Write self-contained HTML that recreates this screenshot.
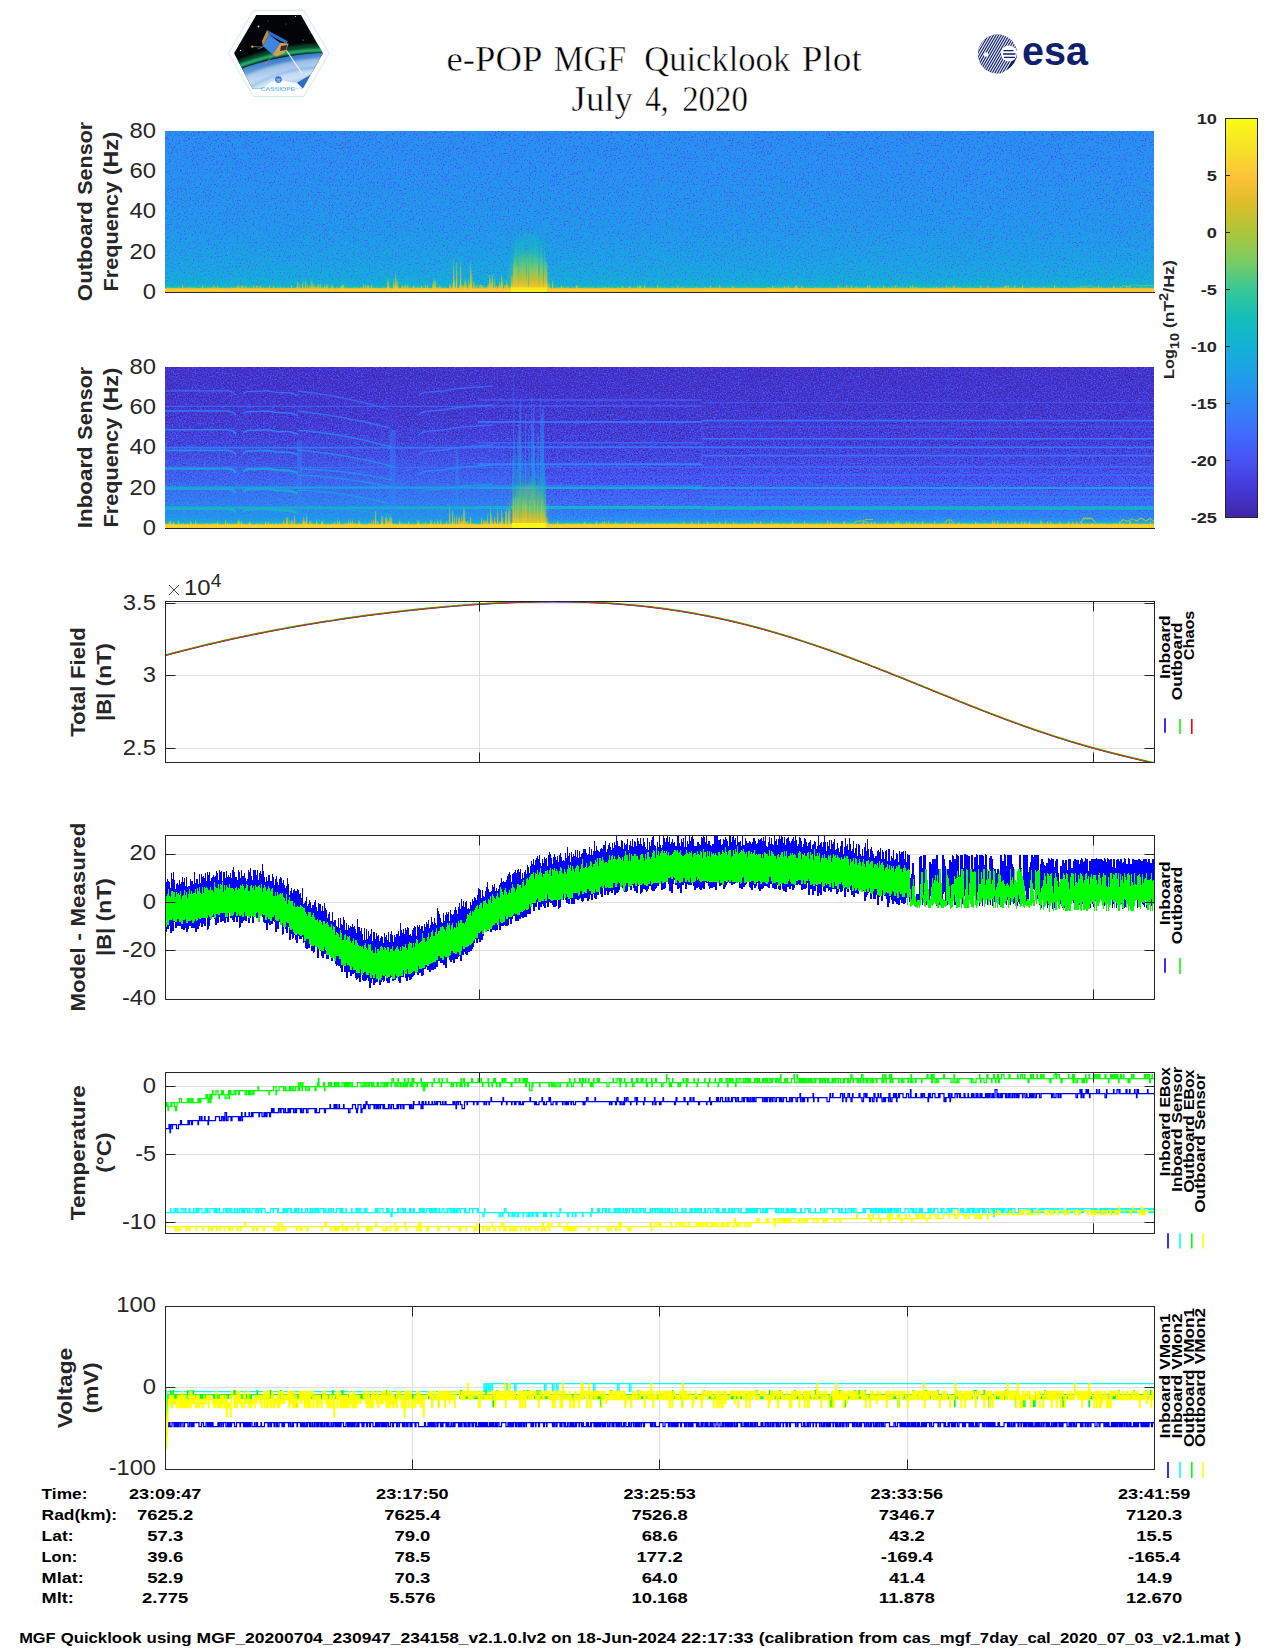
<!DOCTYPE html>
<html><head><meta charset="utf-8"><title>e-POP MGF Quicklook Plot</title>
<style>html,body{margin:0;padding:0;background:#fff}body{width:1275px;height:1650px;overflow:hidden;font-family:"Liberation Sans",sans-serif}svg{display:block}</style>
</head><body>
<svg width="1275" height="1650" viewBox="0 0 1275 1650">
<defs>
<linearGradient id="cb" x1="0" y1="0" x2="0" y2="1"><stop offset="0.0000" stop-color="#F9FB15"/><stop offset="0.0710" stop-color="#F5E327"/><stop offset="0.1430" stop-color="#FEC338"/><stop offset="0.2140" stop-color="#DCBD29"/><stop offset="0.2860" stop-color="#ABC739"/><stop offset="0.3570" stop-color="#7ACC62"/><stop offset="0.4290" stop-color="#37C897"/><stop offset="0.5000" stop-color="#12BEB9"/><stop offset="0.5710" stop-color="#12B1D6"/><stop offset="0.6430" stop-color="#1E9EE8"/><stop offset="0.7140" stop-color="#2E87F7"/><stop offset="0.7860" stop-color="#3F6DFC"/><stop offset="0.8570" stop-color="#4852F4"/><stop offset="0.9286" stop-color="#4538D7"/><stop offset="1.0000" stop-color="#3E26A8"/></linearGradient>
<linearGradient id="s1" x1="0" y1="0" x2="0" y2="1"><stop offset="0.0000" stop-color="#2a8df3"/><stop offset="0.3000" stop-color="#2791f0"/><stop offset="0.6000" stop-color="#2298ec"/><stop offset="0.8000" stop-color="#1ca2e4"/><stop offset="0.9000" stop-color="#17a9dd"/><stop offset="0.9580" stop-color="#12b2d3"/><stop offset="0.9720" stop-color="#28c4a4"/><stop offset="0.9800" stop-color="#f0c132"/><stop offset="1.0000" stop-color="#fcc935"/></linearGradient>
<linearGradient id="s1d" x1="0" y1="0" x2="0" y2="1"><stop offset="0.0000" stop-color="#4853f4"/><stop offset="0.3000" stop-color="#4657f6"/><stop offset="0.6000" stop-color="#4360f8"/><stop offset="0.8000" stop-color="#3f6cfc"/><stop offset="0.9000" stop-color="#3976fa"/><stop offset="0.9580" stop-color="#3084f8"/><stop offset="0.9720" stop-color="#28c4a4"/><stop offset="0.9800" stop-color="#f0c132"/><stop offset="1.0000" stop-color="#fcc935"/></linearGradient>
<linearGradient id="s1l" x1="0" y1="0" x2="0" y2="1"><stop offset="0.0000" stop-color="#1da0e7"/><stop offset="0.3000" stop-color="#1ba3e4"/><stop offset="0.6000" stop-color="#17a9de"/><stop offset="0.8000" stop-color="#12b1d6"/><stop offset="0.9000" stop-color="#12b6cb"/><stop offset="0.9580" stop-color="#12bdbb"/><stop offset="0.9720" stop-color="#28c4a4"/><stop offset="0.9800" stop-color="#f0c132"/><stop offset="1.0000" stop-color="#fcc935"/></linearGradient>
<linearGradient id="s2" x1="0" y1="0" x2="0" y2="1"><stop offset="0.0000" stop-color="#4332c8"/><stop offset="0.2500" stop-color="#4436d1"/><stop offset="0.5000" stop-color="#4640e0"/><stop offset="0.7000" stop-color="#4853f4"/><stop offset="0.8500" stop-color="#406bfb"/><stop offset="0.9300" stop-color="#337ff9"/><stop offset="0.9580" stop-color="#2199eb"/><stop offset="0.9700" stop-color="#37c897"/><stop offset="0.9780" stop-color="#fec338"/><stop offset="1.0000" stop-color="#f7dc2a"/></linearGradient>
<linearGradient id="s2d" x1="0" y1="0" x2="0" y2="1"><stop offset="0.0000" stop-color="#3e26a8"/><stop offset="0.2500" stop-color="#3e26a8"/><stop offset="0.5000" stop-color="#3e27aa"/><stop offset="0.7000" stop-color="#4334cc"/><stop offset="0.8500" stop-color="#4749ea"/><stop offset="0.9300" stop-color="#445df7"/><stop offset="0.9580" stop-color="#367bf9"/><stop offset="0.9700" stop-color="#37c897"/><stop offset="0.9780" stop-color="#fec338"/><stop offset="1.0000" stop-color="#f7dc2a"/></linearGradient>
<linearGradient id="s2l" x1="0" y1="0" x2="0" y2="1"><stop offset="0.0000" stop-color="#474dee"/><stop offset="0.2500" stop-color="#4852f4"/><stop offset="0.5000" stop-color="#445ef8"/><stop offset="0.7000" stop-color="#3c71fb"/><stop offset="0.8500" stop-color="#2d88f6"/><stop offset="0.9300" stop-color="#2199eb"/><stop offset="0.9580" stop-color="#13afd8"/><stop offset="0.9700" stop-color="#37c897"/><stop offset="0.9780" stop-color="#fec338"/><stop offset="1.0000" stop-color="#f7dc2a"/></linearGradient>
<linearGradient id="b1" x1="0" y1="0" x2="0" y2="1"><stop offset="0" stop-color="#37c897" stop-opacity="0"/><stop offset="0.35" stop-color="#7acc62" stop-opacity="0.55"/><stop offset="0.7" stop-color="#dcbd29" stop-opacity="0.85"/><stop offset="1" stop-color="#f9e81c" stop-opacity="1"/></linearGradient>
<linearGradient id="b2" gradientUnits="userSpaceOnUse" x1="0" y1="367" x2="0" y2="528"><stop offset="0" stop-color="#3f6dfc" stop-opacity="0.35"/><stop offset="0.4" stop-color="#2e87f7" stop-opacity="0.6"/><stop offset="0.64" stop-color="#1e9ee8" stop-opacity="0.78"/><stop offset="0.8" stop-color="#12beb9" stop-opacity="0.85"/><stop offset="0.875" stop-color="#7acc62" stop-opacity="0.9"/><stop offset="0.925" stop-color="#dcbd29" stop-opacity="0.95"/><stop offset="0.96" stop-color="#fec338"/><stop offset="1" stop-color="#f9f01a"/></linearGradient>
<linearGradient id="g1_6" gradientUnits="userSpaceOnUse" x1="0" y1="286" x2="0" y2="289"><stop offset="0" stop-color="#12b1d6" stop-opacity="0.1"/><stop offset="0.25" stop-color="#37c897" stop-opacity="0.5"/><stop offset="0.5" stop-color="#8fca55" stop-opacity="0.7"/><stop offset="0.75" stop-color="#d4bd2b" stop-opacity="0.85"/><stop offset="1" stop-color="#f8cf2b" stop-opacity="0.95"/></linearGradient>
<linearGradient id="g1_10" gradientUnits="userSpaceOnUse" x1="0" y1="282" x2="0" y2="289"><stop offset="0" stop-color="#12b1d6" stop-opacity="0.1"/><stop offset="0.25" stop-color="#37c897" stop-opacity="0.5"/><stop offset="0.5" stop-color="#8fca55" stop-opacity="0.7"/><stop offset="0.75" stop-color="#d4bd2b" stop-opacity="0.85"/><stop offset="1" stop-color="#f8cf2b" stop-opacity="0.95"/></linearGradient>
<linearGradient id="g1_16" gradientUnits="userSpaceOnUse" x1="0" y1="276" x2="0" y2="289"><stop offset="0" stop-color="#12b1d6" stop-opacity="0.1"/><stop offset="0.25" stop-color="#37c897" stop-opacity="0.5"/><stop offset="0.5" stop-color="#8fca55" stop-opacity="0.7"/><stop offset="0.75" stop-color="#d4bd2b" stop-opacity="0.85"/><stop offset="1" stop-color="#f8cf2b" stop-opacity="0.95"/></linearGradient>
<linearGradient id="g1_26" gradientUnits="userSpaceOnUse" x1="0" y1="266" x2="0" y2="289"><stop offset="0" stop-color="#12b1d6" stop-opacity="0.1"/><stop offset="0.25" stop-color="#37c897" stop-opacity="0.5"/><stop offset="0.5" stop-color="#8fca55" stop-opacity="0.7"/><stop offset="0.75" stop-color="#d4bd2b" stop-opacity="0.85"/><stop offset="1" stop-color="#f8cf2b" stop-opacity="0.95"/></linearGradient>
<linearGradient id="g1_42" gradientUnits="userSpaceOnUse" x1="0" y1="250" x2="0" y2="289"><stop offset="0" stop-color="#12b1d6" stop-opacity="0.1"/><stop offset="0.25" stop-color="#37c897" stop-opacity="0.5"/><stop offset="0.5" stop-color="#8fca55" stop-opacity="0.7"/><stop offset="0.75" stop-color="#d4bd2b" stop-opacity="0.85"/><stop offset="1" stop-color="#f8cf2b" stop-opacity="0.95"/></linearGradient>
<linearGradient id="g1_80" gradientUnits="userSpaceOnUse" x1="0" y1="212" x2="0" y2="289"><stop offset="0" stop-color="#12b1d6" stop-opacity="0"/><stop offset="0.4" stop-color="#12beb9" stop-opacity="0.35"/><stop offset="0.6" stop-color="#37c897" stop-opacity="0.5"/><stop offset="0.75" stop-color="#8fca55" stop-opacity="0.65"/><stop offset="0.9" stop-color="#d4bd2b" stop-opacity="0.85"/><stop offset="1" stop-color="#f8cf2b" stop-opacity="0.95"/></linearGradient>
<linearGradient id="g2_6" gradientUnits="userSpaceOnUse" x1="0" y1="522" x2="0" y2="525"><stop offset="0" stop-color="#12b1d6" stop-opacity="0.1"/><stop offset="0.25" stop-color="#37c897" stop-opacity="0.5"/><stop offset="0.5" stop-color="#8fca55" stop-opacity="0.7"/><stop offset="0.75" stop-color="#d4bd2b" stop-opacity="0.85"/><stop offset="1" stop-color="#f8cf2b" stop-opacity="0.95"/></linearGradient>
<linearGradient id="g2_10" gradientUnits="userSpaceOnUse" x1="0" y1="518" x2="0" y2="525"><stop offset="0" stop-color="#12b1d6" stop-opacity="0.1"/><stop offset="0.25" stop-color="#37c897" stop-opacity="0.5"/><stop offset="0.5" stop-color="#8fca55" stop-opacity="0.7"/><stop offset="0.75" stop-color="#d4bd2b" stop-opacity="0.85"/><stop offset="1" stop-color="#f8cf2b" stop-opacity="0.95"/></linearGradient>
<linearGradient id="g2_16" gradientUnits="userSpaceOnUse" x1="0" y1="512" x2="0" y2="525"><stop offset="0" stop-color="#12b1d6" stop-opacity="0.1"/><stop offset="0.25" stop-color="#37c897" stop-opacity="0.5"/><stop offset="0.5" stop-color="#8fca55" stop-opacity="0.7"/><stop offset="0.75" stop-color="#d4bd2b" stop-opacity="0.85"/><stop offset="1" stop-color="#f8cf2b" stop-opacity="0.95"/></linearGradient>
<linearGradient id="g2_26" gradientUnits="userSpaceOnUse" x1="0" y1="502" x2="0" y2="525"><stop offset="0" stop-color="#12b1d6" stop-opacity="0.1"/><stop offset="0.25" stop-color="#37c897" stop-opacity="0.5"/><stop offset="0.5" stop-color="#8fca55" stop-opacity="0.7"/><stop offset="0.75" stop-color="#d4bd2b" stop-opacity="0.85"/><stop offset="1" stop-color="#f8cf2b" stop-opacity="0.95"/></linearGradient>
<linearGradient id="g2_42" gradientUnits="userSpaceOnUse" x1="0" y1="486" x2="0" y2="525"><stop offset="0" stop-color="#12b1d6" stop-opacity="0.1"/><stop offset="0.25" stop-color="#37c897" stop-opacity="0.5"/><stop offset="0.5" stop-color="#8fca55" stop-opacity="0.7"/><stop offset="0.75" stop-color="#d4bd2b" stop-opacity="0.85"/><stop offset="1" stop-color="#f8cf2b" stop-opacity="0.95"/></linearGradient>
<linearGradient id="g2_80" gradientUnits="userSpaceOnUse" x1="0" y1="448" x2="0" y2="525"><stop offset="0" stop-color="#12b1d6" stop-opacity="0"/><stop offset="0.4" stop-color="#12beb9" stop-opacity="0.35"/><stop offset="0.6" stop-color="#37c897" stop-opacity="0.5"/><stop offset="0.75" stop-color="#8fca55" stop-opacity="0.65"/><stop offset="0.9" stop-color="#d4bd2b" stop-opacity="0.85"/><stop offset="1" stop-color="#f8cf2b" stop-opacity="0.95"/></linearGradient>
<linearGradient id="hz" x1="0" y1="0" x2="0" y2="1"><stop offset="0" stop-color="#3f6dfc" stop-opacity="0"/><stop offset="0.45" stop-color="#2e87f7" stop-opacity="0.25"/><stop offset="0.8" stop-color="#1e9ee8" stop-opacity="0.42"/><stop offset="1" stop-color="#12b1d6" stop-opacity="0.65"/></linearGradient>
<linearGradient id="hz2" x1="0" y1="0" x2="0" y2="1"><stop offset="0" stop-color="#2e87f7" stop-opacity="0"/><stop offset="1" stop-color="#1e9ee8" stop-opacity="0.35"/></linearGradient>
<linearGradient id="b3" x1="0" y1="0" x2="0" y2="1"><stop offset="0" stop-color="#12b1d6" stop-opacity="0"/><stop offset="0.6" stop-color="#12beb9" stop-opacity="0.6"/><stop offset="1" stop-color="#abc739" stop-opacity="0.9"/></linearGradient>
<filter id="m1d" x="0" y="0" width="1" height="1" color-interpolation-filters="sRGB"><feTurbulence type="fractalNoise" baseFrequency="0.62" numOctaves="2" seed="3"/><feColorMatrix type="matrix" values="0 0 0 0 0 0 0 0 0 0 0 0 0 0 0 7.0 0 0 0 -4.0" result="m"/><feComposite in="SourceGraphic" in2="m" operator="in"/></filter>
<filter id="m1l" x="0" y="0" width="1" height="1" color-interpolation-filters="sRGB"><feTurbulence type="fractalNoise" baseFrequency="0.62" numOctaves="2" seed="11"/><feColorMatrix type="matrix" values="0 0 0 0 0 0 0 0 0 0 0 0 0 0 0 0 6.0 0 0 -3.5" result="m"/><feComposite in="SourceGraphic" in2="m" operator="in"/></filter>
<filter id="m2d" x="0" y="0" width="1" height="1" color-interpolation-filters="sRGB"><feTurbulence type="fractalNoise" baseFrequency="0.68" numOctaves="2" seed="5"/><feColorMatrix type="matrix" values="0 0 0 0 0 0 0 0 0 0 0 0 0 0 0 6.0 0 0 0 -3.0" result="m"/><feComposite in="SourceGraphic" in2="m" operator="in"/></filter>
<filter id="m2l" x="0" y="0" width="1" height="1" color-interpolation-filters="sRGB"><feTurbulence type="fractalNoise" baseFrequency="0.68" numOctaves="2" seed="17"/><feColorMatrix type="matrix" values="0 0 0 0 0 0 0 0 0 0 0 0 0 0 0 0 6.0 0 0 -3.1" result="m"/><feComposite in="SourceGraphic" in2="m" operator="in"/></filter>
<clipPath id="c1"><rect x="165" y="131" width="990" height="162"/></clipPath>
<clipPath id="c2"><rect x="165" y="367" width="990" height="162"/></clipPath>
<clipPath id="c3"><rect x="165" y="601" width="990" height="162"/></clipPath>
<clipPath id="c4"><rect x="165" y="835" width="990" height="165"/></clipPath>
<clipPath id="c5"><rect x="165" y="1072" width="990" height="162"/></clipPath>
<clipPath id="c6"><rect x="165" y="1306" width="990" height="164"/></clipPath>
<filter id="bl" x="-0.3" y="-0.3" width="1.6" height="1.6"><feGaussianBlur stdDeviation="3.5"/></filter>
<clipPath id="hex"><polygon points="234.1,53.2 256.2,15.1 300.9,15.1 322.9,53.2 302.8,88.7 252.5,88.7"/></clipPath>
<filter id="bl1" x="-0.2" y="-0.5" width="1.4" height="2"><feGaussianBlur stdDeviation="1.1"/></filter>
<linearGradient id="earth2" x1="0.2" y1="0" x2="0.55" y2="1"><stop offset="0" stop-color="#123f8c"/><stop offset="0.18" stop-color="#2f74c8"/><stop offset="0.5" stop-color="#8ebbe8"/><stop offset="0.8" stop-color="#c4dcf4"/><stop offset="1" stop-color="#6fa6e0"/></linearGradient>
<radialGradient id="earth" cx="0.55" cy="1.6" r="1.5"><stop offset="0.72" stop-color="#dfeefa"/><stop offset="0.86" stop-color="#5a9bd8"/><stop offset="0.92" stop-color="#1d5fb0"/><stop offset="0.96" stop-color="#2f9d5a"/><stop offset="1" stop-color="#050a10"/></radialGradient>
<clipPath id="esaclip"><circle cx="997.5" cy="54" r="19.6"/></clipPath>
</defs>
<rect x="0" y="0" width="1275" height="1650" fill="#ffffff"/>
<g id="cassiope">
<polygon points="228.5,53.2 253.4,10.4 303.8,10.4 329.2,53.2 303.8,96.5 253.4,96.5" fill="#ffffff" stroke="#c9e9f2" stroke-width="0.9"/>
<g clip-path="url(#hex)">
<rect x="228" y="10" width="100" height="90" fill="#020408"/>
<g fill="#cfd8ff"><circle cx="258.5" cy="26.5" r="0.9"/><circle cx="240.5" cy="50.5" r="0.7"/><circle cx="295.5" cy="16.5" r="0.6"/><circle cx="303" cy="40" r="0.5"/><circle cx="268" cy="21" r="0.4"/><circle cx="310" cy="33" r="0.4"/><circle cx="286" cy="24" r="0.4"/></g>
<path d="M228,69 Q276,46 330,47.5" stroke="#0f7a45" stroke-width="8" fill="none" opacity="0.55" filter="url(#bl1)"/>
<path d="M228,70.5 Q276,49.5 330,50" stroke="#27b86f" stroke-width="3.6" fill="none" filter="url(#bl1)"/>
<path d="M228,74 Q276,53 330,52.5 L330,100 L228,100 Z" fill="url(#earth2)"/>
<path d="M236,80 Q280,58 330,58 L330,66 Q285,66 246,88 Z" fill="#ffffff" opacity="0.38" filter="url(#bl1)"/>
<path d="M250,90 Q285,66 326,70 L322,78 Q290,76 262,94 Z" fill="#ffffff" opacity="0.45" filter="url(#bl1)"/>
<polygon points="267,30 287.8,41.3 286.8,44.2 269,34.8" fill="#2d6fcb"/>
<polygon points="262.8,46 269,34.8 280.2,42.8 272.7,54.6" fill="#3c86dd"/>
<polygon points="262.8,46 269,34.8 267,30 262,41" fill="#b98a44"/>
<polygon points="272.7,54.6 280.2,42.8 288.7,43.8 285,52.7 276.5,56.5" fill="#caa25a"/>
<polygon points="281,46 287.5,45 285.5,50 280,51" fill="#3a2d22"/>
<path d="M262.4,47 L252,46.6 M272.7,55.5 L266.1,63 M267,45 L258,49" stroke="#8a8f98" stroke-width="0.7" fill="none"/>
<path d="M286.4,50.4 L301.9,73.4" stroke="#eef4ff" stroke-width="1.1" opacity="0.9" fill="none"/>
<circle cx="252.3" cy="46.6" r="1.2" fill="#f0a030"/><circle cx="266" cy="63.2" r="0.8" fill="#e09030"/>
<path d="M244,100 L250,86 Q262,80 276,82 Q288,84 297,83.2 L310.8,74.4 L303,88.5 L300,100 Z" fill="#ffffff" opacity="0.0"/>
<path d="M262,90 Q270,78.5 282,80.5 Q291,82 297.5,83 L303,88.8 L300,100 L256,100 Z" fill="#ffffff" opacity="0.93"/>
<polygon points="297,82.8 310.8,74.4 302.8,88.6" fill="#2c6cc4"/>
</g>
<circle cx="278.4" cy="79.6" r="3.3" fill="#2a72d2"/>
<path d="M276.3,79.2 h4.4 M276.6,81 h3.6" stroke="#ffffff" stroke-width="0.7"/>
<text x="260.90" y="90.60" font-family="Liberation Sans, sans-serif" font-size="4.94" fill="#2aa9d8" textLength="34.40" lengthAdjust="spacingAndGlyphs" opacity="0.85">CASSIOPE</text>
</g>
<g id="esa">
<circle cx="997.5" cy="54" r="19.6" fill="#0f1f6e"/>
<g clip-path="url(#esaclip)"><path d="M949.0,78.0 L977.0,30.0 M951.6,78.0 L979.6,30.0 M954.2,78.0 L982.2,30.0 M956.8,78.0 L984.8,30.0 M959.4,78.0 L987.4,30.0 M962.0,78.0 L990.0,30.0 M964.6,78.0 L992.6,30.0 M967.2,78.0 L995.2,30.0 M969.8,78.0 L997.8,30.0 M972.4,78.0 L1000.4,30.0 M975.0,78.0 L1003.0,30.0 M977.6,78.0 L1005.6,30.0 M980.2,78.0 L1008.2,30.0 M982.8,78.0 L1010.8,30.0 M985.4,78.0 L1013.4,30.0 M988.0,78.0 L1016.0,30.0 M990.6,78.0 L1018.6,30.0 M993.2,78.0 L1021.2,30.0 M995.8,78.0 L1023.8,30.0 M998.4,78.0 L1026.4,30.0 M1001.0,78.0 L1029.0,30.0" stroke="#ffffff" stroke-width="1.15" opacity="0.9" fill="none"/></g>
<path d="M1016.5,58 Q1013,68 1001,73.5 L1004,75 Q1016,70 1018.5,59 Z" fill="#ffffff"/>
<circle cx="1009" cy="53.6" r="8.0" fill="#ffffff"/>
<path d="M1003.5,50.6 h10 M1003,54 h12.5 M1004,57.4 h11" stroke="#0f1f6e" stroke-width="1.3" fill="none"/>
<circle cx="986" cy="54.5" r="2.2" fill="#ffffff"/>
<text x="1022.00" y="65.00" font-family="Liberation Sans, sans-serif" font-size="40.00" font-weight="bold" fill="#0f1f6e" textLength="66.00" lengthAdjust="spacingAndGlyphs">esa</text>
</g>
<text x="446.60" y="71.00" font-family="Liberation Serif, sans-serif" font-size="35.00" fill="#000000" textLength="95.80" lengthAdjust="spacingAndGlyphs" stroke="#ffffff" stroke-width="0.45">e-POP</text>
<text x="553.80" y="71.00" font-family="Liberation Serif, sans-serif" font-size="35.00" fill="#000000" textLength="72.40" lengthAdjust="spacingAndGlyphs" stroke="#ffffff" stroke-width="0.45">MGF</text>
<text x="644.20" y="71.00" font-family="Liberation Serif, sans-serif" font-size="35.00" fill="#000000" textLength="146.00" lengthAdjust="spacingAndGlyphs" stroke="#ffffff" stroke-width="0.45">Quicklook</text>
<text x="801.80" y="71.00" font-family="Liberation Serif, sans-serif" font-size="35.00" fill="#000000" textLength="60.00" lengthAdjust="spacingAndGlyphs" stroke="#ffffff" stroke-width="0.45">Plot</text>
<text x="571.60" y="110.90" font-family="Liberation Serif, sans-serif" font-size="35.00" fill="#000000" textLength="61.20" lengthAdjust="spacingAndGlyphs" stroke="#ffffff" stroke-width="0.45">July</text>
<text x="645.20" y="110.90" font-family="Liberation Serif, sans-serif" font-size="35.00" fill="#000000" textLength="23.40" lengthAdjust="spacingAndGlyphs" stroke="#ffffff" stroke-width="0.45">4,</text>
<text x="682.20" y="110.90" font-family="Liberation Serif, sans-serif" font-size="35.00" fill="#000000" textLength="65.70" lengthAdjust="spacingAndGlyphs" stroke="#ffffff" stroke-width="0.45">2020</text>
<rect x="165" y="131" width="989" height="161" fill="url(#s1)"/>
<rect x="165" y="131" width="989" height="161" fill="url(#s1d)" filter="url(#m1d)"/>
<rect x="165" y="131" width="989" height="161" fill="url(#s1l)" filter="url(#m1l)"/>
<g clip-path="url(#c1)">
<path d="M507,292 L510,270 L515,246 L520,236 L532,234 L541,244 L546,266 L550,292 Z" fill="#12bbbf" opacity="0.5" filter="url(#bl)"/>
<path d="M510,292 L513,268 L518,256 L530,254 L541,260 L545,278 L548,292 Z" fill="#84cb5a" opacity="0.5" filter="url(#bl)"/>
</g>
<path d="M449,292 L452,278 L471,278 L474,292 Z" fill="#12bbbf" opacity="0.45" filter="url(#bl)" clip-path="url(#c1)"/>
<path d="M382,292 L385,283 L401,283 L404,292 Z" fill="#12bbbf" opacity="0.45" filter="url(#bl)" clip-path="url(#c1)"/>
<path d="M486,292 L489,283 L507,283 L510,292 Z" fill="#12bbbf" opacity="0.45" filter="url(#bl)" clip-path="url(#c1)"/>
<path d="M292,292 L295,286 L331,286 L334,292 Z" fill="#12bbbf" opacity="0.45" filter="url(#bl)" clip-path="url(#c1)"/>
<path d="M404,292 L407,287 L447,287 L450,292 Z" fill="#12bbbf" opacity="0.45" filter="url(#bl)" clip-path="url(#c1)"/>
<path d="M455.6,292v-5.5M462.6,292v-5.1M463.6,292v-5.4M385.6,292v-4.5M389.6,292v-5.0M391.6,292v-4.0M493.6,292v-4.1M495.6,292v-5.8M427.6,292v-3.0M430.6,292v-3.1M437.6,292v-5.3M438.6,292v-5.1M440.6,292v-5.0M445.6,292v-6.1M446.6,292v-4.0M406.6,292v-6.0M408.6,292v-5.5M410.6,292v-5.1M411.6,292v-3.3M417.6,292v-6.0M422.6,292v-4.6M296.6,292v-5.9M306.6,292v-3.3M309.6,292v-3.2M315.6,292v-5.1M316.6,292v-5.6M322.6,292v-3.6M323.6,292v-5.9M325.6,292v-4.5M328.6,292v-4.0M330.6,292v-3.5M236.6,292v-4.7M241.6,292v-2.3M242.6,292v-5.3M243.6,292v-5.3M247.6,292v-4.1M251.6,292v-4.2M348.6,292v-2.3M351.6,292v-2.7M355.6,292v-3.1M356.6,292v-3.9M360.6,292v-2.8M362.6,292v-4.6M364.6,292v-2.4M367.6,292v-2.2M376.6,292v-4.5M483.6,292v-5.1M484.6,292v-4.2M486.6,292v-3.1M487.6,292v-4.7M167.6,292v-5.3M178.6,292v-5.7M183.6,292v-4.3M184.6,292v-4.2M186.6,292v-4.6M187.6,292v-4.2M188.6,292v-6.0M190.6,292v-5.6M193.6,292v-5.4M194.6,292v-4.2M196.6,292v-4.2M200.6,292v-4.2M207.6,292v-5.0M208.6,292v-5.6M209.6,292v-4.2M211.6,292v-5.7M212.6,292v-4.2M214.6,292v-4.6M215.6,292v-5.4M220.6,292v-4.5M223.6,292v-4.6M228.6,292v-4.8M231.6,292v-5.4M232.6,292v-4.2M233.6,292v-4.2M234.6,292v-6.0M235.6,292v-4.3M237.6,292v-4.2M239.6,292v-4.7M244.6,292v-4.2M246.6,292v-5.9M248.6,292v-5.9M251.6,292v-4.7M254.6,292v-5.7M255.6,292v-4.3M257.6,292v-6.1M259.6,292v-5.8M261.6,292v-4.3M263.6,292v-5.6M264.6,292v-4.3M267.6,292v-6.1M274.6,292v-4.2M277.6,292v-5.4M278.6,292v-4.2M280.6,292v-4.9M282.6,292v-4.3M283.6,292v-4.3M284.6,292v-4.4M288.6,292v-4.8M297.6,292v-5.1M303.6,292v-5.2M304.6,292v-4.2M310.6,292v-5.8M311.6,292v-4.3M313.6,292v-5.2M315.6,292v-5.9M317.6,292v-4.3M319.6,292v-5.5M322.6,292v-5.4M323.6,292v-4.2M331.6,292v-4.6M336.6,292v-5.8M340.6,292v-4.9M346.6,292v-5.6M351.6,292v-4.6M354.6,292v-5.4M356.6,292v-5.7M360.6,292v-4.7M370.6,292v-5.0M373.6,292v-4.3M376.6,292v-4.2M378.6,292v-4.3M382.6,292v-4.3M383.6,292v-5.4M385.6,292v-4.6M387.6,292v-4.7M389.6,292v-4.4M393.6,292v-4.2M394.6,292v-5.8M398.6,292v-6.1M403.6,292v-4.6M407.6,292v-4.3M412.6,292v-5.5M414.6,292v-6.0M416.6,292v-6.1M419.6,292v-4.5M422.6,292v-4.3M426.6,292v-4.3M433.6,292v-4.7M434.6,292v-4.7M439.6,292v-5.3M440.6,292v-4.9M442.6,292v-4.8M444.6,292v-4.2M445.6,292v-5.4M457.6,292v-4.2M458.6,292v-4.2M459.6,292v-6.0M460.6,292v-5.4M461.6,292v-4.4M464.6,292v-4.4M465.6,292v-5.5M470.6,292v-4.3M477.6,292v-4.4M481.6,292v-4.2M484.6,292v-4.9M485.6,292v-5.0M486.6,292v-4.3M490.6,292v-4.9M492.6,292v-4.9M497.6,292v-5.0M500.6,292v-4.4M511.6,292v-4.3M515.6,292v-4.2M523.6,292v-4.6M529.6,292v-5.8M530.6,292v-4.2M535.6,292v-4.3M538.6,292v-4.2M539.6,292v-4.3M540.6,292v-5.7M541.6,292v-4.3M543.6,292v-4.7M548.6,292v-5.4M551.6,292v-4.3M555.6,292v-4.7M557.6,292v-4.7M558.6,292v-5.0M559.6,292v-4.2M560.6,292v-4.8M563.6,292v-6.0M564.6,292v-4.2M565.6,292v-4.8M567.6,292v-6.0M568.6,292v-6.1M571.6,292v-4.3M572.6,292v-5.1M575.6,292v-5.4M583.6,292v-4.5M584.6,292v-5.0M586.6,292v-5.0M588.6,292v-5.1M590.6,292v-6.0M592.6,292v-5.2M598.6,292v-4.9M601.6,292v-4.2M602.6,292v-4.4M603.6,292v-4.2M604.6,292v-5.9M605.6,292v-5.6M606.6,292v-4.2M608.6,292v-5.8M609.6,292v-4.3M611.6,292v-5.2M617.6,292v-5.8M618.6,292v-4.5M621.6,292v-4.5M623.6,292v-4.2M628.6,292v-4.9M631.6,292v-5.3M633.6,292v-4.5M634.6,292v-4.5M635.6,292v-4.2M638.6,292v-4.2M645.6,292v-5.6M649.6,292v-4.7M651.6,292v-5.9M654.6,292v-4.3M659.6,292v-4.4M660.6,292v-5.3M663.6,292v-4.2M664.6,292v-6.1M671.6,292v-4.5M672.6,292v-5.3M680.6,292v-4.5M681.6,292v-5.6M682.6,292v-4.8M683.6,292v-4.5M688.6,292v-4.2M695.6,292v-4.9M696.6,292v-5.7M704.6,292v-5.4M705.6,292v-4.3M709.6,292v-4.5M713.6,292v-4.3M715.6,292v-4.5M716.6,292v-4.5M717.6,292v-4.3M721.6,292v-5.4M727.6,292v-5.6M728.6,292v-4.2M733.6,292v-5.9M744.6,292v-4.3M746.6,292v-5.7M747.6,292v-4.2M748.6,292v-4.5M751.6,292v-4.3M754.6,292v-4.7M758.6,292v-4.3M767.6,292v-5.7M768.6,292v-5.2M769.6,292v-4.3M773.6,292v-5.0M776.6,292v-4.6M778.6,292v-5.4M779.6,292v-4.2M782.6,292v-5.0M786.6,292v-5.6M790.6,292v-4.2M793.6,292v-4.5M794.6,292v-5.7M797.6,292v-5.8M803.6,292v-6.1M809.6,292v-4.2M814.6,292v-5.3M818.6,292v-4.4M820.6,292v-4.2M825.6,292v-4.3M829.6,292v-5.1M837.6,292v-4.6M840.6,292v-4.8M841.6,292v-6.1M842.6,292v-4.8M844.6,292v-5.8M848.6,292v-4.4M854.6,292v-4.4M855.6,292v-5.5M856.6,292v-5.5M857.6,292v-4.8M858.6,292v-4.4M861.6,292v-4.7M863.6,292v-4.2M866.6,292v-5.9M873.6,292v-4.2M877.6,292v-5.7M878.6,292v-5.1M885.6,292v-5.0M888.6,292v-4.9M892.6,292v-5.9M893.6,292v-4.2M897.6,292v-4.2M899.6,292v-5.7M901.6,292v-4.2M902.6,292v-5.5M906.6,292v-5.2M914.6,292v-5.2M915.6,292v-5.5M916.6,292v-5.4M919.6,292v-4.5M923.6,292v-5.7M924.6,292v-4.6M930.6,292v-4.6M932.6,292v-4.3M933.6,292v-4.8M935.6,292v-4.5M936.6,292v-5.2M937.6,292v-4.9M941.6,292v-4.4M942.6,292v-5.0M948.6,292v-5.2M949.6,292v-4.3M950.6,292v-5.6M952.6,292v-5.3M957.6,292v-6.1M958.6,292v-5.3M960.6,292v-4.7M967.6,292v-4.3M969.6,292v-5.6M972.6,292v-4.5M979.6,292v-4.3M988.6,292v-5.0M994.6,292v-4.2M996.6,292v-4.3M997.6,292v-5.9M998.6,292v-4.3M1000.6,292v-5.0M1001.6,292v-4.8M1003.6,292v-4.5M1007.6,292v-4.2M1011.6,292v-5.0M1015.6,292v-4.8M1016.6,292v-4.3M1019.6,292v-4.7M1020.6,292v-4.4M1023.6,292v-4.2M1030.6,292v-4.3M1031.6,292v-4.8M1032.6,292v-5.2M1034.6,292v-4.6M1038.6,292v-5.2M1043.6,292v-4.9M1044.6,292v-4.8M1056.6,292v-4.2M1057.6,292v-5.4M1063.6,292v-5.1M1066.6,292v-5.7M1072.6,292v-4.2M1073.6,292v-4.3M1076.6,292v-5.4M1078.6,292v-5.7M1079.6,292v-4.2M1080.6,292v-5.0M1081.6,292v-5.0M1082.6,292v-4.9M1084.6,292v-5.3M1086.6,292v-5.1M1093.6,292v-4.4M1094.6,292v-5.2M1095.6,292v-5.5M1096.6,292v-5.0M1101.6,292v-6.1M1106.6,292v-4.3M1108.6,292v-5.0M1112.6,292v-4.4M1114.6,292v-5.2M1116.6,292v-4.3M1117.6,292v-4.7M1120.6,292v-5.2M1134.6,292v-5.7M1140.6,292v-4.3M1141.6,292v-5.4M1142.6,292v-4.3M1144.6,292v-4.2M1146.6,292v-4.2" stroke="url(#g1_6)" stroke-width="1.25" fill="none"/>
<path d="M452.6,292v-9.4M459.6,292v-6.4M461.6,292v-7.6M466.6,292v-9.6M469.6,292v-9.2M394.6,292v-8.9M488.6,292v-9.6M498.6,292v-6.2M500.6,292v-6.9M507.6,292v-10.1M432.6,292v-9.8M439.6,292v-7.3M449.6,292v-9.5M405.6,292v-8.8M407.6,292v-9.5M421.6,292v-6.9M299.6,292v-8.7M307.6,292v-8.4M312.6,292v-8.9M313.6,292v-8.9M314.6,292v-6.8M317.6,292v-9.3M318.6,292v-7.9M320.6,292v-8.8M324.6,292v-8.4M326.6,292v-7.0M327.6,292v-8.2M331.6,292v-7.4M237.6,292v-6.4M238.6,292v-7.8M245.6,292v-6.3M341.6,292v-7.0M342.6,292v-7.5M343.6,292v-8.0M363.6,292v-8.7M371.6,292v-8.4M474.6,292v-9.7M476.6,292v-7.7M479.6,292v-7.2M480.6,292v-7.9M481.6,292v-6.7M548.6,292v-9.5M549.6,292v-8.7M182.6,292v-7.4M202.6,292v-6.9M213.6,292v-6.4M217.6,292v-6.1M238.6,292v-7.3M241.6,292v-6.9M242.6,292v-6.5M253.6,292v-7.3M256.6,292v-6.8M260.6,292v-6.8M269.6,292v-7.5M273.6,292v-6.3M291.6,292v-7.0M309.6,292v-7.2M326.6,292v-6.9M332.6,292v-6.7M365.6,292v-7.2M367.6,292v-6.7M368.6,292v-7.1M401.6,292v-6.4M402.6,292v-6.8M404.6,292v-6.5M413.6,292v-7.3M425.6,292v-7.0M427.6,292v-7.4M432.6,292v-7.0M450.6,292v-6.7M452.6,292v-6.4M462.6,292v-7.2M463.6,292v-6.5M468.6,292v-6.6M476.6,292v-6.8M482.6,292v-6.6M487.6,292v-6.4M496.6,292v-6.3M504.6,292v-7.3M505.6,292v-7.3M506.6,292v-7.2M507.6,292v-6.7M508.6,292v-6.7M510.6,292v-6.4M521.6,292v-6.5M525.6,292v-6.8M528.6,292v-7.1M532.6,292v-6.9M534.6,292v-6.9M544.6,292v-6.5M561.6,292v-6.4M576.6,292v-6.5M577.6,292v-6.8M622.6,292v-6.5M629.6,292v-6.6M637.6,292v-6.3M639.6,292v-6.4M640.6,292v-6.4M644.6,292v-7.4M657.6,292v-7.3M677.6,292v-6.2M710.6,292v-6.9M719.6,292v-7.4M732.6,292v-6.3M772.6,292v-6.3M784.6,292v-6.2M788.6,292v-6.3M795.6,292v-6.5M796.6,292v-7.2M801.6,292v-6.6M838.6,292v-7.1M846.6,292v-7.2M851.6,292v-7.0M867.6,292v-7.4M869.6,292v-6.9M883.6,292v-7.0M895.6,292v-7.3M910.6,292v-6.3M912.6,292v-7.2M946.6,292v-7.3M953.6,292v-7.3M954.6,292v-6.2M980.6,292v-7.3M987.6,292v-6.6M1004.6,292v-6.2M1005.6,292v-6.3M1006.6,292v-6.7M1008.6,292v-6.6M1014.6,292v-7.0M1022.6,292v-7.2M1054.6,292v-7.5M1098.6,292v-7.1M1113.6,292v-7.1M1126.6,292v-6.9M1129.6,292v-6.8" stroke="url(#g1_10)" stroke-width="1.25" fill="none"/>
<path d="M543.6,292v-15.3M454.6,292v-14.7M464.6,292v-11.2M465.6,292v-13.3M468.6,292v-15.8M387.6,292v-12.4M388.6,292v-14.6M393.6,292v-16.3M396.6,292v-12.4M397.6,292v-14.0M490.6,292v-14.1M491.6,292v-15.1M494.6,292v-16.2M499.6,292v-10.4M502.6,292v-11.2M506.6,292v-12.3M433.6,292v-11.8M434.6,292v-13.2M435.6,292v-11.6M297.6,292v-10.9M302.6,292v-10.6M305.6,292v-12.0M311.6,292v-12.6M473.6,292v-10.3M547.6,292v-11.0M552.6,292v-12.0" stroke="url(#g1_16)" stroke-width="1.25" fill="none"/>
<path d="M511.6,292v-16.6M512.6,292v-16.4M516.6,292v-25.6M518.6,292v-17.9M519.6,292v-26.5M526.6,292v-20.4M533.6,292v-24.5M535.6,292v-21.0M538.6,292v-25.6M539.6,292v-21.5M544.6,292v-25.1M471.6,292v-21.8M395.6,292v-19.4M489.6,292v-17.1M492.6,292v-16.9M501.6,292v-16.5" stroke="url(#g1_26)" stroke-width="1.25" fill="none"/>
<path d="M513.6,292v-33.4M514.6,292v-34.8M515.6,292v-29.2M517.6,292v-26.6M520.6,292v-28.7M521.6,292v-36.0M522.6,292v-28.6M523.6,292v-29.8M524.6,292v-33.0M525.6,292v-36.2M527.6,292v-34.2M529.6,292v-33.0M530.6,292v-37.2M531.6,292v-27.4M532.6,292v-27.6M534.6,292v-37.9M536.6,292v-31.7M537.6,292v-33.4M540.6,292v-40.0M541.6,292v-38.5M542.6,292v-37.7M545.6,292v-30.7M546.6,292v-29.6M453.6,292v-35.3M456.6,292v-30.4M460.6,292v-33.8M470.6,292v-29.8" stroke="url(#g1_42)" stroke-width="1.25" fill="none"/>
<path d="M514.6,292v-63.2M515.6,292v-50.1M516.6,292v-67.6M519.6,292v-49.6M522.6,292v-49.7M530.6,292v-62.7M533.6,292v-45.1M534.6,292v-65.6M535.6,292v-55.7M536.6,292v-49.0M537.6,292v-62.7M540.6,292v-69.6M541.6,292v-51.7M544.6,292v-63.5" stroke="url(#g1_80)" stroke-width="1.25" fill="none"/>
<path d="M1080,287.5 l3,-1.5 l4,1 l3,-1.5 l4,1.5 M1120,287 l4,-1.5 l5,1 l5,-2 l6,1.5 l8,-1 l6,1" stroke="#6dcb6d" stroke-width="1" fill="none" opacity="0.8"/>
<rect x="165" y="288.6" width="989" height="3.4" fill="#fdc637"/>
<rect x="511" y="287.5" width="36" height="4.5" fill="#f7ed20"/>
<line x1="165.00" y1="292.50" x2="1155.00" y2="292.50" stroke="#262626" stroke-width="1"/>
<text x="142.75" y="298.80" font-family="Liberation Sans, sans-serif" font-size="22.39" fill="#262626" textLength="13.25" lengthAdjust="spacingAndGlyphs">0</text>
<text x="129.49" y="258.55" font-family="Liberation Sans, sans-serif" font-size="22.39" fill="#262626" textLength="26.51" lengthAdjust="spacingAndGlyphs">20</text>
<text x="129.49" y="218.30" font-family="Liberation Sans, sans-serif" font-size="22.39" fill="#262626" textLength="26.51" lengthAdjust="spacingAndGlyphs">40</text>
<text x="129.49" y="178.05" font-family="Liberation Sans, sans-serif" font-size="22.39" fill="#262626" textLength="26.51" lengthAdjust="spacingAndGlyphs">60</text>
<text x="129.49" y="137.80" font-family="Liberation Sans, sans-serif" font-size="22.39" fill="#262626" textLength="26.51" lengthAdjust="spacingAndGlyphs">80</text>
<text x="92.00" y="301.13" font-family="Liberation Sans, sans-serif" font-size="19.59" font-weight="bold" fill="#262626" textLength="99.88" lengthAdjust="spacingAndGlyphs" transform="rotate(-90 92.00 301.13)">Outboard</text>
<text x="92.00" y="194.73" font-family="Liberation Sans, sans-serif" font-size="19.59" font-weight="bold" fill="#262626" textLength="72.86" lengthAdjust="spacingAndGlyphs" transform="rotate(-90 92.00 194.73)">Sensor</text>
<text x="118.00" y="291.51" font-family="Liberation Sans, sans-serif" font-size="19.59" font-weight="bold" fill="#262626" textLength="109.75" lengthAdjust="spacingAndGlyphs" transform="rotate(-90 118.00 291.51)">Frequency</text>
<text x="118.00" y="175.23" font-family="Liberation Sans, sans-serif" font-size="19.59" font-weight="bold" fill="#262626" textLength="43.74" lengthAdjust="spacingAndGlyphs" transform="rotate(-90 118.00 175.23)">(Hz)</text>
<rect x="165" y="367" width="989" height="161" fill="url(#s2)"/>
<rect x="165" y="367" width="989" height="161" fill="url(#s2d)" filter="url(#m2d)"/>
<rect x="165" y="367" width="989" height="161" fill="url(#s2l)" filter="url(#m2l)"/>
<g clip-path="url(#c2)" fill="none">
<path d="M165,390.9 L228,390.9 l5,1.2 l3,3 M243,393.9 l4,-2.2 L268,390.9 l8,1.5 l14,0.5 l8,2.5" stroke="#3877fa" stroke-width="1.2" opacity="0.85"/>
<path d="M165,411.0 L228,411.0 l5,1.2 l3,3 M243,414.0 l4,-2.2 L268,411.0 l8,1.5 l14,0.5 l8,2.5" stroke="#3182f8" stroke-width="1.4" opacity="0.85"/>
<path d="M165,429.7 L228,429.7 l5,1.2 l3,3 M243,432.7 l4,-2.2 L268,429.7 l8,1.5 l14,0.5 l8,2.5" stroke="#2b8cf4" stroke-width="1.6" opacity="0.85"/>
<path d="M165,450.4 L228,450.4 l5,1.2 l3,3 M243,453.4 l4,-2.2 L268,450.4 l8,1.5 l14,0.5 l8,2.5" stroke="#2199eb" stroke-width="1.8" opacity="0.85"/>
<path d="M165,468.5 L228,468.5 l5,1.2 l3,3 M243,471.5 l4,-2.2 L268,468.5 l8,1.5 l14,0.5 l8,2.5" stroke="#12b4d0" stroke-width="2.4" opacity="0.85"/>
<path d="M165,488.7 L228,488.7 l5,1.2 l3,3 M243,491.7 l4,-2.2 L268,488.7 l8,1.5 l14,0.5 l8,2.5" stroke="#12bbbf" stroke-width="2.6" opacity="0.85"/>
<path d="M165,508.6 L228,508.6 l5,1.2 l3,3 M243,511.6 l4,-2.2 L268,508.6 l8,1.5 l14,0.5 l8,2.5" stroke="#21c2ab" stroke-width="2.8" opacity="0.85"/>
<line x1="165" y1="406.4" x2="478" y2="406.4" stroke="#3f6dfc" stroke-width="1.3" opacity="0.75"/>
<line x1="165" y1="447.6" x2="478" y2="447.6" stroke="#357df9" stroke-width="1.8" opacity="0.85"/>
<line x1="165" y1="467.4" x2="478" y2="467.4" stroke="#3877fa" stroke-width="1.2" opacity="0.6"/>
<line x1="165" y1="487.6" x2="478" y2="487.6" stroke="#14adda" stroke-width="2.2" opacity="0.9"/>
<line x1="165" y1="507.8" x2="478" y2="507.8" stroke="#12beb9" stroke-width="2.8" opacity="0.95"/>
<line x1="478" y1="399.9" x2="702" y2="399.9" stroke="#445df7" stroke-width="2" opacity="0.7"/>
<line x1="478" y1="406.0" x2="702" y2="406.0" stroke="#4168fa" stroke-width="1.5" opacity="0.8"/>
<line x1="478" y1="421.9" x2="702" y2="421.9" stroke="#3c72fb" stroke-width="2" opacity="0.9"/>
<line x1="478" y1="442.8" x2="702" y2="442.8" stroke="#4168fa" stroke-width="1.5" opacity="0.8"/>
<line x1="478" y1="447.2" x2="702" y2="447.2" stroke="#3877fa" stroke-width="2" opacity="0.9"/>
<line x1="478" y1="464.2" x2="702" y2="464.2" stroke="#2e87f7" stroke-width="2" opacity="0.95"/>
<line x1="478" y1="467.5" x2="702" y2="467.5" stroke="#4168fa" stroke-width="1" opacity="0.7"/>
<line x1="478" y1="476.8" x2="702" y2="476.8" stroke="#445df7" stroke-width="2" opacity="0.5"/>
<line x1="478" y1="485.6" x2="702" y2="485.6" stroke="#3182f8" stroke-width="1" opacity="0.8"/>
<line x1="478" y1="487.8" x2="702" y2="487.8" stroke="#14adda" stroke-width="2.5" opacity="0.95"/>
<line x1="478" y1="497.0" x2="702" y2="497.0" stroke="#3f6dfc" stroke-width="1.5" opacity="0.6"/>
<line x1="478" y1="507.5" x2="702" y2="507.5" stroke="#12b9c5" stroke-width="3" opacity="0.95"/>
<line x1="702" y1="402.5" x2="1154" y2="402.5" stroke="#4362f9" stroke-width="1.2" opacity="0.6"/>
<line x1="702" y1="420.6" x2="1154" y2="420.6" stroke="#3877fa" stroke-width="1.6" opacity="0.9"/>
<line x1="702" y1="427.0" x2="1154" y2="427.0" stroke="#3f6dfc" stroke-width="1.2" opacity="0.7"/>
<line x1="702" y1="438.8" x2="1154" y2="438.8" stroke="#3877fa" stroke-width="1.6" opacity="0.9"/>
<line x1="702" y1="447.3" x2="1154" y2="447.3" stroke="#357df9" stroke-width="1.8" opacity="0.9"/>
<line x1="702" y1="455.6" x2="1154" y2="455.6" stroke="#3877fa" stroke-width="1.6" opacity="0.9"/>
<line x1="702" y1="467.0" x2="1154" y2="467.0" stroke="#3877fa" stroke-width="1.5" opacity="0.8"/>
<line x1="702" y1="475.0" x2="1154" y2="475.0" stroke="#3c72fb" stroke-width="1.3" opacity="0.7"/>
<line x1="702" y1="488.0" x2="1154" y2="488.0" stroke="#1e9ee8" stroke-width="2.2" opacity="0.9"/>
<line x1="702" y1="492.0" x2="1154" y2="492.0" stroke="#3182f8" stroke-width="1.2" opacity="0.7"/>
<line x1="702" y1="497.0" x2="1154" y2="497.0" stroke="#3182f8" stroke-width="1.5" opacity="0.8"/>
<line x1="702" y1="502.0" x2="1154" y2="502.0" stroke="#357df9" stroke-width="1.2" opacity="0.6"/>
<line x1="702" y1="508.0" x2="1154" y2="508.0" stroke="#12b7c8" stroke-width="3.4" opacity="0.97"/>
<path d="M298,450 Q345,454 392,466" stroke="#1e9ee8" stroke-width="1.3" opacity="0.72"/>
<path d="M298,430 Q345,434 392,447" stroke="#2890f1" stroke-width="1.3" opacity="0.72"/>
<path d="M298,411 Q344,416 390,428" stroke="#3182f8" stroke-width="1.3" opacity="0.72"/>
<path d="M298,391 Q343,396 388,409" stroke="#3877fa" stroke-width="1.3" opacity="0.72"/>
<path d="M298,475 Q345,477 392,487" stroke="#19a6e1" stroke-width="1.3" opacity="0.72"/>
<path d="M300,469 Q346,470 392,480" stroke="#1ca2e4" stroke-width="1.3" opacity="0.72"/>
<path d="M298,490 Q343,492 388,503" stroke="#14adda" stroke-width="1.3" opacity="0.72"/>
<path d="M310,508 Q351,508 392,515" stroke="#12b6cb" stroke-width="1.3" opacity="0.72"/>
<path d="M419,396 q3,-4 10,-4 l14,-1 q10,-2 20,-3 l30,-2" stroke="#3f6dfc" stroke-width="1.4" opacity="0.8"/>
<path d="M419,415 q3,-4 10,-4 l14,-1 q10,-2 20,-3 l30,-2" stroke="#3877fa" stroke-width="1.4" opacity="0.8"/>
<path d="M419,435 q3,-4 10,-4 l14,-1 q10,-2 20,-3 l30,-2" stroke="#3877fa" stroke-width="1.4" opacity="0.8"/>
<path d="M419,455 q3,-4 10,-4 l14,-1 q10,-2 20,-3 l30,-2" stroke="#357df9" stroke-width="1.4" opacity="0.8"/>
<path d="M419,475 q3,-4 10,-4 l14,-1 q10,-2 20,-3 l30,-2" stroke="#2890f1" stroke-width="1.4" opacity="0.8"/>
<path d="M419,494 q3,-4 10,-4 l14,-1 q10,-2 20,-3 l30,-2" stroke="#1e9ee8" stroke-width="1.4" opacity="0.8"/>
<rect x="297.0" y="440" width="5" height="88" fill="#2e87f7" opacity="0.35"/>
<rect x="389.5" y="430" width="6" height="98" fill="#2e87f7" opacity="0.4"/>
<rect x="455.5" y="450" width="3" height="78" fill="#2890f1" opacity="0.4"/>
<rect x="234.5" y="470" width="3" height="58" fill="#3182f8" opacity="0.3"/>
<rect x="701.2" y="420" width="1.5" height="108" fill="#3c72fb" opacity="0.35"/>
</g>
<rect x="165" y="425" width="346" height="103" fill="url(#hz)"/>
<rect x="547" y="500" width="607" height="28" fill="url(#hz2)"/>
<rect x="512" y="458.5" width="1.15" height="69.5" fill="url(#b2)" opacity="0.64"/>
<rect x="513" y="367.0" width="1.15" height="161.0" fill="url(#b2)" opacity="0.77"/>
<rect x="514" y="439.6" width="1.15" height="88.4" fill="url(#b2)" opacity="0.54"/>
<rect x="515" y="452.7" width="1.15" height="75.3" fill="url(#b2)" opacity="0.48"/>
<rect x="516" y="470.2" width="1.15" height="57.8" fill="url(#b2)" opacity="0.56"/>
<rect x="517" y="436.9" width="1.15" height="91.1" fill="url(#b2)" opacity="0.62"/>
<rect x="518" y="423.4" width="1.15" height="104.6" fill="url(#b2)" opacity="0.64"/>
<rect x="519" y="403.8" width="1.15" height="124.2" fill="url(#b2)" opacity="0.76"/>
<rect x="520" y="398.3" width="1.15" height="129.7" fill="url(#b2)" opacity="0.94"/>
<rect x="521" y="445.9" width="1.15" height="82.1" fill="url(#b2)" opacity="0.46"/>
<rect x="522" y="452.8" width="1.15" height="75.2" fill="url(#b2)" opacity="0.50"/>
<rect x="523" y="469.4" width="1.15" height="58.6" fill="url(#b2)" opacity="0.42"/>
<rect x="524" y="458.7" width="1.15" height="69.3" fill="url(#b2)" opacity="0.35"/>
<rect x="525" y="414.3" width="1.15" height="113.7" fill="url(#b2)" opacity="0.86"/>
<rect x="526" y="463.8" width="1.15" height="64.2" fill="url(#b2)" opacity="0.44"/>
<rect x="527" y="467.0" width="1.15" height="61.0" fill="url(#b2)" opacity="0.42"/>
<rect x="528" y="427.8" width="1.15" height="100.2" fill="url(#b2)" opacity="0.49"/>
<rect x="529" y="442.0" width="1.15" height="86.0" fill="url(#b2)" opacity="0.50"/>
<rect x="530" y="476.8" width="1.15" height="51.2" fill="url(#b2)" opacity="0.41"/>
<rect x="531" y="397.5" width="1.15" height="130.5" fill="url(#b2)" opacity="0.78"/>
<rect x="532" y="424.5" width="1.15" height="103.5" fill="url(#b2)" opacity="0.83"/>
<rect x="533" y="407.9" width="1.15" height="120.1" fill="url(#b2)" opacity="0.96"/>
<rect x="534" y="444.9" width="1.15" height="83.1" fill="url(#b2)" opacity="0.83"/>
<rect x="535" y="472.1" width="1.15" height="55.9" fill="url(#b2)" opacity="0.59"/>
<rect x="536" y="452.5" width="1.15" height="75.5" fill="url(#b2)" opacity="0.35"/>
<rect x="537" y="433.3" width="1.15" height="94.7" fill="url(#b2)" opacity="0.53"/>
<rect x="538" y="436.6" width="1.15" height="91.4" fill="url(#b2)" opacity="0.71"/>
<rect x="539" y="476.9" width="1.15" height="51.1" fill="url(#b2)" opacity="0.65"/>
<rect x="540" y="395.6" width="1.15" height="132.4" fill="url(#b2)" opacity="0.76"/>
<rect x="541" y="415.2" width="1.15" height="112.8" fill="url(#b2)" opacity="0.76"/>
<rect x="542" y="409.1" width="1.15" height="118.9" fill="url(#b2)" opacity="0.99"/>
<rect x="543" y="405.1" width="1.15" height="122.9" fill="url(#b2)" opacity="0.78"/>
<rect x="544" y="464.7" width="1.15" height="63.3" fill="url(#b2)" opacity="0.57"/>
<rect x="545" y="476.3" width="1.15" height="51.7" fill="url(#b2)" opacity="0.55"/>
<path d="M509,528 L512,502 L517,488 L530,484 L541,490 L545,508 L548,528 Z" fill="#84cb5a" opacity="0.45" filter="url(#bl)" clip-path="url(#c2)"/>
<path d="M488.6,528v-5.2M495.6,528v-4.7M496.6,528v-4.0M503.6,528v-5.2M504.6,528v-4.4M547.6,528v-5.0M548.6,528v-5.8M448.6,528v-4.1M451.6,528v-5.6M465.6,528v-4.0M369.6,528v-5.3M380.6,528v-4.2M394.6,528v-4.6M276.6,528v-3.7M281.6,528v-4.3M282.6,528v-6.0M285.6,528v-5.7M288.6,528v-3.1M296.6,528v-4.6M298.6,528v-3.3M299.6,528v-5.2M300.6,528v-3.2M302.6,528v-3.1M228.6,528v-3.1M229.6,528v-6.1M234.6,528v-4.9M235.6,528v-5.2M236.6,528v-3.1M248.6,528v-5.1M312.6,528v-4.5M314.6,528v-4.2M316.6,528v-5.5M317.6,528v-5.3M318.6,528v-2.2M324.6,528v-2.1M329.6,528v-2.1M334.6,528v-3.8M339.6,528v-2.5M345.6,528v-4.9M347.6,528v-2.1M349.6,528v-3.4M351.6,528v-5.0M354.6,528v-6.1M355.6,528v-3.5M356.6,528v-4.3M361.6,528v-2.0M362.6,528v-2.2M363.6,528v-2.7M400.6,528v-5.6M403.6,528v-2.6M405.6,528v-3.5M406.6,528v-3.5M407.6,528v-3.8M411.6,528v-3.1M416.6,528v-2.7M424.6,528v-3.7M426.6,528v-2.3M428.6,528v-3.6M432.6,528v-3.3M445.6,528v-2.4M447.6,528v-2.8M471.6,528v-3.1M478.6,528v-3.6M165.6,528v-5.2M166.6,528v-5.6M168.6,528v-5.4M172.6,528v-5.5M181.6,528v-4.4M183.6,528v-5.5M187.6,528v-4.4M191.6,528v-5.0M193.6,528v-4.4M196.6,528v-6.0M199.6,528v-4.4M202.6,528v-4.4M205.6,528v-5.5M207.6,528v-5.9M209.6,528v-4.6M211.6,528v-4.9M213.6,528v-4.4M214.6,528v-5.1M215.6,528v-4.4M216.6,528v-4.4M219.6,528v-4.6M227.6,528v-5.9M238.6,528v-4.6M239.6,528v-5.2M243.6,528v-4.8M250.6,528v-6.0M256.6,528v-5.1M259.6,528v-4.4M267.6,528v-5.3M270.6,528v-4.4M272.6,528v-5.7M275.6,528v-5.8M276.6,528v-4.6M279.6,528v-5.4M282.6,528v-4.4M283.6,528v-5.3M285.6,528v-6.1M286.6,528v-4.8M298.6,528v-5.9M299.6,528v-5.3M300.6,528v-5.0M303.6,528v-4.9M305.6,528v-5.0M307.6,528v-5.0M311.6,528v-6.0M314.6,528v-4.9M321.6,528v-4.5M332.6,528v-4.8M337.6,528v-4.7M344.6,528v-4.5M346.6,528v-4.4M347.6,528v-4.9M348.6,528v-5.3M349.6,528v-4.8M350.6,528v-4.7M351.6,528v-5.1M352.6,528v-5.5M355.6,528v-4.9M358.6,528v-4.8M368.6,528v-5.2M371.6,528v-4.6M373.6,528v-4.4M386.6,528v-4.9M387.6,528v-4.4M389.6,528v-5.7M392.6,528v-4.9M395.6,528v-4.4M399.6,528v-5.8M400.6,528v-4.8M402.6,528v-4.7M404.6,528v-4.5M417.6,528v-5.2M419.6,528v-5.3M422.6,528v-6.0M424.6,528v-4.5M428.6,528v-4.5M431.6,528v-4.4M437.6,528v-5.5M438.6,528v-5.1M444.6,528v-4.7M451.6,528v-4.4M453.6,528v-4.8M454.6,528v-4.9M463.6,528v-5.1M466.6,528v-4.5M469.6,528v-4.7M471.6,528v-4.4M472.6,528v-5.8M474.6,528v-4.4M475.6,528v-4.4M485.6,528v-4.4M498.6,528v-4.4M502.6,528v-5.0M504.6,528v-4.9M509.6,528v-5.3M510.6,528v-5.0M511.6,528v-4.5M517.6,528v-4.9M522.6,528v-4.5M524.6,528v-4.8M530.6,528v-5.4M533.6,528v-5.7M534.6,528v-5.5M540.6,528v-4.8M542.6,528v-4.7M543.6,528v-4.5M545.6,528v-4.4M555.6,528v-4.8M558.6,528v-5.0M564.6,528v-4.6M566.6,528v-5.2M567.6,528v-5.6M569.6,528v-5.1M575.6,528v-4.4M577.6,528v-5.4M578.6,528v-4.7M579.6,528v-4.4M583.6,528v-5.5M585.6,528v-5.8M589.6,528v-5.2M590.6,528v-4.6M595.6,528v-5.5M600.6,528v-4.8M601.6,528v-5.4M603.6,528v-5.5M605.6,528v-5.9M606.6,528v-5.6M607.6,528v-4.7M611.6,528v-5.6M613.6,528v-5.0M614.6,528v-4.8M617.6,528v-6.0M618.6,528v-4.4M622.6,528v-4.8M624.6,528v-5.2M628.6,528v-4.8M631.6,528v-4.7M637.6,528v-4.9M639.6,528v-4.7M645.6,528v-5.7M647.6,528v-6.0M652.6,528v-4.7M653.6,528v-4.8M656.6,528v-4.5M657.6,528v-4.4M658.6,528v-5.0M660.6,528v-5.4M662.6,528v-5.5M664.6,528v-5.3M668.6,528v-4.8M670.6,528v-5.8M672.6,528v-4.4M673.6,528v-4.7M675.6,528v-6.0M677.6,528v-4.4M680.6,528v-4.6M684.6,528v-5.8M685.6,528v-4.4M694.6,528v-4.6M700.6,528v-4.5M702.6,528v-4.8M712.6,528v-5.4M713.6,528v-5.6M715.6,528v-4.4M718.6,528v-4.4M728.6,528v-4.7M735.6,528v-5.6M746.6,528v-5.4M749.6,528v-5.2M753.6,528v-4.4M755.6,528v-4.6M756.6,528v-5.3M759.6,528v-4.4M768.6,528v-4.5M774.6,528v-5.3M775.6,528v-6.1M776.6,528v-5.6M777.6,528v-4.4M778.6,528v-5.1M783.6,528v-4.9M785.6,528v-4.4M791.6,528v-6.1M794.6,528v-4.6M795.6,528v-4.7M798.6,528v-5.1M801.6,528v-5.2M806.6,528v-5.2M807.6,528v-4.9M813.6,528v-4.4M816.6,528v-4.5M817.6,528v-5.3M820.6,528v-5.0M821.6,528v-4.4M826.6,528v-5.8M831.6,528v-5.1M834.6,528v-5.8M835.6,528v-5.1M836.6,528v-4.9M848.6,528v-4.5M849.6,528v-4.4M851.6,528v-4.7M853.6,528v-5.3M861.6,528v-4.6M862.6,528v-5.5M875.6,528v-4.6M878.6,528v-4.6M883.6,528v-4.9M885.6,528v-4.8M889.6,528v-4.4M897.6,528v-5.2M900.6,528v-5.3M904.6,528v-4.6M908.6,528v-4.9M914.6,528v-5.8M919.6,528v-5.7M923.6,528v-4.4M925.6,528v-4.7M927.6,528v-6.0M929.6,528v-4.5M930.6,528v-4.5M931.6,528v-4.6M939.6,528v-4.7M942.6,528v-4.4M943.6,528v-5.4M944.6,528v-5.1M951.6,528v-4.9M953.6,528v-4.4M955.6,528v-4.6M959.6,528v-4.6M962.6,528v-5.8M964.6,528v-4.4M965.6,528v-5.9M966.6,528v-4.5M972.6,528v-4.4M976.6,528v-5.5M978.6,528v-5.6M979.6,528v-4.4M984.6,528v-5.8M986.6,528v-4.9M988.6,528v-4.7M991.6,528v-4.6M993.6,528v-4.6M1001.6,528v-5.9M1003.6,528v-4.7M1005.6,528v-4.4M1011.6,528v-4.5M1013.6,528v-4.4M1026.6,528v-5.1M1027.6,528v-4.4M1046.6,528v-4.4M1048.6,528v-4.5M1051.6,528v-4.4M1052.6,528v-4.4M1061.6,528v-4.8M1067.6,528v-5.7M1073.6,528v-5.7M1077.6,528v-5.0M1082.6,528v-4.4M1085.6,528v-4.4M1087.6,528v-4.4M1091.6,528v-4.7M1092.6,528v-5.0M1093.6,528v-4.4M1096.6,528v-5.4M1100.6,528v-5.3M1102.6,528v-4.8M1104.6,528v-5.0M1113.6,528v-5.5M1114.6,528v-5.2M1115.6,528v-4.6M1116.6,528v-4.6M1117.6,528v-4.4M1122.6,528v-4.5M1123.6,528v-4.5M1133.6,528v-4.9M1134.6,528v-5.6M1136.6,528v-5.7M1142.6,528v-5.3M1144.6,528v-4.5" stroke="url(#g2_6)" stroke-width="1.25" fill="none"/>
<path d="M483.6,528v-8.2M484.6,528v-10.1M485.6,528v-7.3M486.6,528v-7.3M500.6,528v-6.4M460.6,528v-6.6M462.6,528v-7.2M371.6,528v-7.8M373.6,528v-9.0M377.6,528v-7.2M387.6,528v-9.7M399.6,528v-9.2M283.6,528v-8.0M289.6,528v-7.7M291.6,528v-8.6M292.6,528v-8.5M305.6,528v-7.3M310.6,528v-7.4M238.6,528v-9.0M239.6,528v-8.2M241.6,528v-6.6M321.6,528v-6.9M322.6,528v-7.5M337.6,528v-9.6M348.6,528v-8.8M350.6,528v-6.7M352.6,528v-8.7M358.6,528v-7.9M408.6,528v-6.5M417.6,528v-9.9M418.6,528v-8.3M430.6,528v-8.0M431.6,528v-7.6M434.6,528v-6.3M437.6,528v-9.2M440.6,528v-9.6M466.6,528v-6.7M467.6,528v-7.2M169.6,528v-6.6M170.6,528v-7.8M173.6,528v-6.6M178.6,528v-7.8M190.6,528v-6.9M195.6,528v-7.9M217.6,528v-6.5M225.6,528v-7.9M237.6,528v-6.9M249.6,528v-6.4M265.6,528v-6.7M268.6,528v-6.2M291.6,528v-7.6M292.6,528v-7.5M302.6,528v-7.3M304.6,528v-7.1M309.6,528v-6.9M310.6,528v-7.5M316.6,528v-8.0M334.6,528v-6.3M339.6,528v-7.3M359.6,528v-7.0M388.6,528v-6.8M425.6,528v-6.2M446.6,528v-6.7M452.6,528v-6.4M465.6,528v-6.2M483.6,528v-6.4M492.6,528v-6.4M494.6,528v-6.8M495.6,528v-6.6M499.6,528v-6.2M525.6,528v-7.6M526.6,528v-6.9M546.6,528v-6.9M547.6,528v-6.8M557.6,528v-6.9M584.6,528v-6.4M596.6,528v-7.3M602.6,528v-6.6M604.6,528v-7.0M608.6,528v-7.2M615.6,528v-6.7M626.6,528v-7.5M634.6,528v-6.5M683.6,528v-6.8M691.6,528v-7.1M698.6,528v-7.7M707.6,528v-6.2M719.6,528v-6.5M725.6,528v-7.6M733.6,528v-6.7M754.6,528v-7.0M760.6,528v-7.3M771.6,528v-7.2M792.6,528v-7.7M804.6,528v-7.5M827.6,528v-7.9M830.6,528v-6.5M843.6,528v-6.5M844.6,528v-6.9M863.6,528v-7.8M871.6,528v-6.2M874.6,528v-6.6M887.6,528v-7.4M895.6,528v-6.3M896.6,528v-6.2M898.6,528v-7.5M906.6,528v-6.8M909.6,528v-6.3M915.6,528v-6.7M922.6,528v-7.1M934.6,528v-7.5M949.6,528v-7.0M958.6,528v-6.3M975.6,528v-6.6M992.6,528v-7.9M994.6,528v-6.7M997.6,528v-7.6M1007.6,528v-7.4M1015.6,528v-7.2M1021.6,528v-7.0M1024.6,528v-6.3M1029.6,528v-7.4M1040.6,528v-7.8M1041.6,528v-7.2M1047.6,528v-6.9M1050.6,528v-7.1M1059.6,528v-7.0M1068.6,528v-7.2M1072.6,528v-6.7M1076.6,528v-7.2M1081.6,528v-6.3M1119.6,528v-6.7M1129.6,528v-7.4M1130.6,528v-7.3M1150.6,528v-6.7" stroke="url(#g2_10)" stroke-width="1.25" fill="none"/>
<path d="M519.6,528v-16.0M487.6,528v-16.1M491.6,528v-13.6M494.6,528v-11.5M502.6,528v-10.8M545.6,528v-10.5M546.6,528v-11.7M454.6,528v-14.5M456.6,528v-13.2M458.6,528v-10.2M459.6,528v-12.4M461.6,528v-12.9M381.6,528v-13.0M382.6,528v-12.3M385.6,528v-11.0M386.6,528v-14.4M389.6,528v-11.2M390.6,528v-14.9M391.6,528v-10.4M286.6,528v-10.5M287.6,528v-10.9M294.6,528v-13.0M303.6,528v-11.2M306.6,528v-15.1M470.6,528v-11.5M481.6,528v-10.7" stroke="url(#g2_16)" stroke-width="1.25" fill="none"/>
<path d="M514.6,528v-20.4M516.6,528v-26.2M520.6,528v-20.0M521.6,528v-22.0M527.6,528v-20.9M528.6,528v-26.3M531.6,528v-25.9M532.6,528v-19.1M533.6,528v-23.8M535.6,528v-21.1M536.6,528v-19.7M538.6,528v-24.5M539.6,528v-23.8M540.6,528v-23.6M542.6,528v-26.2M543.6,528v-19.5M544.6,528v-21.4M490.6,528v-19.9M497.6,528v-19.2M501.6,528v-19.6M505.6,528v-16.8M506.6,528v-20.7M508.6,528v-20.0M509.6,528v-18.7M449.6,528v-23.3M452.6,528v-17.6M463.6,528v-20.2M464.6,528v-19.9M375.6,528v-17.3" stroke="url(#g2_26)" stroke-width="1.25" fill="none"/>
<path d="M513.6,528v-27.5M515.6,528v-31.7M517.6,528v-29.6M518.6,528v-30.8M522.6,528v-31.4M523.6,528v-33.5M524.6,528v-33.3M525.6,528v-28.5M526.6,528v-32.3M529.6,528v-27.9M530.6,528v-32.5M534.6,528v-28.6M537.6,528v-33.9M541.6,528v-29.1" stroke="url(#g2_42)" stroke-width="1.25" fill="none"/>
<path d="M853,524 l4,-3 l8,0 l4,3 M865,519.5 h8 M945,523.5 l2,-3.5 l4,0 l3,3.5 M1080,523 l3,-4 l9,-0.5 l4,4.5 M1083,518 h8 M1120,522.5 l3,-3 l4,2 l5,-2.5 l5,2 l4,-3 l5,3 l4,-2.5 l4,3" stroke="#97c949" stroke-width="1.1" fill="none" opacity="0.9"/>
<rect x="165" y="524.4" width="989" height="3.6" fill="#fad230"/>
<rect x="512" y="523" width="34" height="5" fill="#f8f619"/>
<line x1="165.00" y1="528.50" x2="1155.00" y2="528.50" stroke="#262626" stroke-width="1"/>
<text x="142.75" y="534.80" font-family="Liberation Sans, sans-serif" font-size="22.39" fill="#262626" textLength="13.25" lengthAdjust="spacingAndGlyphs">0</text>
<text x="129.49" y="494.55" font-family="Liberation Sans, sans-serif" font-size="22.39" fill="#262626" textLength="26.51" lengthAdjust="spacingAndGlyphs">20</text>
<text x="129.49" y="454.30" font-family="Liberation Sans, sans-serif" font-size="22.39" fill="#262626" textLength="26.51" lengthAdjust="spacingAndGlyphs">40</text>
<text x="129.49" y="414.05" font-family="Liberation Sans, sans-serif" font-size="22.39" fill="#262626" textLength="26.51" lengthAdjust="spacingAndGlyphs">60</text>
<text x="129.49" y="373.80" font-family="Liberation Sans, sans-serif" font-size="22.39" fill="#262626" textLength="26.51" lengthAdjust="spacingAndGlyphs">80</text>
<text x="92.00" y="528.17" font-family="Liberation Sans, sans-serif" font-size="19.59" font-weight="bold" fill="#262626" textLength="81.95" lengthAdjust="spacingAndGlyphs" transform="rotate(-90 92.00 528.17)">Inboard</text>
<text x="92.00" y="439.69" font-family="Liberation Sans, sans-serif" font-size="19.59" font-weight="bold" fill="#262626" textLength="72.86" lengthAdjust="spacingAndGlyphs" transform="rotate(-90 92.00 439.69)">Sensor</text>
<text x="118.00" y="527.51" font-family="Liberation Sans, sans-serif" font-size="19.59" font-weight="bold" fill="#262626" textLength="109.75" lengthAdjust="spacingAndGlyphs" transform="rotate(-90 118.00 527.51)">Frequency</text>
<text x="118.00" y="411.23" font-family="Liberation Sans, sans-serif" font-size="19.59" font-weight="bold" fill="#262626" textLength="43.74" lengthAdjust="spacingAndGlyphs" transform="rotate(-90 118.00 411.23)">(Hz)</text>
<rect x="1226" y="119" width="31" height="398" fill="url(#cb)"/>
<rect x="1225.5" y="118.5" width="32" height="399" fill="none" stroke="#262626" stroke-width="1"/>
<text x="1196.71" y="123.80" font-family="Liberation Sans, sans-serif" font-size="15.24" font-weight="bold" fill="#262626" textLength="20.29" lengthAdjust="spacingAndGlyphs">10</text>
<line x1="1226.00" y1="175.50" x2="1230.00" y2="175.50" stroke="#262626" stroke-width="1"/>
<text x="1206.85" y="180.80" font-family="Liberation Sans, sans-serif" font-size="15.24" font-weight="bold" fill="#262626" textLength="10.15" lengthAdjust="spacingAndGlyphs">5</text>
<line x1="1226.00" y1="232.50" x2="1230.00" y2="232.50" stroke="#262626" stroke-width="1"/>
<text x="1206.85" y="237.80" font-family="Liberation Sans, sans-serif" font-size="15.24" font-weight="bold" fill="#262626" textLength="10.15" lengthAdjust="spacingAndGlyphs">0</text>
<line x1="1226.00" y1="289.50" x2="1230.00" y2="289.50" stroke="#262626" stroke-width="1"/>
<text x="1200.80" y="294.80" font-family="Liberation Sans, sans-serif" font-size="15.24" font-weight="bold" fill="#262626" textLength="16.20" lengthAdjust="spacingAndGlyphs">-5</text>
<line x1="1226.00" y1="346.50" x2="1230.00" y2="346.50" stroke="#262626" stroke-width="1"/>
<text x="1190.66" y="351.80" font-family="Liberation Sans, sans-serif" font-size="15.24" font-weight="bold" fill="#262626" textLength="26.34" lengthAdjust="spacingAndGlyphs">-10</text>
<line x1="1226.00" y1="403.50" x2="1230.00" y2="403.50" stroke="#262626" stroke-width="1"/>
<text x="1190.66" y="408.80" font-family="Liberation Sans, sans-serif" font-size="15.24" font-weight="bold" fill="#262626" textLength="26.34" lengthAdjust="spacingAndGlyphs">-15</text>
<line x1="1226.00" y1="460.50" x2="1230.00" y2="460.50" stroke="#262626" stroke-width="1"/>
<text x="1190.66" y="465.80" font-family="Liberation Sans, sans-serif" font-size="15.24" font-weight="bold" fill="#262626" textLength="26.34" lengthAdjust="spacingAndGlyphs">-20</text>
<text x="1190.66" y="522.80" font-family="Liberation Sans, sans-serif" font-size="15.24" font-weight="bold" fill="#262626" textLength="26.34" lengthAdjust="spacingAndGlyphs">-25</text>
<text x="1174.20" y="378.90" font-family="Liberation Sans, sans-serif" font-size="15.24" font-weight="bold" fill="#262626" textLength="29.74" lengthAdjust="spacingAndGlyphs" transform="rotate(-90 1174.20 378.90)">Log</text>
<text x="1179.40" y="349.20" font-family="Liberation Sans, sans-serif" font-size="12.18" font-weight="bold" fill="#262626" textLength="16.23" lengthAdjust="spacingAndGlyphs" transform="rotate(-90 1179.40 349.20)">10</text>
<text x="1174.20" y="327.90" font-family="Liberation Sans, sans-serif" font-size="15.24" font-weight="bold" fill="#262626" textLength="26.99" lengthAdjust="spacingAndGlyphs" transform="rotate(-90 1174.20 327.90)">(nT</text>
<text x="1168.00" y="300.90" font-family="Liberation Sans, sans-serif" font-size="12.18" font-weight="bold" fill="#262626" textLength="8.11" lengthAdjust="spacingAndGlyphs" transform="rotate(-90 1168.00 300.90)">2</text>
<text x="1174.20" y="292.80" font-family="Liberation Sans, sans-serif" font-size="15.24" font-weight="bold" fill="#262626" textLength="32.68" lengthAdjust="spacingAndGlyphs" transform="rotate(-90 1174.20 292.80)">/Hz)</text>
<line x1="479.50" y1="602.00" x2="479.50" y2="762.00" stroke="#dfdfdf" stroke-width="1"/>
<line x1="1093.50" y1="602.00" x2="1093.50" y2="762.00" stroke="#dfdfdf" stroke-width="1"/>
<line x1="166.00" y1="603.50" x2="1154.00" y2="603.50" stroke="#dfdfdf" stroke-width="1"/>
<line x1="166.00" y1="675.50" x2="1154.00" y2="675.50" stroke="#dfdfdf" stroke-width="1"/>
<line x1="166.00" y1="748.50" x2="1154.00" y2="748.50" stroke="#dfdfdf" stroke-width="1"/>
<g clip-path="url(#c3)" fill="none" stroke-linejoin="round">
<path d="M165.0,655.7l3,-0.8l3,-0.8l3,-0.8l3,-0.7l3,-0.8l3,-0.8l3,-0.8l3,-0.7l3,-0.8l3,-0.7l3,-0.8l3,-0.7l3,-0.7l3,-0.7l3,-0.7l3,-0.8l3,-0.6l3,-0.7l3,-0.7l3,-0.7l3,-0.7l3,-0.6l3,-0.7l3,-0.7l3,-0.6l3,-0.6l3,-0.7l3,-0.6l3,-0.6l3,-0.6l3,-0.6l3,-0.6l3,-0.6l3,-0.6l3,-0.6l3,-0.6l3,-0.5l3,-0.6l3,-0.6l3,-0.5l3,-0.6l3,-0.5l3,-0.5l3,-0.6l3,-0.5l3,-0.5l3,-0.5l3,-0.5l3,-0.5l3,-0.5l3,-0.5l3,-0.5l3,-0.4l3,-0.5l3,-0.5l3,-0.4l3,-0.5l3,-0.4l3,-0.5l3,-0.4l3,-0.5l3,-0.4l3,-0.4l3,-0.4l3,-0.5l3,-0.4l3,-0.4l3,-0.4l3,-0.4l3,-0.4l3,-0.3l3,-0.4l3,-0.4l3,-0.4l3,-0.3l3,-0.4l3,-0.3l3,-0.4l3,-0.3l3,-0.4l3,-0.3l3,-0.3l3,-0.4l3,-0.3l3,-0.3l3,-0.3l3,-0.3l3,-0.3l3,-0.3l3,-0.3l3,-0.2l3,-0.3l3,-0.3l3,-0.3l3,-0.2l3,-0.3l3,-0.2l3,-0.3l3,-0.2l3,-0.2l3,-0.2l3,-0.3l3,-0.2l3,-0.2l3,-0.2l3,-0.1l3,-0.2l3,-0.2l3,-0.2l3,-0.1l3,-0.2l3,-0.1l3,-0.2l3,-0.1l3,-0.1l3,-0.2l3,-0.1l3,-0.1l3,-0.1l3,-0.1h3l3,-0.1l3,-0.1h3l3,-0.1h3h3h3l3,-0.1h3l3,0.1h3h3h3l3,0.1h3l3,0.1l3,0.1l3,0.1l3,0.1l3,0.1l3,0.1l3,0.1l3,0.2l3,0.1l3,0.2l3,0.1l3,0.2l3,0.2l3,0.2l3,0.2l3,0.3l3,0.2l3,0.3l3,0.2l3,0.3l3,0.3l3,0.3l3,0.3l3,0.3l3,0.3l3,0.4l3,0.4l3,0.3l3,0.4l3,0.4l3,0.4l3,0.4l3,0.5l3,0.4l3,0.5l3,0.5l3,0.4l3,0.5l3,0.6l3,0.5l3,0.5l3,0.6l3,0.5l3,0.6l3,0.6l3,0.6l3,0.6l3,0.6l3,0.7l3,0.6l3,0.7l3,0.7l3,0.7l3,0.7l3,0.7l3,0.7l3,0.8l3,0.7l3,0.8l3,0.8l3,0.8l3,0.8l3,0.8l3,0.8l3,0.9l3,0.8l3,0.9l3,0.9l3,0.9l3,0.9l3,0.9l3,0.9l3,0.9l3,1l3,1l3,0.9l3,1l3,1l3,1l3,1l3,1l3,1l3,1.1l3,1l3,1.1l3,1l3,1.1l3,1.1l3,1.1l3,1.1l3,1.1l3,1.1l3,1.1l3,1.2l3,1.1l3,1.1l3,1.2l3,1.1l3,1.2l3,1.2l3,1.1l3,1.2l3,1.2l3,1.2l3,1.2l3,1.2l3,1.2l3,1.2l3,1.2l3,1.2l3,1.2l3,1.2l3,1.2l3,1.2l3,1.3l3,1.2l3,1.2l3,1.2l3,1.2l3,1.3l3,1.2l3,1.2l3,1.2l3,1.2l3,1.2l3,1.3l3,1.2l3,1.2l3,1.2l3,1.2l3,1.2l3,1.2l3,1.2l3,1.1l3,1.2l3,1.2l3,1.2l3,1.1l3,1.2l3,1.1l3,1.2l3,1.1l3,1.2l3,1.1l3,1.1l3,1.1l3,1.1l3,1.1l3,1.1l3,1.1l3,1l3,1.1l3,1l3,1.1l3,1l3,1l3,1l3,1l3,1l3,1l3,1l3,0.9l3,1l3,0.9l3,1l3,0.9l3,0.9l3,0.9l3,0.8l3,0.9l3,0.9l3,0.8l3,0.9l3,0.8l3,0.8l3,0.8l3,0.8l3,0.8l3,0.8l3,0.8l3,0.7l3,0.8l3,0.7l3,0.8l3,0.7l3,0.7l3,0.7l3,0.7l3,0.7l3,0.7l3,0.7l3,0.7l5.5,1.2" stroke="#0000ff" stroke-width="1"/>
<path d="M165.0,655.1l3,-0.8l3,-0.8l3,-0.8l3,-0.7l3,-0.8l3,-0.8l3,-0.8l3,-0.7l3,-0.8l3,-0.7l3,-0.8l3,-0.7l3,-0.7l3,-0.7l3,-0.7l3,-0.8l3,-0.6l3,-0.7l3,-0.7l3,-0.7l3,-0.7l3,-0.6l3,-0.7l3,-0.7l3,-0.6l3,-0.6l3,-0.7l3,-0.6l3,-0.6l3,-0.6l3,-0.6l3,-0.6l3,-0.6l3,-0.6l3,-0.6l3,-0.6l3,-0.5l3,-0.6l3,-0.6l3,-0.5l3,-0.6l3,-0.5l3,-0.5l3,-0.6l3,-0.5l3,-0.5l3,-0.5l3,-0.5l3,-0.5l3,-0.5l3,-0.5l3,-0.5l3,-0.4l3,-0.5l3,-0.5l3,-0.4l3,-0.5l3,-0.4l3,-0.5l3,-0.4l3,-0.5l3,-0.4l3,-0.4l3,-0.4l3,-0.5l3,-0.4l3,-0.4l3,-0.4l3,-0.4l3,-0.4l3,-0.3l3,-0.4l3,-0.4l3,-0.4l3,-0.3l3,-0.4l3,-0.3l3,-0.4l3,-0.3l3,-0.4l3,-0.3l3,-0.3l3,-0.4l3,-0.3l3,-0.3l3,-0.3l3,-0.3l3,-0.3l3,-0.3l3,-0.3l3,-0.2l3,-0.3l3,-0.3l3,-0.3l3,-0.2l3,-0.3l3,-0.2l3,-0.3l3,-0.2l3,-0.2l3,-0.2l3,-0.3l3,-0.2l3,-0.2l3,-0.2l3,-0.1l3,-0.2l3,-0.2l3,-0.2l3,-0.1l3,-0.2l3,-0.1l3,-0.2l3,-0.1l3,-0.1l3,-0.2l3,-0.1l3,-0.1l3,-0.1l3,-0.1h3l3,-0.1l3,-0.1h3l3,-0.1h3h3h3l3,-0.1h3l3,0.1h3h3h3l3,0.1h3l3,0.1l3,0.1l3,0.1l3,0.1l3,0.1l3,0.1l3,0.1l3,0.2l3,0.1l3,0.2l3,0.1l3,0.2l3,0.2l3,0.2l3,0.2l3,0.3l3,0.2l3,0.3l3,0.2l3,0.3l3,0.3l3,0.3l3,0.3l3,0.3l3,0.3l3,0.4l3,0.4l3,0.3l3,0.4l3,0.4l3,0.4l3,0.4l3,0.5l3,0.4l3,0.5l3,0.5l3,0.4l3,0.5l3,0.6l3,0.5l3,0.5l3,0.6l3,0.5l3,0.6l3,0.6l3,0.6l3,0.6l3,0.6l3,0.7l3,0.6l3,0.7l3,0.7l3,0.7l3,0.7l3,0.7l3,0.7l3,0.8l3,0.7l3,0.8l3,0.8l3,0.8l3,0.8l3,0.8l3,0.8l3,0.9l3,0.8l3,0.9l3,0.9l3,0.9l3,0.9l3,0.9l3,0.9l3,0.9l3,1l3,1l3,0.9l3,1l3,1l3,1l3,1l3,1l3,1l3,1.1l3,1l3,1.1l3,1l3,1.1l3,1.1l3,1.1l3,1.1l3,1.1l3,1.1l3,1.1l3,1.2l3,1.1l3,1.1l3,1.2l3,1.1l3,1.2l3,1.2l3,1.1l3,1.2l3,1.2l3,1.2l3,1.2l3,1.2l3,1.2l3,1.2l3,1.2l3,1.2l3,1.2l3,1.2l3,1.2l3,1.2l3,1.3l3,1.2l3,1.2l3,1.2l3,1.2l3,1.3l3,1.2l3,1.2l3,1.2l3,1.2l3,1.2l3,1.3l3,1.2l3,1.2l3,1.2l3,1.2l3,1.2l3,1.2l3,1.2l3,1.1l3,1.2l3,1.2l3,1.2l3,1.1l3,1.2l3,1.1l3,1.2l3,1.1l3,1.2l3,1.1l3,1.1l3,1.1l3,1.1l3,1.1l3,1.1l3,1.1l3,1l3,1.1l3,1l3,1.1l3,1l3,1l3,1l3,1l3,1l3,1l3,1l3,0.9l3,1l3,0.9l3,1l3,0.9l3,0.9l3,0.9l3,0.8l3,0.9l3,0.9l3,0.8l3,0.9l3,0.8l3,0.8l3,0.8l3,0.8l3,0.8l3,0.8l3,0.8l3,0.7l3,0.8l3,0.7l3,0.8l3,0.7l3,0.7l3,0.7l3,0.7l3,0.7l3,0.7l3,0.7l3,0.7l5.5,1.2" stroke="#00ff00" stroke-width="1.4"/>
<path d="M165.0,655.4l3,-0.8l3,-0.8l3,-0.8l3,-0.8l3,-0.8l3,-0.7l3,-0.8l3,-0.8l3,-0.7l3,-0.8l3,-0.7l3,-0.7l3,-0.8l3,-0.7l3,-0.7l3,-0.7l3,-0.7l3,-0.7l3,-0.7l3,-0.7l3,-0.6l3,-0.7l3,-0.7l3,-0.6l3,-0.7l3,-0.6l3,-0.6l3,-0.6l3,-0.7l3,-0.6l3,-0.6l3,-0.6l3,-0.6l3,-0.6l3,-0.5l3,-0.6l3,-0.6l3,-0.6l3,-0.5l3,-0.6l3,-0.5l3,-0.5l3,-0.6l3,-0.5l3,-0.5l3,-0.5l3,-0.6l3,-0.5l3,-0.5l3,-0.4l3,-0.5l3,-0.5l3,-0.5l3,-0.5l3,-0.4l3,-0.5l3,-0.4l3,-0.5l3,-0.4l3,-0.5l3,-0.4l3,-0.4l3,-0.5l3,-0.4l3,-0.4l3,-0.4l3,-0.4l3,-0.4l3,-0.4l3,-0.4l3,-0.4l3,-0.4l3,-0.3l3,-0.4l3,-0.4l3,-0.3l3,-0.4l3,-0.3l3,-0.4l3,-0.3l3,-0.4l3,-0.3l3,-0.3l3,-0.3l3,-0.3l3,-0.3l3,-0.3l3,-0.3l3,-0.3l3,-0.3l3,-0.3l3,-0.3l3,-0.2l3,-0.3l3,-0.3l3,-0.2l3,-0.3l3,-0.2l3,-0.2l3,-0.3l3,-0.2l3,-0.2l3,-0.2l3,-0.2l3,-0.2l3,-0.2l3,-0.2l3,-0.2l3,-0.1l3,-0.2l3,-0.1l3,-0.2l3,-0.1l3,-0.2l3,-0.1l3,-0.1l3,-0.1l3,-0.1l3,-0.1l3,-0.1l3,-0.1l3,-0.1h3l3,-0.1h3h3l3,-0.1h3h3h3h3h3h3l3,0.1h3l3,0.1l3,0.1h3l3,0.1l3,0.1l3,0.1l3,0.1l3,0.2l3,0.1l3,0.2l3,0.1l3,0.2l3,0.2l3,0.2l3,0.2l3,0.2l3,0.2l3,0.3l3,0.2l3,0.3l3,0.2l3,0.3l3,0.3l3,0.3l3,0.4l3,0.3l3,0.3l3,0.4l3,0.4l3,0.4l3,0.4l3,0.4l3,0.4l3,0.4l3,0.5l3,0.4l3,0.5l3,0.5l3,0.5l3,0.5l3,0.5l3,0.6l3,0.5l3,0.6l3,0.6l3,0.5l3,0.7l3,0.6l3,0.6l3,0.6l3,0.7l3,0.7l3,0.6l3,0.7l3,0.7l3,0.8l3,0.7l3,0.7l3,0.8l3,0.8l3,0.7l3,0.8l3,0.8l3,0.9l3,0.8l3,0.8l3,0.9l3,0.9l3,0.8l3,0.9l3,0.9l3,0.9l3,1l3,0.9l3,0.9l3,1l3,1l3,0.9l3,1l3,1l3,1l3,1.1l3,1l3,1l3,1.1l3,1l3,1.1l3,1.1l3,1.1l3,1l3,1.1l3,1.2l3,1.1l3,1.1l3,1.1l3,1.2l3,1.1l3,1.1l3,1.2l3,1.2l3,1.1l3,1.2l3,1.2l3,1.2l3,1.1l3,1.2l3,1.2l3,1.2l3,1.2l3,1.2l3,1.2l3,1.3l3,1.2l3,1.2l3,1.2l3,1.2l3,1.2l3,1.3l3,1.2l3,1.2l3,1.2l3,1.2l3,1.3l3,1.2l3,1.2l3,1.2l3,1.2l3,1.2l3,1.2l3,1.2l3,1.2l3,1.2l3,1.2l3,1.2l3,1.2l3,1.2l3,1.2l3,1.1l3,1.2l3,1.1l3,1.2l3,1.1l3,1.2l3,1.1l3,1.1l3,1.2l3,1.1l3,1.1l3,1.1l3,1l3,1.1l3,1.1l3,1l3,1.1l3,1l3,1.1l3,1l3,1l3,1l3,1l3,1l3,0.9l3,1l3,0.9l3,1l3,0.9l3,0.9l3,0.9l3,0.9l3,0.9l3,0.9l3,0.8l3,0.9l3,0.8l3,0.9l3,0.8l3,0.8l3,0.8l3,0.8l3,0.7l3,0.8l3,0.8l3,0.7l3,0.8l3,0.7l3,0.7l3,0.8l3,0.7l3,0.7l3,0.7l3,0.7l3,0.6l3,0.7l5.5,1.3" stroke="#ff0000" stroke-width="1.3" opacity="0.72"/>
</g>
<rect x="165.5" y="601.5" width="989" height="161" fill="none" stroke="#262626" stroke-width="1"/>
<line x1="479.50" y1="601.50" x2="479.50" y2="611.50" stroke="#262626" stroke-width="1"/>
<line x1="479.50" y1="762.50" x2="479.50" y2="752.50" stroke="#262626" stroke-width="1"/>
<line x1="1093.50" y1="601.50" x2="1093.50" y2="611.50" stroke="#262626" stroke-width="1"/>
<line x1="1093.50" y1="762.50" x2="1093.50" y2="752.50" stroke="#262626" stroke-width="1"/>
<line x1="165.50" y1="603.50" x2="175.50" y2="603.50" stroke="#262626" stroke-width="1"/>
<line x1="1154.50" y1="603.50" x2="1144.50" y2="603.50" stroke="#262626" stroke-width="1"/>
<line x1="165.50" y1="675.50" x2="175.50" y2="675.50" stroke="#262626" stroke-width="1"/>
<line x1="1154.50" y1="675.50" x2="1144.50" y2="675.50" stroke="#262626" stroke-width="1"/>
<line x1="165.50" y1="748.50" x2="175.50" y2="748.50" stroke="#262626" stroke-width="1"/>
<line x1="1154.50" y1="748.50" x2="1144.50" y2="748.50" stroke="#262626" stroke-width="1"/>
<text x="122.87" y="610.00" font-family="Liberation Sans, sans-serif" font-size="22.39" fill="#262626" textLength="33.13" lengthAdjust="spacingAndGlyphs">3.5</text>
<text x="142.75" y="682.00" font-family="Liberation Sans, sans-serif" font-size="22.39" fill="#262626" textLength="13.25" lengthAdjust="spacingAndGlyphs">3</text>
<text x="122.87" y="755.00" font-family="Liberation Sans, sans-serif" font-size="22.39" fill="#262626" textLength="33.13" lengthAdjust="spacingAndGlyphs">2.5</text>
<path d="M169,585 L179,595 M179,585 L169,595" stroke="#333333" stroke-width="0.9" fill="none"/>
<text x="183.90" y="595.10" font-family="Liberation Sans, sans-serif" font-size="22.39" fill="#262626" textLength="26.51" lengthAdjust="spacingAndGlyphs">10</text>
<text x="210.80" y="587.00" font-family="Liberation Sans, sans-serif" font-size="17.92" fill="#262626" textLength="10.61" lengthAdjust="spacingAndGlyphs">4</text>
<text x="85.20" y="736.78" font-family="Liberation Sans, sans-serif" font-size="19.59" font-weight="bold" fill="#262626" textLength="51.22" lengthAdjust="spacingAndGlyphs" transform="rotate(-90 85.20 736.78)">Total</text>
<text x="85.20" y="679.02" font-family="Liberation Sans, sans-serif" font-size="19.59" font-weight="bold" fill="#262626" textLength="51.80" lengthAdjust="spacingAndGlyphs" transform="rotate(-90 85.20 679.02)">Field</text>
<text x="111.20" y="720.90" font-family="Liberation Sans, sans-serif" font-size="19.59" font-weight="bold" fill="#262626" textLength="27.99" lengthAdjust="spacingAndGlyphs" transform="rotate(-90 111.20 720.90)">|B|</text>
<text x="111.20" y="686.38" font-family="Liberation Sans, sans-serif" font-size="19.59" font-weight="bold" fill="#262626" textLength="43.28" lengthAdjust="spacingAndGlyphs" transform="rotate(-90 111.20 686.38)">(nT)</text>
<text x="1169.80" y="679.00" font-family="Liberation Sans, sans-serif" font-size="15.24" font-weight="bold" fill="#000000" textLength="63.72" lengthAdjust="spacingAndGlyphs" transform="rotate(-90 1169.80 679.00)">Inboard</text>
<text x="1182.00" y="700.20" font-family="Liberation Sans, sans-serif" font-size="15.24" font-weight="bold" fill="#000000" textLength="77.66" lengthAdjust="spacingAndGlyphs" transform="rotate(-90 1182.00 700.20)">Outboard</text>
<text x="1194.10" y="660.20" font-family="Liberation Sans, sans-serif" font-size="15.24" font-weight="bold" fill="#000000" textLength="49.61" lengthAdjust="spacingAndGlyphs" transform="rotate(-90 1194.10 660.20)">Chaos</text>
<line x1="1165" y1="718.2" x2="1165" y2="732.7" stroke="#0000ff" stroke-width="1.6"/>
<line x1="1180" y1="719" x2="1180" y2="734" stroke="#00ff00" stroke-width="1.6"/>
<line x1="1191.8" y1="719" x2="1191.8" y2="734" stroke="#ff0000" stroke-width="1.6"/>
<line x1="479.50" y1="836.00" x2="479.50" y2="999.00" stroke="#dfdfdf" stroke-width="1"/>
<line x1="1093.50" y1="836.00" x2="1093.50" y2="999.00" stroke="#dfdfdf" stroke-width="1"/>
<line x1="166.00" y1="854.50" x2="1154.00" y2="854.50" stroke="#dfdfdf" stroke-width="1"/>
<line x1="166.00" y1="902.50" x2="1154.00" y2="902.50" stroke="#dfdfdf" stroke-width="1"/>
<line x1="166.00" y1="950.50" x2="1154.00" y2="950.50" stroke="#dfdfdf" stroke-width="1"/>
<g clip-path="url(#c4)" fill="none" stroke-linejoin="round" shape-rendering="crispEdges">
<path d="M165.5,880.2l0.5,51.3l0.5,-49.3l0.5,41.6l0.5,-43.7l0.5,48.6l0.5,-47.4l0.5,40.9l0.5,-39.1l0.5,42.3l0.5,-37l0.5,44l0.5,-58.6l0.5,55.3l0.5,-49l0.5,50.2l0.5,-57.5l0.5,49l0.5,-40.8l0.5,39.3l0.5,-30.7l0.5,38.3l0.5,-43.6l0.5,39.2l0.5,-39.8l0.5,41.4l0.5,-39.3l0.5,38.4l0.5,-43.6l0.5,44.8l0.5,-40.4l0.5,32.6l0.5,-34.7l0.5,45.2l0.5,-50.8l0.5,48.3l0.5,-43.3l0.5,47.6l0.5,-50.8l0.5,43.7l0.5,-36.1l0.5,40.4l0.5,-49.3l0.5,53.3l0.5,-43.6l0.5,40.8l0.5,-41.2l0.5,32.3l0.5,-33.1l0.5,38.9l0.5,-45.1l0.5,44.7l0.5,-43.2l0.5,46.1l0.5,-46.5l0.5,44l0.5,-40.7l0.5,43.4l0.5,-55.3l0.5,45.7l0.5,-34.4l0.5,48l0.5,-51.9l0.5,45.9l0.5,-46.7l0.5,48.9l0.5,-43.3l0.5,40.9l0.5,-51.5l0.5,48.7l0.5,-39.3l0.5,31.7l0.5,-41.1l0.5,51.9l0.5,-48.8l0.5,45.9l0.5,-46.2l0.5,44.9l0.5,-43.5l0.5,47.2l0.5,-52.3l0.5,40.2l0.5,-31.7l0.5,33.8l0.5,-43.4l0.5,56.8l0.5,-53.5l0.5,50l0.5,-53l0.5,47.2l0.5,-37.6l0.5,35.9l0.5,-39.7l0.5,38.2l0.5,-38.5l0.5,38.6l0.5,-41.1l0.5,38.3l0.5,-35.7l0.5,40.8l0.5,-42.6l0.5,47.9l0.5,-52.8l0.5,46.8l0.5,-44.7l0.5,49.2l0.5,-42.1l0.5,36.3l0.5,-46l0.5,44.6l0.5,-42.8l0.5,48.5l0.5,-49.2l0.5,48.3l0.5,-38.7l0.5,36.3l0.5,-45.2l0.5,47.5l0.5,-48l0.5,49.9l0.5,-43.8l0.5,39.4l0.5,-46.1l0.5,45.5l0.5,-39.4l0.5,44.2l0.5,-46l0.5,36.6l0.5,-35.3l0.5,33.3l0.5,-36.9l0.5,43.7l0.5,-38.7l0.5,36.8l0.5,-45l0.5,48.9l0.5,-51.7l0.5,54.3l0.5,-49.2l0.5,43.6l0.5,-38.7l0.5,33.2l0.5,-33.1l0.5,43.6l0.5,-40.8l0.5,33.7l0.5,-44l0.5,46.6l0.5,-44.3l0.5,54.5l0.5,-48.8l0.5,34.8l0.5,-42.3l0.5,52.1l0.5,-45.8l0.5,43.1l0.5,-43.9l0.5,43.3l0.5,-45.8l0.5,37.4l0.5,-32.9l0.5,42.1l0.5,-38.6l0.5,31l0.5,-32.6l0.5,31.6l0.5,-40.7l0.5,51.8l0.5,-50.1l0.5,44.5l0.5,-48.4l0.5,44.4l0.5,-36.7l0.5,36l0.5,-31.8l0.5,41.7l0.5,-51.8l0.5,42.9l0.5,-43.3l0.5,41.7l0.5,-41.4l0.5,43.9l0.5,-38.5l0.5,41.4l0.5,-47l0.5,46.5l0.5,-36.2l0.5,39.9l0.5,-46.5l0.5,38.7l0.5,-41.2l0.5,43.1l0.5,-39.5l0.5,39.4l0.5,-50l0.5,51.8l0.5,-44.3l0.5,49.5l0.5,-44l0.5,44.7l0.5,-40l0.5,37.1l0.5,-41.9l0.5,52.4l0.5,-48.5l0.5,41.5l0.5,-46.7l0.5,37.9l0.5,-38.3l0.5,48.7l0.5,-42.5l0.5,41.4l0.5,-42l0.5,41.8l0.5,-48.4l0.5,41.7l0.5,-38.8l0.5,43l0.5,-34.9l0.5,35.3l0.5,-41.1l0.5,51.5l0.5,-54.9l0.5,47.1l0.5,-40.9l0.5,45.4l0.5,-42.8l0.5,36.6l0.5,-41.8l0.5,38.5l0.5,-40.6l0.5,43.7l0.5,-43.3l0.5,45.5l0.5,-40l0.5,50.1l0.5,-53.3l0.5,45.6l0.5,-40.3l0.5,40.1l0.5,-37.6l0.5,40.4l0.5,-41.9l0.5,45.1l0.5,-53.9l0.5,46.8l0.5,-40.4l0.5,42.1l0.5,-31.2l0.5,44l0.5,-47.6l0.5,37.2l0.5,-40.5l0.5,44.9l0.5,-39.8l0.5,44.3l0.5,-47.8l0.5,39.6l0.5,-40.3l0.5,45.1l0.5,-43.2l0.5,48.5l0.5,-47.9l0.5,50.6l0.5,-52.8l0.5,45.6l0.5,-45.1l0.5,40.8l0.5,-36.8l0.5,44.1l0.5,-44.8l0.5,44.8l0.5,-40.2l0.5,37.7l0.5,-47.3l0.5,47.5l0.5,-31.3l0.5,37.2l0.5,-38.1l0.5,32.9l0.5,-34.9l0.5,45.4l0.5,-49.4l0.5,50.3l0.5,-41.2l0.5,35.8l0.5,-38.3l0.5,42.9l0.5,-46.5l0.5,37.6l0.5,-35.9l0.5,36.7l0.5,-30.6l0.5,41.6l0.5,-45.1l0.5,43l0.5,-43l0.5,46.8l0.5,-49.6l0.5,39.7l0.5,-41l0.5,43.4l0.5,-37l0.5,38.2l0.5,-34.5l0.5,46.4l0.5,-53.7l0.5,45.7l0.5,-44.6l0.5,40.2l0.5,-40.9l0.5,45.8l0.5,-38.7l0.5,44l0.5,-49.2l0.5,51.6l0.5,-45.9l0.5,37.3l0.5,-45.5l0.5,49.9l0.5,-44.9l0.5,41.5l0.5,-39.2l0.5,47l0.5,-39.4l0.5,40.3l0.5,-44.1l0.5,38.5l0.5,-41.1l0.5,41.7l0.5,-32.6l0.5,35.3l0.5,-35.3l0.5,38.9l0.5,-47.5l0.5,42.6l0.5,-32.7l0.5,30.7l0.5,-32.4l0.5,33.8l0.5,-34.3l0.5,42.6l0.5,-36.7l0.5,38.7l0.5,-37.4l0.5,33.2l0.5,-42l0.5,46.6l0.5,-36.7l0.5,36.9l0.5,-46.8l0.5,48.8l0.5,-42.5l0.5,46.4l0.5,-45.4l0.5,34.4l0.5,-43l0.5,47.5l0.5,-44.3l0.5,50.7l0.5,-40.9l0.5,40.3l0.5,-47.3l0.5,54.1l0.5,-47.1l0.5,31.2l0.5,-35.8l0.5,46l0.5,-43.5l0.5,39.6l0.5,-41.4l0.5,48.6l0.5,-47.6l0.5,45.5l0.5,-48.9l0.5,48.9l0.5,-45.9l0.5,42.1l0.5,-42.9l0.5,45.9l0.5,-42.3l0.5,47.9l0.5,-44.6l0.5,45.7l0.5,-58.9l0.5,57.1l0.5,-49.2l0.5,45.1l0.5,-45.9l0.5,54.3l0.5,-50l0.5,40.3l0.5,-43.2l0.5,40.3l0.5,-34.5l0.5,45.4l0.5,-39.1l0.5,39.6l0.5,-51.6l0.5,51.5l0.5,-39.3l0.5,39.1l0.5,-50.7l0.5,42l0.5,-31.7l0.5,38l0.5,-45.9l0.5,49.1l0.5,-44.4l0.5,50.9l0.5,-53l0.5,48.3l0.5,-52.8l0.5,48.5l0.5,-37.1l0.5,37.7l0.5,-46l0.5,51.5l0.5,-51.4l0.5,49.8l0.5,-43l0.5,40l0.5,-46.3l0.5,47.9l0.5,-44.9l0.5,39.5l0.5,-40.6l0.5,39.9l0.5,-33.2l0.5,42.1l0.5,-45.5l0.5,42.9l0.5,-45.4l0.5,43.5l0.5,-41.9l0.5,38.8l0.5,-33.3l0.5,37.7l0.5,-47.6l0.5,41l0.5,-36.8l0.5,37.4l0.5,-39.8l0.5,45l0.5,-39.6l0.5,42l0.5,-50.1l0.5,50.2l0.5,-40.4l0.5,35.4l0.5,-43.4l0.5,40.5l0.5,-43.5l0.5,45.2l0.5,-41l0.5,44.7l0.5,-37.2l0.5,30.3l0.5,-37.8l0.5,43.9l0.5,-42.1l0.5,40.7l0.5,-43.4l0.5,37.1l0.5,-37.3l0.5,43.4l0.5,-46.4l0.5,48.6l0.5,-43.2l0.5,45.6l0.5,-58.8l0.5,52.5l0.5,-45l0.5,40.9l0.5,-38.4l0.5,43l0.5,-46.9l0.5,43.1l0.5,-38.5l0.5,37.2l0.5,-42.8l0.5,48.5l0.5,-46.3l0.5,49.9l0.5,-53.4l0.5,44.2l0.5,-43.3l0.5,48.6l0.5,-41.1l0.5,43.4l0.5,-44.3l0.5,43.6l0.5,-41.8l0.5,39.8l0.5,-46.1l0.5,45.1l0.5,-46.7l0.5,45.6l0.5,-47.4l0.5,45.1l0.5,-44.2l0.5,43.7l0.5,-34.5l0.5,33.6l0.5,-45.2l0.5,48.6l0.5,-46.9l0.5,43l0.5,-44.1l0.5,46.4l0.5,-42.9l0.5,40.7l0.5,-44l0.5,48.8l0.5,-48.3l0.5,47.3l0.5,-42.2l0.5,31.4l0.5,-38.8l0.5,44.2l0.5,-40.6l0.5,38.9l0.5,-44.2l0.5,39.9l0.5,-38.1l0.5,44.7l0.5,-48.2l0.5,42.7l0.5,-35.4l0.5,42.9l0.5,-46l0.5,38.5l0.5,-46.6l0.5,52.4l0.5,-47.1l0.5,46.8l0.5,-44.6l0.5,44.3l0.5,-50.4l0.5,49.7l0.5,-44.6l0.5,37.3l0.5,-35l0.5,40.2l0.5,-57.4l0.5,51.7l0.5,-48.7l0.5,46.5l0.5,-43.6l0.5,45.4l0.5,-41.5l0.5,44.3l0.5,-40.3l0.5,38.6l0.5,-37.9l0.5,39.6l0.5,-48.8l0.5,50.1l0.5,-42.2l0.5,40.6l0.5,-47.3l0.5,52.4l0.5,-54.8l0.5,38.2l0.5,-36l0.5,42.4l0.5,-45l0.5,44.5l0.5,-35.6l0.5,38.5l0.5,-48.8l0.5,50.8l0.5,-47.1l0.5,42.3l0.5,-41.8l0.5,44.4l0.5,-44.6l0.5,47.3l0.5,-51.7l0.5,46.4l0.5,-49.7l0.5,51.5l0.5,-47.8l0.5,47.1l0.5,-43.3l0.5,41.9l0.5,-49.2l0.5,48.1l0.5,-51.9l0.5,48.9l0.5,-43.5l0.5,51.2l0.5,-61.2l0.5,48.1l0.5,-40.7l0.5,48.2l0.5,-53.1l0.5,50.2l0.5,-44.3l0.5,43.5l0.5,-48.1l0.5,50.1l0.5,-51.1l0.5,52.5l0.5,-44.6l0.5,38.2l0.5,-39.3l0.5,42.5l0.5,-41.5l0.5,36.8l0.5,-44.1l0.5,47.8l0.5,-44.7l0.5,43l0.5,-48.6l0.5,46.6l0.5,-45l0.5,41.3l0.5,-44.8l0.5,38.9l0.5,-38l0.5,39.5l0.5,-37.5l0.5,41.4l0.5,-46.5l0.5,42.5l0.5,-49.3l0.5,47.1l0.5,-46.7l0.5,52.2l0.5,-50.9l0.5,46.2l0.5,-38.6l0.5,40.7l0.5,-48.1l0.5,44.8l0.5,-38.7l0.5,31.7l0.5,-30.9l0.5,30.4l0.5,-36.3l0.5,38.7l0.5,-43.4l0.5,41.1l0.5,-46l0.5,48.4l0.5,-41.4l0.5,36.2l0.5,-32.6l0.5,35.6l0.5,-35.5l0.5,38.2l0.5,-39.3l0.5,34.6l0.5,-41l0.5,43.5l0.5,-41.5l0.5,41.5l0.5,-44l0.5,38.7l0.5,-32.3l0.5,38.5l0.5,-41.2l0.5,40.3l0.5,-37.9l0.5,31.1l0.5,-33l0.5,29.8l0.5,-33.6l0.5,43.6l0.5,-45.3l0.5,41.6l0.5,-47.2l0.5,45.6l0.5,-40.8l0.5,42.1l0.5,-43.9l0.5,43.1l0.5,-41.3l0.5,40.8l0.5,-41.3l0.5,43l0.5,-45.1l0.5,45.5l0.5,-49.4l0.5,48.2l0.5,-50l0.5,44.1l0.5,-46.5l0.5,46.1l0.5,-43.2l0.5,48.2l0.5,-40.3l0.5,35.9l0.5,-44.8l0.5,40.1l0.5,-40.3l0.5,41.5l0.5,-43l0.5,41.2l0.5,-43l0.5,49.8l0.5,-46.9l0.5,44.2l0.5,-46.8l0.5,49.4l0.5,-50.7l0.5,49l0.5,-45.7l0.5,45.1l0.5,-48.4l0.5,43l0.5,-33.5l0.5,36.8l0.5,-42.4l0.5,43.6l0.5,-38.2l0.5,31.9l0.5,-38l0.5,43.9l0.5,-45.7l0.5,45.2l0.5,-42l0.5,36.4l0.5,-44.9l0.5,47.5l0.5,-45.3l0.5,39.2l0.5,-33.1l0.5,39.6l0.5,-46.7l0.5,36.1l0.5,-41.3l0.5,42.2l0.5,-39.8l0.5,37.3l0.5,-42l0.5,50.7l0.5,-44.4l0.5,38.5l0.5,-43.7l0.5,45.5l0.5,-47.3l0.5,43l0.5,-45.4l0.5,44.1l0.5,-40.9l0.5,49.6l0.5,-53.1l0.5,48.6l0.5,-41.5l0.5,42.9l0.5,-39.2l0.5,37.1l0.5,-44.7l0.5,44.3l0.5,-39.5l0.5,41.2l0.5,-47.2l0.5,49.7l0.5,-48.1l0.5,42.4l0.5,-43.9l0.5,42.4l0.5,-33.6l0.5,39.3l0.5,-50.5l0.5,46.2l0.5,-49l0.5,47.5l0.5,-45.4l0.5,47.4l0.5,-43.7l0.5,36.2l0.5,-30.6l0.5,39.7l0.5,-46.2l0.5,48.6l0.5,-51.9l0.5,47.7l0.5,-44.4l0.5,48.1l0.5,-44.9l0.5,36.6l0.5,-41.1l0.5,40.1l0.5,-34l0.5,45.3l0.5,-52.1l0.5,50.4l0.5,-52.3l0.5,44.4l0.5,-41.2l0.5,39.3l0.5,-34.6l0.5,37.4l0.5,-39l0.5,33.2l0.5,-31.8l0.5,35.8l0.5,-44l0.5,45.8l0.5,-40.2l0.5,43l0.5,-54l0.5,53.3l0.5,-44.9l0.5,46.7l0.5,-49.2l0.5,45l0.5,-36.4l0.5,32.3l0.5,-41.8l0.5,50.3l0.5,-45.4l0.5,39.4l0.5,-42.6l0.5,48.6l0.5,-46.6l0.5,41.9l0.5,-48.3l0.5,47.8l0.5,-40.1l0.5,32.7l0.5,-39.7l0.5,48.5l0.5,-41l0.5,35.3l0.5,-42l0.5,46.1l0.5,-40.6l0.5,35.2l0.5,-38l0.5,45.9l0.5,-47.1l0.5,47.6l0.5,-51.2l0.5,46.4l0.5,-46.1l0.5,47.8l0.5,-48.7l0.5,48.5l0.5,-43.7l0.5,43.6l0.5,-41.8l0.5,45.1l0.5,-46.4l0.5,44l0.5,-51.2l0.5,47.1l0.5,-38.7l0.5,35l0.5,-40.6l0.5,49.3l0.5,-44l0.5,37.9l0.5,-41.7l0.5,39.6l0.5,-49.5l0.5,56.1l0.5,-45.8l0.5,46.2l0.5,-51.9l0.5,41.3l0.5,-37.1l0.5,43.8l0.5,-42.2l0.5,38.9l0.5,-38.2l0.5,37.1l0.5,-40.6l0.5,44.1l0.5,-44.6l0.5,47.9l0.5,-46.6l0.5,36.3l0.5,-41.2l0.5,42.7l0.5,-42.6l0.5,49.5l0.5,-53.3l0.5,45.6l0.5,-34.5l0.5,38.1l0.5,-41.5l0.5,45.5l0.5,-49l0.5,45.6l0.5,-47.8l0.5,39.4l0.5,-35.1l0.5,42.6l0.5,-39.8l0.5,41.6l0.5,-48.8l0.5,46.6l0.5,-41.6l0.5,35.1l0.5,-40.6l0.5,51.3l0.5,-48.9l0.5,44.5l0.5,-55.5l0.5,57.8l0.5,-50.6l0.5,50.1l0.5,-44.9l0.5,42.8l0.5,-42.4l0.5,35.9l0.5,-35.8l0.5,36.9l0.5,-43.1l0.5,39.9l0.5,-39.2l0.5,45.3l0.5,-37.5l0.5,31.5l0.5,-37.6l0.5,48.1l0.5,-46.2l0.5,43.1l0.5,-43.7l0.5,46.3l0.5,-50.9l0.5,43.8l0.5,-33.4l0.5,35.7l0.5,-40.3l0.5,37.5l0.5,-41.4l0.5,47.7l0.5,-43.3l0.5,37.8l0.5,-44.7l0.5,40l0.5,-31.8l0.5,39.6l0.5,-46.1l0.5,49.7l0.5,-48.4l0.5,43.6l0.5,-39.9l0.5,46.2l0.5,-53.9l0.5,47.5l0.5,-44.5l0.5,42.2l0.5,-39.3l0.5,39.6l0.5,-44.9l0.5,53.9l0.5,-48.5l0.5,46.8l0.5,-44.7l0.5,37.4l0.5,-45.3l0.5,49.9l0.5,-46.4l0.5,37.6l0.5,-32.6l0.5,42.3l0.5,-39.9l0.5,41.4l0.5,-52.1l0.5,49.2l0.5,-37.9l0.5,32.7l0.5,-40.6l0.5,43.3l0.5,-38.9l0.5,38.3l0.5,-44.4l0.5,48.7l0.5,-51.6l0.5,53.2l0.5,-57.9l0.5,57.6l0.5,-44.6l0.5,37.8l0.5,-36.9l0.5,41.1l0.5,-38l0.5,28.5l0.5,-36l0.5,43.1l0.5,-38.3l0.5,34.6l0.5,-49.5l0.5,50.4l0.5,-37.3l0.5,34.7l0.5,-31.6l0.5,40.9l0.5,-44l0.5,37l0.5,-45.8l0.5,51.4l0.5,-49.5l0.5,49.2l0.5,-45.1l0.5,36.7l0.5,-40.6l0.5,41l0.5,-42.8l0.5,40.7l0.5,-34.7l0.5,40.3l0.5,-45.2l0.5,52l0.5,-45.6l0.5,42.8l0.5,-44.3l0.5,49.9l0.5,-53.6l0.5,44l0.5,-39.8l0.5,34.9l0.5,-36l0.5,37.1l0.5,-32.9l0.5,38.1l0.5,-37.7l0.5,31.3l0.5,-41.8l0.5,52.1l0.5,-51.6l0.5,50.8l0.5,-44l0.5,34.4l0.5,-31.2l0.5,45.5l0.5,-53.3l0.5,42.8l0.5,-39.4l0.5,41.6l0.5,-45.5l0.5,43.8l0.5,-34.4l0.5,33.4l0.5,-45.1l0.5,51.8l0.5,-40.2l0.5,30.2l0.5,-36.4l0.5,41.7l0.5,-38.4l0.5,39.2l0.5,-48.4l0.5,44.5l0.5,-38.6l0.5,43.1l0.5,-47.6l0.5,41l0.5,-41.8l0.5,44.8l0.5,-41.6l0.5,45.9l0.5,-38.8l0.5,42.9l0.5,-42.6l0.5,32.9l0.5,-33.7l0.5,41.6l0.5,-45.4l0.5,44.1l0.5,-43.8l0.5,41.1l0.5,-39.7l0.5,43.9l0.5,-42l0.5,43.3l0.5,-52.1l0.5,48.6l0.5,-47.5l0.5,49.1l0.5,-50.9l0.5,52l0.5,-50.5l0.5,43.4l0.5,-38.8l0.5,38.6l0.5,-45.1l0.5,45.8l0.5,-37.6l0.5,38.1l0.5,-41l0.5,44.1l0.5,-43.7l0.5,46.1l0.5,-42.7l0.5,39.8l0.5,-38.6l0.5,40.9l0.5,-42.4l0.5,38.8l0.5,-39.4l0.5,42.2l0.5,-50.7l0.5,41.6l0.5,-41.1l0.5,52.7l0.5,-52.4l0.5,45.9l0.5,-49.4l0.5,46.8l0.5,-39.3l0.5,39.1l0.5,-39.1l0.5,44.5l0.5,-45.5l0.5,43.6l0.5,-38.1l0.5,39.2l0.5,-39.4l0.5,34.4l0.5,-39.5l0.5,48.9l0.5,-47.8l0.5,45.3l0.5,-48.3l0.5,46.1l0.5,-44.3l0.5,43.2l0.5,-41.8l0.5,38l0.5,-32.6l0.5,34.9l0.5,-45.1l0.5,45.7l0.5,-45.3l0.5,45l0.5,-39l0.5,42.1l0.5,-47.3l0.5,38.8l0.5,-40.5l0.5,47.4l0.5,-42.5l0.5,41.2l0.5,-43.4l0.5,44l0.5,-37.2l0.5,36.2l0.5,-45.3l0.5,45.7l0.5,-38.9l0.5,38.4l0.5,-38.5l0.5,44.9l0.5,-46.3l0.5,36.7l0.5,-31.8l0.5,41.9l0.5,-51.5l0.5,44.1l0.5,-35.1l0.5,40.5l0.5,-40.7l0.5,34.1l0.5,-41.6l0.5,45.8l0.5,-42.4l0.5,40.2l0.5,-38.5l0.5,33.3l0.5,-33l0.5,37.3l0.5,-39l0.5,44.9l0.5,-43.8l0.5,44.8l0.5,-43.3l0.5,44.9l0.5,-46.6l0.5,41.5l0.5,-45.6l0.5,39.3l0.5,-39.8l0.5,49.7l0.5,-46.1l0.5,43.8l0.5,-40.7l0.5,31.8l0.5,-32.9l0.5,39.1l0.5,-43.7l0.5,49.6l0.5,-47.7l0.5,49.1l0.5,-50.3l0.5,47.8l0.5,-48.9l0.5,49.9l0.5,-47.3l0.5,46.3l0.5,-50l0.5,47.5l0.5,-43.6l0.5,41l0.5,-45.7l0.5,48.6l0.5,-38.5l0.5,36.9l0.5,-35.9l0.5,38l0.5,-43.2l0.5,44.6l0.5,-50.2l0.5,42.3l0.5,-34.9l0.5,39.1l0.5,-44.9l0.5,44.2l0.5,-38.3l0.5,42.6l0.5,-42.1l0.5,37.9l0.5,-46.3l0.5,51.3l0.5,-46.8l0.5,47.2l0.5,-48.5l0.5,44.1l0.5,-38.2l0.5,31.3l0.5,-37.9l0.5,49.4l0.5,-56.7l0.5,57.8l0.5,-50.1l0.5,41.9l0.5,-52l0.5,51.2l0.5,-43.3l0.5,51.3l0.5,-45.2l0.5,46.7l0.5,-52.6l0.5,52.1l0.5,-44.2l0.5,46.3l0.5,-52.1l0.5,43.5l0.5,-44.5l0.5,48l0.5,-49.6l0.5,46.5l0.5,-42.4l0.5,47.1l0.5,-45.1l0.5,42.3l0.5,-44.4l0.5,42.3l0.5,-43.5l0.5,49.3l0.5,-52.1l0.5,50l0.5,-45.9l0.5,38.6l0.5,-42.9l0.5,46.2l0.5,-42.5l0.5,43.4l0.5,-37.7l0.5,35.7l0.5,-37.2l0.5,39l0.5,-45.8l0.5,46.4l0.5,-46l0.5,46l0.5,-42.6l0.5,47.3l0.5,-41.6l0.5,40.7l0.5,-43.3l0.5,33.7l0.5,-40l0.5,50.1l0.5,-49.5l0.5,48.6l0.5,-45.3l0.5,39.3l0.5,-35.1l0.5,35.2l0.5,-37.9l0.5,50.8l0.5,-52.5l0.5,39.9l0.5,-42l0.5,47.9l0.5,-38.1l0.5,34.7l0.5,-38.8l0.5,48.8l0.5,-50.2l0.5,38.8l0.5,-42.2l0.5,49.4l0.5,-48.4l0.5,41.3l0.5,-33.8l0.5,35.5l0.5,-38.8l0.5,48.9l0.5,-60.7l0.5,57.8l0.5,-47l0.5,45.8l0.5,-47.9l0.5,51.3l0.5,-51.8l0.5,39.4l0.5,-34.7l0.5,38.4l0.5,-42.9l0.5,47l0.5,-53.4l0.5,55.2l0.5,-49.1l0.5,45.2l0.5,-35.9l0.5,35.2l0.5,-44.6l0.5,45l0.5,-40.6l0.5,43l0.5,-49.1l0.5,45.8l0.5,-36.9l0.5,41.8l0.5,-50.7l0.5,41.8l0.5,-38.2l0.5,43.7l0.5,-45.7l0.5,43.1l0.5,-45.9l0.5,48.4l0.5,-37l0.5,37.5l0.5,-38.9l0.5,43.8l0.5,-49.6l0.5,48l0.5,-43.7l0.5,39.1l0.5,-34.5l0.5,35.3l0.5,-41.7l0.5,45.4l0.5,-50.2l0.5,48.7l0.5,-48.3l0.5,43.8l0.5,-31.5l0.5,32.7l0.5,-39.3l0.5,49.1l0.5,-58.1l0.5,49.9l0.5,-42l0.5,36.7l0.5,-38.2l0.5,46l0.5,-40.8l0.5,37l0.5,-48.8l0.5,45.2l0.5,-39.5l0.5,45.6l0.5,-38.1l0.5,43l0.5,-44.7l0.5,38.5l0.5,-47.3l0.5,55.6l0.5,-43.6l0.5,39l0.5,-43.2l0.5,41.9l0.5,-45.8l0.5,47.7l0.5,-35.8l0.5,36.4l0.5,-48.6l0.5,42.2l0.5,-41.4l0.5,40.2l0.5,-30.9l0.5,30.1l0.5,-27.9l0.5,30.4l0.5,-38.1l0.5,41.2l0.5,-33.6l0.5,32l0.5,-40.9l0.5,52l0.5,-56l0.5,52.3l0.5,-44.7l0.5,42.5l0.5,-54.3l0.5,52.4l0.5,-42.2l0.5,41.5l0.5,-34.2l0.5,32.3l0.5,-40.3l0.5,49l0.5,-50.4l0.5,38.9l0.5,-35.5l0.5,42.2l0.5,-39.2l0.5,44.2l0.5,-40.1l0.5,40.4l0.5,-42.1l0.5,32.3l0.5,-32.2l0.5,37.4l0.5,-42.7l0.5,53.2l0.5,-54.1l0.5,45.8l0.5,-43.6l0.5,41.9l0.5,-45.9l0.5,46.3l0.5,-35.1l0.5,40l0.5,-49l0.5,40.1l0.5,-38.4l0.5,36.9l0.5,-30.5l0.5,35.9l0.5,-43.5l0.5,40l0.5,-41.1l0.5,48.3l0.5,-37.2l0.5,44.8l0.5,-56.4l0.5,52.9l0.5,-52.8l0.5,43.6l0.5,-31.8l0.5,34.7l0.5,-40.2l0.5,43.4l0.5,-41.1l0.5,44.9l0.5,-52.9l0.5,47.2l0.5,-37.4l0.5,40.1l0.5,-41l0.5,41.9l0.5,-48.3l0.5,50l0.5,-48.8l0.5,47.5l0.5,-38.8l0.5,41.2l0.5,-52.2l0.5,43.3l0.5,-40.5l0.5,44.2l0.5,-46.2l0.5,49.4l0.5,-49.3l0.5,48.3l0.5,-49.7l0.5,51.8l0.5,-44l0.5,42.8l0.5,-50.4l0.5,45.7l0.5,-35.1l0.5,5.8l0.5,31.2l0.5,-44.4l0.5,36.5l0.5,-36.2l0.5,45.8l0.5,-23.1l0.5,25.8l0.5,-10.8l0.5,7.5l0.5,-25.5l0.5,21.3l0.5,-32.4l0.5,36.9l0.5,-25.3l0.5,29.1l0.5,-7.9l0.5,7.8l0.5,-8.2l0.5,8.7l0.5,-10.7l0.5,10.5l0.5,-10.5l0.5,7.9l0.5,-5.6l0.5,8.3l0.5,-47.7l0.5,34.6l0.5,-34.9l0.5,33.6l0.5,-2.1l0.5,16.2l0.5,-36.2l0.5,31l0.5,-44.1l0.5,32.6l0.5,-32.7l0.5,40.3l0.5,-18.5l0.5,27.1l0.5,-8.6l0.5,9l0.5,-10.3l0.5,10.8l0.5,-8l0.5,1.7l0.5,-36l0.5,32.3l0.5,-26.2l0.5,21.1l0.5,-25.2l0.5,34.4l0.5,-39.2l0.5,37.1l0.5,-31.4l0.5,33.7l0.5,-39.8l0.5,37.4l0.5,-28.8l0.5,36.9l0.5,-49.9l0.5,49.5l0.5,-35.5l0.5,35.3l0.5,-10.3l0.5,10.2l0.5,-10.1l0.5,10.7l0.5,-10.2l0.5,9.2l0.5,-7.1l0.5,7l0.5,-48.7l0.5,38l0.5,-33.6l0.5,32l0.5,-25.5l0.5,38.4l0.5,-10.4l0.5,10.8l0.5,-13.5l0.5,13.4l0.5,-34.9l0.5,31.5l0.5,-12l0.5,13.1l0.5,-42.3l0.5,44.6l0.5,-40.9l0.5,41l0.5,-42.1l0.5,41.9l0.5,-48.6l0.5,40.2l0.5,-35.1l0.5,43.2l0.5,-44.5l0.5,45l0.5,-43.3l0.5,27.5l0.5,-34l0.5,49.5l0.5,-48.3l0.5,47.6l0.5,-8.2l0.5,8.7l0.5,-17l0.5,9.8l0.5,-42l0.5,47.4l0.5,-46.9l0.5,47.4l0.5,-8.5l0.5,4.9l0.5,-30.5l0.5,26l0.5,-39.9l0.5,45.1l0.5,-45.1l0.5,44.2l0.5,-23.8l0.5,20.9l0.5,-40.3l0.5,42.4l0.5,-41.7l0.5,36l0.5,1.9l0.5,8.7l0.5,-7.6l0.5,7.3l0.5,-47.9l0.5,46.2l0.5,-31.8l0.5,34.3l0.5,-34.4l0.5,21.6l0.5,-33.7l0.5,45.9l0.5,-39.8l0.5,38.7l0.5,-47.1l0.5,46.6l0.5,-19.3l0.5,13.1l0.5,-29.8l0.5,39.4l0.5,-49.8l0.5,47.4l0.5,-38.6l0.5,24.4l0.5,-33.3l0.5,49.9l0.5,-48.8l0.5,34.5l0.5,-20.8l0.5,28.9l0.5,-33.6l0.5,34.2l0.5,-44.4l0.5,44.7l0.5,-19.4l0.5,23.7l0.5,-12l0.5,12.2l0.5,-33.1l0.5,30.6l0.5,-43l0.5,45.3l0.5,-47.8l0.5,36.4l0.5,-32.8l0.5,45.1l0.5,-36.7l0.5,26.1l0.5,-23l0.5,30.2l0.5,-32.1l0.5,35.3l0.5,-30.8l0.5,24.5l0.5,-21.1l0.5,22.7l0.5,-30.9l0.5,34.7l0.5,-31.1l0.5,32l0.5,-10.3l0.5,5.2l0.5,-44.3l0.5,46.9l0.5,-37.2l0.5,25.5l0.5,-29.4l0.5,40.4l0.5,-31.7l0.5,31.4l0.5,-46.2l0.5,36.4l0.5,-24.5l0.5,37.1l0.5,-9.4l0.5,5.1l0.5,-44.1l0.5,49.3l0.5,-49.6l0.5,34.1l0.5,-32.6l0.5,47.9l0.5,-49.6l0.5,45.4l0.5,-36.4l0.5,35.8l0.5,-32.1l0.5,35.7l0.5,-30.7l0.5,29.6l0.5,-8.2l0.5,7.5l0.5,-6.1l0.5,7.6l0.5,-9.2l0.5,11l0.5,-9.8l0.5,6.4l0.5,-4.7l0.5,6.2l0.5,-47.7l0.5,41.8l0.5,-28.7l0.5,30.9l0.5,-15.1l0.5,17.4l0.5,-6.4l0.5,4.2l0.5,-44.1l0.5,48.8l0.5,-47.2l0.5,32.9l0.5,-33.9l0.5,46.7l0.5,-47.2l0.5,45.9l0.5,-14.4l0.5,16.2l0.5,-30.6l0.5,15.2l0.5,-20.1l0.5,29.5l0.5,-34.6l0.5,33.7l0.5,-41l0.5,43.2l0.5,-41.3l0.5,31.4l0.5,-23.9l0.5,25.1l0.5,-34.6l0.5,45l0.5,-44.5l0.5,32.4l0.5,-31.5l0.5,41.4l0.5,-42.9l0.5,36.7l0.5,-20.9l0.5,33.1l0.5,-23.6l0.5,24.7l0.5,-40.2l0.5,42.8l0.5,-48.6l0.5,32.9l0.5,-30l0.5,39.2l0.5,-35.5l0.5,27.6l0.5,-20.2l0.5,18.8l0.5,-25.3l0.5,35.7l0.5,-39l0.5,43.9l0.5,-36.4l0.5,34l0.5,-45.8l0.5,47.1l0.5,-45.7l0.5,40.5l0.5,-37l0.5,32l0.5,-36.9l0.5,48.9l0.5,-48.4l0.5,41.4l0.5,-33.6l0.5,40.2l0.5,-8.2l0.5,8.4l0.5,-46l0.5,43.8l0.5,-46.4l0.5,34.9l0.5,-20.2l0.5,33.9l0.5,-7.2l0.5,7l0.5,-9.5l0.5,5.5l0.5,-36.7l0.5,38.2l0.5,-36.6l0.5,39.2l0.5,-47.5l0.5,47.6l0.5,-44.4l0.5,44.4l0.5,-41.5l0.5,39.6l0.5,-45.5l0.5,46.2l0.5,-30.7l0.5,30.8l0.5,-36.5l0.5,32.5l0.5,-43l0.5,48.2l0.5,-48.7l0.5,41l0.5,-31.3l0.5,32.2l0.5,-32.4l0.5,26.5l0.5,-24l0.5,31.6l0.5,-41.2l0.5,44.2l0.5,-46.1l0.5,48.2l0.5,-44.1l0.5,43.8l0.5,-47.2l0.5,43l0.5,-42.8l0.5,31.5l0.5,-27.9l0.5,40.6l0.5,-35.9l0.5,35.9l0.5,-44.6l0.5,47.9l0.5,-49l0.5,44l0.5,-40.7l0.5,38.2l0.5,-30.1l0.5,34l0.5,-42.6l0.5,40.3l0.5,-43.1l0.5,45.1l0.5,-44.2l0.5,46.8l0.5,-34.9l0.5,22.5l0.5,-21.9l0.5,33.7l0.5,-44.2l0.5,45l0.5,-34.6l0.5,28.9l0.5,-41.9l0.5,43.7l0.5,-43.9l0.5,47.5l0.5,-42.5l0.5,36.1l0.5,-40.6l0.5,40.5l0.5,-40l0.5,45.7l0.5,-46.8l0.5,38.4l0.5,-25.3l0.5,24.9l0.5,-37.7l0.5,38.5l0.5,-25.2l0.5,23.7l0.5,-36.9l0.5,32.3l0.5,-27.2l0.5,39.9l0.5,-43.4l0.5,32l0.5,-25.2l0.5,37.3l0.5,-46.1l0.5,42.3l0.5,-39.3l0.5,45.2l0.5,-37.8l0.5,26.6l0.5,-37l0.5,36.8l0.5,-35.8l0.5,45.1l0.5,-33.9l0.5,28.3l0.5,-39.9l0.5,33.2l0.5,-25.6l0.5,40.5l0.5,-37.7l0.5,33.7l0.5,-44.6l0.5,47.6l0.5,-37.9l0.5,30.4l0.5,-28.6l0.5,36.8l0.5,-46.4l0.5,37.8l0.5,-39.2l0.5,47.9l0.5,-46.1l0.5,46l0.5,-36.5l0.5,21.8l0.5,-33.2l0.5,43.8l0.5,-35.4l0.5,40l0.5,-44.5l0.5,43.7l0.5,-44.8l0.5,44.9l0.5,-48.2l0.5,47.8l0.5,-42.1l0.5,30.9l0.5,-31.2l0.5,37.7l0.5,-37.4l0.5,38.4l0.5,-44.1l0.5,35.5l0.5,-28.9l0.5,42.1l0.5,-42.8l0.5,38.7l0.5,-32l0.5,31.9l0.5,-44.2l0.5,32.3l0.5,-28.9l0.5,29.2l0.5,-31.4l0.5,38.3l0.5,-29.8l0.5,27.9l0.5,-36l0.5,46l0.5,-45.5l0.5,36.8l0.5,-38.7l0.5,47.2l0.5,-46l0.5,33.3l0.5,-31.8l0.5,35.3l0.5,-36.2l0.5,42.2l0.5,-32.6l0.5,33.8l0.5,-45.6l0.5,47.7l0.5,-46.8l0.5,32.9l0.5,-33.1l0.5,47.6l0.5,-37.4l0.5,23.1l0.5,-30.6l0.5,42.6l0.5,-45.9l0.5,35.1l0.5,-31l0.5,35.3l0.5,-35.4l0.5,41.7l0.5,-40.6l0.5,38.4l0.5,-43.3l0.5,38.2l0.5,-34.4" stroke="#0000ff" stroke-width="1.35"/>
<path d="M165.5,899.7l0.5,27.6l0.5,-30.7l0.5,23.7l0.5,-25.3l0.5,29.7l0.5,-35.6l0.5,31.2l0.5,-24.1l0.5,24l0.5,-23l0.5,18.9l0.5,-24.7l0.5,27.9l0.5,-27.8l0.5,26.7l0.5,-26l0.5,28.7l0.5,-28.6l0.5,25l0.5,-19.6l0.5,23.8l0.5,-28.7l0.5,24.9l0.5,-23.6l0.5,24.3l0.5,-24.8l0.5,25l0.5,-22.9l0.5,26.4l0.5,-30.7l0.5,28.3l0.5,-20.2l0.5,24.3l0.5,-26.8l0.5,21.1l0.5,-22.1l0.5,23.4l0.5,-28.6l0.5,28.5l0.5,-23.4l0.5,19.9l0.5,-23.3l0.5,30.4l0.5,-24l0.5,17.8l0.5,-22.5l0.5,26.1l0.5,-30.6l0.5,31.4l0.5,-26.9l0.5,21.7l0.5,-24.2l0.5,28.1l0.5,-25.2l0.5,27.8l0.5,-28.6l0.5,27l0.5,-27.1l0.5,22.3l0.5,-26.4l0.5,28.7l0.5,-23.4l0.5,25.4l0.5,-31.4l0.5,28.9l0.5,-25.9l0.5,23.6l0.5,-27.7l0.5,30.9l0.5,-25l0.5,24l0.5,-23.3l0.5,23.7l0.5,-30.1l0.5,29.4l0.5,-24.3l0.5,20.7l0.5,-26.4l0.5,30.4l0.5,-29.6l0.5,26.5l0.5,-27.5l0.5,31l0.5,-29.9l0.5,23.3l0.5,-21.2l0.5,24.6l0.5,-24l0.5,26l0.5,-29.9l0.5,31.6l0.5,-28l0.5,24.9l0.5,-25.1l0.5,23.8l0.5,-21.4l0.5,17.9l0.5,-28.2l0.5,35.1l0.5,-30.4l0.5,27l0.5,-25.6l0.5,21.8l0.5,-22.3l0.5,25.9l0.5,-29.3l0.5,30.3l0.5,-25.4l0.5,22.2l0.5,-27l0.5,27.7l0.5,-26.6l0.5,26.5l0.5,-29.8l0.5,27.2l0.5,-17.4l0.5,20.3l0.5,-27.4l0.5,27.8l0.5,-23l0.5,26.8l0.5,-31.8l0.5,31.5l0.5,-28.8l0.5,21.5l0.5,-21l0.5,24.5l0.5,-28.5l0.5,27.7l0.5,-23.4l0.5,27l0.5,-27.3l0.5,27.3l0.5,-27.4l0.5,26.9l0.5,-26.1l0.5,22.6l0.5,-20.3l0.5,20.3l0.5,-23.2l0.5,20.5l0.5,-21.2l0.5,28.2l0.5,-25.5l0.5,20l0.5,-21.5l0.5,25.2l0.5,-24.4l0.5,25.9l0.5,-30.4l0.5,29.9l0.5,-28.9l0.5,25l0.5,-27l0.5,32.6l0.5,-30.7l0.5,25.6l0.5,-20.9l0.5,17.3l0.5,-19.6l0.5,27.2l0.5,-31.4l0.5,31.6l0.5,-30.3l0.5,24.5l0.5,-19.1l0.5,26.4l0.5,-26l0.5,23.9l0.5,-28.6l0.5,25.3l0.5,-27l0.5,31.1l0.5,-27.3l0.5,23.3l0.5,-25.5l0.5,29.7l0.5,-25.8l0.5,26l0.5,-31.3l0.5,27.7l0.5,-25.1l0.5,24.3l0.5,-25.1l0.5,23.4l0.5,-24.2l0.5,35.3l0.5,-35.9l0.5,29.7l0.5,-27.1l0.5,27.5l0.5,-31l0.5,28.6l0.5,-21.2l0.5,21.1l0.5,-24.6l0.5,25.7l0.5,-28.7l0.5,26.2l0.5,-24.7l0.5,32.2l0.5,-27.4l0.5,24.7l0.5,-27.6l0.5,28.1l0.5,-30.3l0.5,32l0.5,-30.3l0.5,24.6l0.5,-21.7l0.5,29l0.5,-30.6l0.5,25.3l0.5,-26.5l0.5,28.5l0.5,-20.9l0.5,18.6l0.5,-17.9l0.5,16.4l0.5,-21l0.5,27.1l0.5,-22.7l0.5,23.5l0.5,-27.4l0.5,28.1l0.5,-25.8l0.5,22.2l0.5,-22.6l0.5,23.6l0.5,-24.5l0.5,31.1l0.5,-30.5l0.5,28.3l0.5,-29.1l0.5,28.1l0.5,-24l0.5,28.8l0.5,-28.2l0.5,28.1l0.5,-24.9l0.5,20l0.5,-26.9l0.5,27l0.5,-16.9l0.5,18.1l0.5,-22.5l0.5,22.5l0.5,-25.1l0.5,29.7l0.5,-26l0.5,28.5l0.5,-28.7l0.5,25.3l0.5,-24.8l0.5,26.6l0.5,-22.2l0.5,25.1l0.5,-27.9l0.5,30.2l0.5,-26.4l0.5,27.7l0.5,-26.9l0.5,26l0.5,-27l0.5,25.6l0.5,-24.9l0.5,26.3l0.5,-26.9l0.5,27.7l0.5,-29.6l0.5,30.4l0.5,-29l0.5,26.7l0.5,-25.9l0.5,27.5l0.5,-26.1l0.5,23.1l0.5,-23.7l0.5,32.7l0.5,-28.2l0.5,26.4l0.5,-24.5l0.5,21.7l0.5,-20l0.5,22.6l0.5,-26l0.5,25.6l0.5,-25.8l0.5,31.5l0.5,-31.6l0.5,32.4l0.5,-27.5l0.5,27.8l0.5,-30.2l0.5,30.6l0.5,-31.9l0.5,31.2l0.5,-27.2l0.5,24.3l0.5,-22l0.5,27l0.5,-26.1l0.5,25.5l0.5,-26.9l0.5,24.1l0.5,-21.4l0.5,26.2l0.5,-28.2l0.5,29.4l0.5,-29.5l0.5,29.8l0.5,-27.9l0.5,28.9l0.5,-25.5l0.5,24.9l0.5,-28.6l0.5,23.5l0.5,-23.7l0.5,25.6l0.5,-22.8l0.5,25.2l0.5,-26.3l0.5,31.8l0.5,-32.6l0.5,32.3l0.5,-29.1l0.5,29.2l0.5,-27.6l0.5,21.9l0.5,-22l0.5,29.1l0.5,-31.5l0.5,33l0.5,-26.9l0.5,25.2l0.5,-29.4l0.5,31.4l0.5,-30.4l0.5,33.3l0.5,-25.2l0.5,20.1l0.5,-23l0.5,21l0.5,-20l0.5,22.3l0.5,-22.1l0.5,20.5l0.5,-16.8l0.5,21.1l0.5,-28.2l0.5,24.8l0.5,-21.7l0.5,30.6l0.5,-24.2l0.5,20.7l0.5,-20.4l0.5,25.3l0.5,-29.8l0.5,29.8l0.5,-31.6l0.5,28.5l0.5,-22.4l0.5,20.8l0.5,-24.8l0.5,28.7l0.5,-27.5l0.5,27.1l0.5,-28.3l0.5,29.6l0.5,-23.9l0.5,27.5l0.5,-26.1l0.5,23.5l0.5,-25.7l0.5,24.1l0.5,-27.1l0.5,31.3l0.5,-24.2l0.5,24.2l0.5,-29.2l0.5,25.5l0.5,-25.6l0.5,32.5l0.5,-29.1l0.5,22.1l0.5,-20.4l0.5,27.1l0.5,-25.4l0.5,21.8l0.5,-22.2l0.5,20.6l0.5,-19.4l0.5,27.2l0.5,-28.5l0.5,26.3l0.5,-23.6l0.5,20l0.5,-23.4l0.5,25.9l0.5,-28.2l0.5,26.6l0.5,-21.4l0.5,25.9l0.5,-24.4l0.5,24.8l0.5,-30.8l0.5,29l0.5,-27.2l0.5,23.2l0.5,-24.7l0.5,33.3l0.5,-25.8l0.5,23.2l0.5,-24.9l0.5,23.9l0.5,-20.8l0.5,24.4l0.5,-24.2l0.5,19.5l0.5,-26l0.5,26.2l0.5,-19.7l0.5,25.6l0.5,-30l0.5,29.9l0.5,-29.4l0.5,24.1l0.5,-22.6l0.5,28.2l0.5,-31.8l0.5,29.8l0.5,-30.5l0.5,26.3l0.5,-25.4l0.5,27.1l0.5,-24.5l0.5,25.5l0.5,-28.8l0.5,26.2l0.5,-25.1l0.5,26.3l0.5,-23.9l0.5,26.8l0.5,-29.9l0.5,28.9l0.5,-28.9l0.5,29.3l0.5,-24l0.5,19.7l0.5,-23.3l0.5,25.8l0.5,-25.5l0.5,26.3l0.5,-29.7l0.5,32.5l0.5,-27.2l0.5,27.1l0.5,-26.7l0.5,22.2l0.5,-24.1l0.5,20.4l0.5,-23.2l0.5,28.8l0.5,-29.7l0.5,31.1l0.5,-27.6l0.5,22.2l0.5,-20l0.5,24.2l0.5,-28.6l0.5,23.8l0.5,-19.3l0.5,23.4l0.5,-29.3l0.5,24.1l0.5,-22.3l0.5,20.8l0.5,-21l0.5,26.1l0.5,-29.2l0.5,29.5l0.5,-25.4l0.5,19.5l0.5,-17.6l0.5,17.8l0.5,-24.3l0.5,30.1l0.5,-31.6l0.5,31.3l0.5,-30.1l0.5,24.8l0.5,-24.7l0.5,28.4l0.5,-23.8l0.5,22.8l0.5,-27.6l0.5,27.2l0.5,-23.8l0.5,23.8l0.5,-26.9l0.5,28.6l0.5,-32.8l0.5,31.9l0.5,-31.6l0.5,23.8l0.5,-19.3l0.5,21.5l0.5,-22.5l0.5,25.5l0.5,-27l0.5,26.3l0.5,-27.1l0.5,25.5l0.5,-32.9l0.5,33.8l0.5,-28.8l0.5,29l0.5,-29.2l0.5,26.4l0.5,-22.4l0.5,21.9l0.5,-23.1l0.5,18.7l0.5,-22.5l0.5,28.1l0.5,-31.8l0.5,26.5l0.5,-21.2l0.5,24.6l0.5,-26.7l0.5,20.6l0.5,-25.2l0.5,29.9l0.5,-31.8l0.5,31l0.5,-25.6l0.5,25.4l0.5,-24.8l0.5,24.9l0.5,-28.8l0.5,22.4l0.5,-26.9l0.5,31.8l0.5,-25.2l0.5,19.1l0.5,-22.3l0.5,24.5l0.5,-24.6l0.5,21l0.5,-24.9l0.5,30.4l0.5,-30.7l0.5,24.2l0.5,-25.4l0.5,33.9l0.5,-33l0.5,25.9l0.5,-23.8l0.5,26.4l0.5,-23.6l0.5,24.5l0.5,-28.5l0.5,25.6l0.5,-29.7l0.5,33.5l0.5,-31.6l0.5,30.3l0.5,-32.1l0.5,30.6l0.5,-24.3l0.5,19.8l0.5,-24.9l0.5,25.8l0.5,-27.7l0.5,23.4l0.5,-17.5l0.5,23.7l0.5,-24.9l0.5,17.9l0.5,-16.9l0.5,24.7l0.5,-30l0.5,28.6l0.5,-24.4l0.5,23.6l0.5,-30.2l0.5,23.7l0.5,-21.6l0.5,31.3l0.5,-34.2l0.5,30l0.5,-30.1l0.5,25.5l0.5,-21.9l0.5,21.1l0.5,-21.6l0.5,25.1l0.5,-24.4l0.5,22.4l0.5,-24.5l0.5,24.4l0.5,-27.3l0.5,25l0.5,-29.7l0.5,31.8l0.5,-30.8l0.5,29.6l0.5,-31.1l0.5,30.4l0.5,-32.6l0.5,31.6l0.5,-27.1l0.5,26.5l0.5,-31.1l0.5,28.8l0.5,-27.7l0.5,27.4l0.5,-29.9l0.5,23.4l0.5,-24.7l0.5,29.2l0.5,-31.7l0.5,31.2l0.5,-32.5l0.5,27.7l0.5,-23.7l0.5,23.2l0.5,-27.2l0.5,26.9l0.5,-28.3l0.5,27.5l0.5,-28.1l0.5,24.7l0.5,-19.8l0.5,25.5l0.5,-32.5l0.5,27.9l0.5,-27.2l0.5,25.9l0.5,-27.3l0.5,31.3l0.5,-27.8l0.5,25.6l0.5,-25.1l0.5,25l0.5,-30.1l0.5,24.6l0.5,-23.4l0.5,27.9l0.5,-32.3l0.5,32.3l0.5,-24.8l0.5,22l0.5,-30.8l0.5,29.2l0.5,-27.4l0.5,28.4l0.5,-26.2l0.5,24.2l0.5,-23.4l0.5,23.6l0.5,-26.4l0.5,25l0.5,-28.3l0.5,31.6l0.5,-27.7l0.5,18.8l0.5,-17.4l0.5,19.6l0.5,-30.7l0.5,34.1l0.5,-31.9l0.5,33l0.5,-30.7l0.5,26.1l0.5,-22.5l0.5,25.9l0.5,-31.3l0.5,25.1l0.5,-27.4l0.5,26.5l0.5,-22.4l0.5,26.2l0.5,-22.7l0.5,20l0.5,-21.8l0.5,22.7l0.5,-25.9l0.5,25.6l0.5,-23.2l0.5,23.9l0.5,-28.3l0.5,27.1l0.5,-30.8l0.5,30.1l0.5,-27.2l0.5,24.1l0.5,-23.1l0.5,23.8l0.5,-19.9l0.5,21.2l0.5,-24.8l0.5,19.7l0.5,-24.2l0.5,29.8l0.5,-29.6l0.5,29.5l0.5,-28.6l0.5,25.4l0.5,-26l0.5,26.4l0.5,-23.2l0.5,23.7l0.5,-29.2l0.5,27.7l0.5,-30l0.5,29.7l0.5,-24l0.5,23l0.5,-23.9l0.5,22.3l0.5,-28.4l0.5,30.3l0.5,-31.4l0.5,30.5l0.5,-27.7l0.5,23.3l0.5,-26.8l0.5,26.4l0.5,-28.5l0.5,31.1l0.5,-31.5l0.5,28.2l0.5,-28.2l0.5,28.1l0.5,-30.7l0.5,25.4l0.5,-18.3l0.5,23.5l0.5,-29.1l0.5,26l0.5,-25.5l0.5,23.5l0.5,-27.6l0.5,26.7l0.5,-21l0.5,25.4l0.5,-28.4l0.5,29.1l0.5,-33.4l0.5,27.5l0.5,-22.3l0.5,27.3l0.5,-24l0.5,23.9l0.5,-26.7l0.5,24.4l0.5,-24.2l0.5,22.6l0.5,-25.2l0.5,28.9l0.5,-29.5l0.5,22.9l0.5,-24l0.5,22.9l0.5,-18.3l0.5,23.9l0.5,-27.9l0.5,23.7l0.5,-26.2l0.5,31.1l0.5,-22.7l0.5,23.8l0.5,-31.3l0.5,26.3l0.5,-24.7l0.5,28.7l0.5,-31.1l0.5,30.5l0.5,-27.9l0.5,28.3l0.5,-29.7l0.5,30.4l0.5,-28.9l0.5,22.1l0.5,-18.8l0.5,24.9l0.5,-28l0.5,25.4l0.5,-29.4l0.5,31.6l0.5,-30l0.5,30.4l0.5,-25.6l0.5,20.2l0.5,-19l0.5,17.1l0.5,-22.7l0.5,28.2l0.5,-24.6l0.5,20.7l0.5,-19.3l0.5,19.5l0.5,-24l0.5,26.7l0.5,-30.7l0.5,32.9l0.5,-30.3l0.5,28.8l0.5,-31.7l0.5,31.7l0.5,-25.8l0.5,26.1l0.5,-30.9l0.5,24.7l0.5,-22l0.5,23.3l0.5,-20.6l0.5,18l0.5,-21.9l0.5,24.9l0.5,-26.8l0.5,26.7l0.5,-27.5l0.5,23l0.5,-21.9l0.5,28.7l0.5,-23l0.5,17.8l0.5,-20.4l0.5,20.7l0.5,-26.3l0.5,26l0.5,-31l0.5,34.9l0.5,-25.3l0.5,23.1l0.5,-23.3l0.5,23.5l0.5,-24.6l0.5,25.2l0.5,-29.1l0.5,23.5l0.5,-18.3l0.5,20.1l0.5,-20.8l0.5,20.2l0.5,-21.4l0.5,24.3l0.5,-29.2l0.5,28.1l0.5,-27.5l0.5,31.4l0.5,-26.1l0.5,21.2l0.5,-24.9l0.5,29l0.5,-28.5l0.5,22.9l0.5,-27.2l0.5,28.4l0.5,-25.7l0.5,28.4l0.5,-33l0.5,33l0.5,-24.6l0.5,25.1l0.5,-33.1l0.5,27.9l0.5,-28.4l0.5,26.6l0.5,-23.2l0.5,23.6l0.5,-27.6l0.5,30.4l0.5,-27.4l0.5,24.2l0.5,-21l0.5,21.3l0.5,-22.5l0.5,25l0.5,-24.8l0.5,23.3l0.5,-22.4l0.5,22.8l0.5,-26.2l0.5,27l0.5,-31.4l0.5,30l0.5,-25.2l0.5,26.8l0.5,-30.7l0.5,30.8l0.5,-32.3l0.5,25.7l0.5,-22l0.5,24l0.5,-26.5l0.5,25.8l0.5,-22.5l0.5,26.7l0.5,-26.5l0.5,23.8l0.5,-24.7l0.5,22.6l0.5,-25.8l0.5,25.7l0.5,-24.5l0.5,25.2l0.5,-23.9l0.5,28l0.5,-26.1l0.5,24.6l0.5,-27.3l0.5,22.4l0.5,-18.1l0.5,28.6l0.5,-34l0.5,29.7l0.5,-35l0.5,30l0.5,-25.7l0.5,27.2l0.5,-27.3l0.5,25.5l0.5,-19.8l0.5,25.2l0.5,-32.7l0.5,32l0.5,-24.5l0.5,24.8l0.5,-31.3l0.5,26.1l0.5,-23.8l0.5,26.8l0.5,-26.8l0.5,24.3l0.5,-27.2l0.5,28.8l0.5,-28.1l0.5,30.6l0.5,-28.9l0.5,26.7l0.5,-26.9l0.5,26.4l0.5,-23.6l0.5,25.5l0.5,-24.2l0.5,21.5l0.5,-25.9l0.5,29.1l0.5,-30.6l0.5,26.3l0.5,-26.2l0.5,28.7l0.5,-24.7l0.5,24l0.5,-21.5l0.5,23.3l0.5,-29.4l0.5,27.2l0.5,-22.3l0.5,25.7l0.5,-32.9l0.5,23.9l0.5,-24.3l0.5,31.2l0.5,-25.9l0.5,23.5l0.5,-21.4l0.5,17l0.5,-19.2l0.5,26.8l0.5,-30.7l0.5,27.9l0.5,-30.5l0.5,31.7l0.5,-31l0.5,30.4l0.5,-23.1l0.5,24l0.5,-34.5l0.5,33.2l0.5,-25.7l0.5,27.1l0.5,-31.3l0.5,25l0.5,-20.2l0.5,26.9l0.5,-29.8l0.5,27.1l0.5,-29.1l0.5,28.6l0.5,-29.7l0.5,32l0.5,-29.5l0.5,25.6l0.5,-26.9l0.5,29.9l0.5,-27.8l0.5,25.1l0.5,-27.2l0.5,30.3l0.5,-26.7l0.5,19.7l0.5,-22.8l0.5,25.3l0.5,-20.9l0.5,18.9l0.5,-20.5l0.5,21.4l0.5,-21.4l0.5,23.9l0.5,-24.2l0.5,21.9l0.5,-24.1l0.5,22.7l0.5,-24.5l0.5,26.9l0.5,-27.2l0.5,32.1l0.5,-30.6l0.5,23.5l0.5,-24.9l0.5,28.9l0.5,-26.2l0.5,27l0.5,-28l0.5,30.8l0.5,-32.5l0.5,31.1l0.5,-26.6l0.5,26.3l0.5,-24.4l0.5,19.7l0.5,-20l0.5,21.5l0.5,-22.9l0.5,19.9l0.5,-20.8l0.5,27.1l0.5,-31.1l0.5,28.1l0.5,-24.5l0.5,25.6l0.5,-25.5l0.5,27.6l0.5,-29.2l0.5,25l0.5,-23.6l0.5,22.3l0.5,-24.7l0.5,31.2l0.5,-25.3l0.5,22.9l0.5,-26l0.5,27.8l0.5,-28.5l0.5,26.9l0.5,-27.4l0.5,21.4l0.5,-18.6l0.5,21.3l0.5,-25.6l0.5,27.7l0.5,-24.3l0.5,19.3l0.5,-18.7l0.5,24.8l0.5,-29.3l0.5,30.9l0.5,-29.7l0.5,28.2l0.5,-21.6l0.5,17.1l0.5,-26.4l0.5,30.8l0.5,-27.4l0.5,26.1l0.5,-26.1l0.5,28.1l0.5,-23.7l0.5,20.4l0.5,-26.4l0.5,29.9l0.5,-24.8l0.5,23.5l0.5,-28.7l0.5,30.1l0.5,-24.2l0.5,24.7l0.5,-29.7l0.5,30l0.5,-27.6l0.5,27.2l0.5,-28.4l0.5,28.7l0.5,-26.7l0.5,22.6l0.5,-24.9l0.5,28.8l0.5,-26.3l0.5,26.6l0.5,-25.3l0.5,25.7l0.5,-29.6l0.5,22.1l0.5,-22.1l0.5,26.9l0.5,-24.8l0.5,27.3l0.5,-27.4l0.5,26.6l0.5,-30.6l0.5,34.2l0.5,-32.6l0.5,28l0.5,-26.9l0.5,26.6l0.5,-33.2l0.5,33.4l0.5,-28.2l0.5,29.7l0.5,-26.3l0.5,24l0.5,-28.5l0.5,26.1l0.5,-27.2l0.5,31.9l0.5,-31.1l0.5,28.5l0.5,-21.5l0.5,18l0.5,-19.5l0.5,25.7l0.5,-31.6l0.5,27.2l0.5,-23.5l0.5,27.7l0.5,-32l0.5,28.2l0.5,-25.4l0.5,30.5l0.5,-36.4l0.5,33.4l0.5,-25.7l0.5,27.1l0.5,-28l0.5,25.4l0.5,-26.3l0.5,30.6l0.5,-32.5l0.5,26.8l0.5,-25.7l0.5,25.3l0.5,-27.7l0.5,26l0.5,-22.7l0.5,30l0.5,-28.6l0.5,28l0.5,-29.5l0.5,25.3l0.5,-20l0.5,23.3l0.5,-29.3l0.5,30.2l0.5,-30.6l0.5,30.5l0.5,-27.7l0.5,25.6l0.5,-27l0.5,28l0.5,-26.9l0.5,22.9l0.5,-23.4l0.5,27.4l0.5,-30l0.5,32.6l0.5,-28.4l0.5,22.3l0.5,-22.6l0.5,26.5l0.5,-26l0.5,22.7l0.5,-23.1l0.5,25.6l0.5,-25.7l0.5,22.3l0.5,-23.1l0.5,29.5l0.5,-25.5l0.5,23.3l0.5,-26.7l0.5,23.4l0.5,-20l0.5,23.4l0.5,-28.5l0.5,27.7l0.5,-27l0.5,29.3l0.5,-28l0.5,28.7l0.5,-28.8l0.5,26.9l0.5,-25.7l0.5,20.4l0.5,-25.5l0.5,25l0.5,-19l0.5,19.5l0.5,-25.3l0.5,29.3l0.5,-27.9l0.5,30.7l0.5,-28.8l0.5,24.9l0.5,-22.9l0.5,26.1l0.5,-26l0.5,25.7l0.5,-22.5l0.5,18l0.5,-22.5l0.5,26.5l0.5,-27l0.5,31.2l0.5,-28l0.5,21.9l0.5,-24.3l0.5,27.8l0.5,-31.2l0.5,31l0.5,-30.8l0.5,30.2l0.5,-25.5l0.5,25.7l0.5,-31.5l0.5,32.8l0.5,-27.2l0.5,21.9l0.5,-27.2l0.5,32.5l0.5,-25.2l0.5,21.6l0.5,-24.4l0.5,22.2l0.5,-21.4l0.5,21.4l0.5,-24.4l0.5,27.6l0.5,-25.9l0.5,28l0.5,-29.8l0.5,29.7l0.5,-27.8l0.5,28.4l0.5,-29.1l0.5,29.4l0.5,-28.4l0.5,22l0.5,-19.6l0.5,22.4l0.5,-21.8l0.5,20.7l0.5,-26.2l0.5,23.5l0.5,-25l0.5,28l0.5,-27l0.5,24.7l0.5,-18.4l0.5,24.2l0.5,-29.1l0.5,22.6l0.5,-21.5l0.5,24.2l0.5,-26.1l0.5,30.2l0.5,-27.5l0.5,23.3l0.5,-23l0.5,24.4l0.5,-27.1l0.5,24.5l0.5,-25.6l0.5,25.4l0.5,-18.5l0.5,20.7l0.5,-28.2l0.5,32.9l0.5,-29.1l0.5,27.5l0.5,-28.8l0.5,22.8l0.5,-17.2l0.5,25.3l0.5,-35.6l0.5,33.7l0.5,-27.4l0.5,24.4l0.5,-23.9l0.5,28.1l0.5,-31.3l0.5,28l0.5,-25.2l0.5,27.3l0.5,-30.2l0.5,30l0.5,-21.3l0.5,19.1l0.5,-23.1l0.5,23.4l0.5,-25.9l0.5,30.7l0.5,-27.4l0.5,26.8l0.5,-31.4l0.5,28.7l0.5,-24.7l0.5,24l0.5,-24.1l0.5,26l0.5,-24.1l0.5,24l0.5,-28.9l0.5,26.3l0.5,-25.3l0.5,30.6l0.5,-31.6l0.5,27.6l0.5,-20.4l0.5,19.8l0.5,-23.8l0.5,29.4l0.5,-33.3l0.5,24.8l0.5,-22.9l0.5,25.7l0.5,-27l0.5,30.3l0.5,-27l0.5,24.5l0.5,-27.7l0.5,33.2l0.5,-31.4l0.5,25.1l0.5,-24.1l0.5,25.7l0.5,-23.1l0.5,21.5l0.5,-24.6l0.5,23.5l0.5,-21.4l0.5,25l0.5,-24.7l0.5,27.9l0.5,-31.4l0.5,28.7l0.5,-27.1l0.5,28.9l0.5,-30.6l0.5,24.9l0.5,-25l0.5,32.2l0.5,-28.8l0.5,28.3l0.5,-22.6l0.5,20.8l0.5,-26.4l0.5,23.9l0.5,-21l0.5,22.4l0.5,-23.4l0.5,28.8l0.5,-32.1l0.5,29l0.5,-23.3l0.5,23.1l0.5,-29.1l0.5,32.2l0.5,-30.4l0.5,24.6l0.5,-18.8l0.5,22.1l0.5,-23.8l0.5,26.9l0.5,-31.2l0.5,30.4l0.5,-27.8l0.5,26.6l0.5,-22.5l0.5,25.2l0.5,-29.3l0.5,26.6l0.5,-29.7l0.5,30.2l0.5,-25.1l0.5,27.1l0.5,-23.6l0.5,17.2l0.5,-23l0.5,27.1l0.5,-27.6l0.5,30.7l0.5,-31.6l0.5,26.8l0.5,-22.4l0.5,21.4l0.5,-24.3l0.5,30.6l0.5,-31.4l0.5,32.7l0.5,-32.3l0.5,29.3l0.5,-22.4l0.5,17.9l0.5,-22l0.5,24.6l0.5,-24.5l0.5,22.5l0.5,-21.8l0.5,23.6l0.5,-25.2l0.5,30.7l0.5,-26.3l0.5,19.6l0.5,-26.2l0.5,34.2l0.5,-30.2l0.5,30.4l0.5,-32.2l0.5,25.9l0.5,-26.8l0.5,25.2l0.5,-22.2l0.5,29.2l0.5,-23.7l0.5,21.6l0.5,-24.4l0.5,21.9l0.5,-23l0.5,24.6l0.5,-27.9l0.5,28.6l0.5,-23.6l0.5,22.2l0.5,-26l0.5,30.9l0.5,-25.5l0.5,23l0.5,-27.2l0.5,23.5l0.5,-21.3l0.5,22l0.5,-23.7l0.5,25l0.5,-19.6l0.5,23.3l0.5,-25.8l0.5,19.6l0.5,-22.5l0.5,26.2l0.5,-25.2l0.5,29.5l0.5,-31.9l0.5,26l0.5,-25.9l0.5,25.3l0.5,-21.6l0.5,24.5l0.5,-23.9l0.5,22.4l0.5,-20.1l0.5,24.9l0.5,-29l0.5,29l0.5,-31.2l0.5,25.8l0.5,-22.9l0.5,23.5l0.5,-21l0.5,11.8l0.6,21.7l0.5,-35.8l0.5,28.1l0.6,-27.2l0.5,26.7l0.6,-7.6l0.5,17.5l0.6,-7.2l0.5,6.4l0.6,-19.6l0.5,17.8l0.6,-24.3l0.5,25.4l0.6,-18.8l0.5,20.3l0.6,-4.2l0.5,3.9l0.6,-4.3l0.5,5.9l0.6,-7.9l0.5,5.6l0.6,-5.6l0.5,7.9l0.6,-5.6l0.5,1.8l0.6,-31.3l0.5,26.5l0.6,-26.9l0.5,25.3l0.6,-2.1l0.5,7.1l0.6,-19.3l0.5,22.8l0.6,-36.3l0.5,31l0.6,-31.2l0.5,35l0.6,-16.9l0.5,19.3l0.6,-5.8l0.5,6.2l0.6,-7.6l0.5,8l0.6,-5.3l0.5,0.1l0.6,-24.1l0.5,27.2l0.6,-22.1l0.5,19.8l0.6,-23.1l0.5,15.5l0.6,-20l0.5,28.5l0.6,-23.3l0.5,26.4l0.6,-32l0.5,32.4l0.6,-24.9l0.5,18.1l0.6,-31.6l0.5,36l0.6,-21.8l0.5,24.1l0.6,-8l0.5,8l0.6,-8l0.5,8l0.6,-7.3l0.5,4.6l0.6,-2.6l0.5,3.8l0.6,-36.8l0.5,31.2l0.6,-25.2l0.5,27.7l0.6,-25l0.5,26l0.6,-4.8l0.5,8.6l0.6,-9.7l0.5,9.4l0.6,-23.6l0.5,22.3l0.6,-9l0.5,2.5l0.6,-23.8l0.5,18.5l0.6,-15l0.5,21.7l0.6,-22.7l0.5,29.4l0.6,-36.8l0.5,35.4l0.6,-29.5l0.5,29.9l0.6,-31.1l0.5,23.1l0.6,-21.5l0.5,30.1l0.6,-38.5l0.5,28.4l0.6,-26l0.5,33.1l0.6,-3.2l0.5,6.3l0.6,-12.6l0.5,12.3l0.6,-38.1l0.5,38.3l0.6,-37.1l0.5,37.5l0.6,-7.7l0.5,-5l0.6,-11.6l0.5,20l0.6,-34.6l0.5,37.8l0.6,-37.9l0.5,37.1l0.6,-17.9l0.5,18.9l0.6,-35.9l0.5,24.7l0.6,-23.7l0.5,32.7l0.6,-4.5l0.5,7.2l0.6,-6.1l0.5,1.7l0.6,-33.9l0.5,30.8l0.6,-15.9l0.5,19.6l0.6,-19.6l0.5,17.6l0.6,-28.9l0.5,24.3l0.6,-17.9l0.5,20l0.6,-30.2l0.5,37.3l0.6,-16l0.5,12.8l0.6,-22.1l0.5,18.5l0.6,-30l0.5,28.6l0.6,-18.4l0.5,25.1l0.6,-35.6l0.5,30.8l0.6,-28.6l0.5,27.4l0.6,-14.3l0.5,14.2l0.6,-18l0.5,27.1l0.6,-38.9l0.5,26.6l0.6,-4.9l0.5,17.2l0.6,-8.8l0.5,3.8l0.6,-19.3l0.5,23.8l0.6,-32.7l0.5,28.8l0.6,-32.1l0.5,25.1l0.6,-20.7l0.5,31l0.6,-24.5l0.5,25.6l0.6,-26l0.5,25.6l0.6,-27.2l0.5,22.7l0.6,-18.3l0.5,19.2l0.6,-17.4l0.5,14.3l0.6,-17.1l0.5,12.8l0.6,-10.8l0.5,22.2l0.6,-7.1l0.5,2.2l0.6,-33.1l0.5,27.5l0.6,-16.8l0.5,21.1l0.6,-24.6l0.5,21.8l0.6,-14.5l0.5,11.7l0.6,-27.1l0.5,36.6l0.6,-25.2l0.5,27.6l0.6,-7.6l0.5,1.3l0.6,-32l0.5,25.2l0.6,-25l0.5,28.6l0.6,-26.1l0.5,34.4l0.6,-37.4l0.5,36.4l0.6,-29.5l0.5,23.5l0.6,-19.2l0.5,27.3l0.6,-21.6l0.5,18l0.6,-4.4l0.5,6.1l0.6,-4.5l0.5,3.8l0.6,-5.8l0.5,7.1l0.6,-5.5l0.5,6.6l0.6,-5.1l0.5,-5.1l0.6,-27.3l0.5,35.5l0.6,-22.3l0.5,19l0.6,-10.4l0.5,13.5l0.6,-4.4l0.5,-1l0.6,-30l0.5,33.6l0.6,-31.1l0.5,22l0.6,-23.4l0.5,29.3l0.6,-30.2l0.5,32.9l0.6,-5.1l0.5,11.7l0.6,-21.3l0.5,16.4l0.6,-18.4l0.5,13.5l0.6,-19.3l0.5,28.9l0.6,-35.7l0.5,31.7l0.6,-28.8l0.5,27.2l0.6,-19.9l0.5,16.3l0.6,-26.8l0.5,29.6l0.6,-29l0.5,36.8l0.6,-35l0.5,29.9l0.6,-32.5l0.5,29.1l0.6,-16.2l0.5,16.6l0.6,-8.9l0.5,16.5l0.6,-32.2l0.5,23.5l0.6,-28.4l0.5,36l0.6,-31.6l0.5,24l0.6,-20.2l0.5,25.8l0.6,-19.7l0.5,20.5l0.6,-25.8l0.5,16.8l0.6,-20l0.5,26.4l0.6,-19.7l0.5,21l0.6,-33.8l0.5,36.4l0.6,-33.7l0.5,29.4l0.6,-25.4l0.5,30.4l0.6,-37l0.5,37.5l0.6,-36.3l0.5,34.7l0.6,-26.1l0.5,27.8l0.6,-21.3l0.5,21.3l0.6,-33.3l0.5,26.3l0.6,-30.3l0.5,27l0.6,-25.7l0.5,24.5l0.6,-11.9l0.5,22.5l0.6,-36.7l0.5,36.7l0.6,-27.3l0.5,26.7l0.6,-25.3l0.5,26.1l0.6,-34.8l0.5,26.9l0.6,-23l0.5,30.3l0.6,-36.4l0.5,37.4l0.6,-36.4l0.5,27.8l0.6,-19.1l0.5,26.9l0.6,-24.3l0.5,23.7l0.6,-34.6l0.5,33.5l0.6,-34.5l0.5,36.6l0.6,-30.9l0.5,31.8l0.6,-34.2l0.5,32.1l0.6,-24.3l0.5,18.7l0.6,-26.2l0.5,25.6l0.6,-28.3l0.5,27.3l0.6,-22.1l0.5,23.5l0.6,-27.5l0.5,35.1l0.6,-34.8l0.5,23.1l0.6,-19l0.5,30.4l0.6,-26.1l0.5,21.6l0.6,-30.6l0.5,30.1l0.6,-32.3l0.5,26l0.6,-21l0.5,20.4l0.6,-12.9l0.5,19.2l0.6,-27.2l0.5,30.9l0.6,-35.4l0.5,27.9l0.6,-26l0.5,29.8l0.6,-18.1l0.5,23.8l0.6,-23.3l0.5,16.6l0.6,-26.1l0.5,33.3l0.6,-23.9l0.5,19.4l0.6,-32.7l0.5,26.5l0.6,-26.8l0.5,25.6l0.6,-19.1l0.5,21.9l0.6,-27.4l0.5,32.8l0.6,-32l0.5,26.2l0.6,-28.5l0.5,29.9l0.6,-15.9l0.5,17.8l0.6,-30.9l0.5,36.8l0.6,-23.3l0.5,23.4l0.6,-36.7l0.5,30.7l0.6,-24.4l0.5,19.1l0.6,-22.9l0.5,31.5l0.6,-24.6l0.5,15.1l0.6,-25.4l0.5,26.8l0.6,-22.2l0.5,29.2l0.6,-22.2l0.5,18.4l0.6,-30.1l0.5,37l0.6,-34.9l0.5,30l0.6,-19l0.5,23.3l0.6,-35.1l0.5,36.6l0.6,-28l0.5,27.4l0.6,-25.1l0.5,19.9l0.6,-31.7l0.5,26.9l0.6,-16.1l0.5,15.4l0.6,-13.9l0.5,13.3l0.6,-22.5l0.5,29.6l0.6,-31.7l0.5,32.2l0.6,-29.6l0.5,31.3l0.6,-22.4l0.5,15.6l0.6,-27.4l0.5,27.7l0.6,-18.4l0.5,18.9l0.6,-23.1l0.5,19.9l0.6,-21l0.5,25.9l0.6,-31l0.5,36.3l0.6,-28.8l0.5,29.3l0.6,-29.6l0.5,24.2l0.6,-23.9l0.5,29.8l0.6,-37.4l0.5,25.5l0.6,-17l0.5,29.5l0.6,-30.1l0.5,18.9" stroke="#00ff00" stroke-width="1.15"/>
</g>
<rect x="165.5" y="835.5" width="989" height="164" fill="none" stroke="#262626" stroke-width="1"/>
<line x1="479.50" y1="835.50" x2="479.50" y2="845.50" stroke="#262626" stroke-width="1"/>
<line x1="479.50" y1="999.50" x2="479.50" y2="989.50" stroke="#262626" stroke-width="1"/>
<line x1="1093.50" y1="835.50" x2="1093.50" y2="845.50" stroke="#262626" stroke-width="1"/>
<line x1="1093.50" y1="999.50" x2="1093.50" y2="989.50" stroke="#262626" stroke-width="1"/>
<line x1="165.50" y1="854.50" x2="175.50" y2="854.50" stroke="#262626" stroke-width="1"/>
<line x1="1154.50" y1="854.50" x2="1144.50" y2="854.50" stroke="#262626" stroke-width="1"/>
<line x1="165.50" y1="902.50" x2="175.50" y2="902.50" stroke="#262626" stroke-width="1"/>
<line x1="1154.50" y1="902.50" x2="1144.50" y2="902.50" stroke="#262626" stroke-width="1"/>
<line x1="165.50" y1="950.50" x2="175.50" y2="950.50" stroke="#262626" stroke-width="1"/>
<line x1="1154.50" y1="950.50" x2="1144.50" y2="950.50" stroke="#262626" stroke-width="1"/>
<text x="129.49" y="859.90" font-family="Liberation Sans, sans-serif" font-size="22.39" fill="#262626" textLength="26.51" lengthAdjust="spacingAndGlyphs">20</text>
<text x="142.75" y="908.80" font-family="Liberation Sans, sans-serif" font-size="22.39" fill="#262626" textLength="13.25" lengthAdjust="spacingAndGlyphs">0</text>
<text x="121.98" y="956.70" font-family="Liberation Sans, sans-serif" font-size="22.39" fill="#262626" textLength="34.02" lengthAdjust="spacingAndGlyphs">-20</text>
<text x="121.98" y="1004.60" font-family="Liberation Sans, sans-serif" font-size="22.39" fill="#262626" textLength="34.02" lengthAdjust="spacingAndGlyphs">-40</text>
<text x="85.20" y="1011.43" font-family="Liberation Sans, sans-serif" font-size="19.59" font-weight="bold" fill="#262626" textLength="64.11" lengthAdjust="spacingAndGlyphs" transform="rotate(-90 85.20 1011.43)">Model</text>
<text x="85.20" y="940.80" font-family="Liberation Sans, sans-serif" font-size="19.59" font-weight="bold" fill="#262626" textLength="7.78" lengthAdjust="spacingAndGlyphs" transform="rotate(-90 85.20 940.80)">-</text>
<text x="85.20" y="926.49" font-family="Liberation Sans, sans-serif" font-size="19.59" font-weight="bold" fill="#262626" textLength="103.92" lengthAdjust="spacingAndGlyphs" transform="rotate(-90 85.20 926.49)">Measured</text>
<text x="111.20" y="955.90" font-family="Liberation Sans, sans-serif" font-size="19.59" font-weight="bold" fill="#262626" textLength="27.99" lengthAdjust="spacingAndGlyphs" transform="rotate(-90 111.20 955.90)">|B|</text>
<text x="111.20" y="921.38" font-family="Liberation Sans, sans-serif" font-size="19.59" font-weight="bold" fill="#262626" textLength="43.28" lengthAdjust="spacingAndGlyphs" transform="rotate(-90 111.20 921.38)">(nT)</text>
<text x="1169.80" y="925.20" font-family="Liberation Sans, sans-serif" font-size="15.24" font-weight="bold" fill="#000000" textLength="63.72" lengthAdjust="spacingAndGlyphs" transform="rotate(-90 1169.80 925.20)">Inboard</text>
<text x="1182.00" y="944.30" font-family="Liberation Sans, sans-serif" font-size="15.24" font-weight="bold" fill="#000000" textLength="77.66" lengthAdjust="spacingAndGlyphs" transform="rotate(-90 1182.00 944.30)">Outboard</text>
<line x1="1165" y1="958.2" x2="1165" y2="972.7" stroke="#0000ff" stroke-width="1.6"/>
<line x1="1180" y1="958" x2="1180" y2="974" stroke="#00ff00" stroke-width="1.6"/>
<line x1="479.50" y1="1073.00" x2="479.50" y2="1233.00" stroke="#dfdfdf" stroke-width="1"/>
<line x1="1093.50" y1="1073.00" x2="1093.50" y2="1233.00" stroke="#dfdfdf" stroke-width="1"/>
<line x1="166.00" y1="1086.50" x2="1154.00" y2="1086.50" stroke="#dfdfdf" stroke-width="1"/>
<line x1="166.00" y1="1154.50" x2="1154.00" y2="1154.50" stroke="#dfdfdf" stroke-width="1"/>
<line x1="166.00" y1="1222.50" x2="1154.00" y2="1222.50" stroke="#dfdfdf" stroke-width="1"/>
<g clip-path="url(#c5)" fill="none" stroke-linejoin="miter" stroke-width="1.25">
<path d="M165.5,1128.5h3.5v-4h0.5v4h0.5v4h0.5v-8h1.5v4h0.5v-4h4v4h2v-4h2v-4h1v4h6.5v-4h1v4h0.5v-4h2v4h1v-4h5.5v4h0.5v-4h1v-4h0.5v4h1.5v-4h0.5v4h2.5v-4h0.5v4h3v4h0.5v-8h0.5v4h6.5v-4h4v4h2v-4h1.5v4h0.5v-4h1v4h0.5v-8h1.5v8h1.5v-4h3v4h1v-4h6.5v4h0.5v-4h1v4h0.5v-4h1v-4h0.5v8h0.5v-4h2.5v-4h0.5v4h3.5v-4h0.5v4h2v-4h1v4h0.5v-4h6v4h0.5v-4h2.5v4h2v-4h0.5v4h0.5v-4h1v4h1v-4h2.5v4h1v-4h1v-4h0.5v4h0.5v-4h0.5v4h0.5v-4h0.5v4h4.5v-4h1.5v4h1v-4h2.5v4h1.5v-4h0.5v4h2.5v-4h0.5v4h0.5v-4h0.5v4h1v-4h3v4h1.5v-4h1v4h0.5v-4h4v4h0.5v-4h1v4h1.5v-4h3v4h1.5v-4h7v4h0.5v-4h1v4h3v-4h5v4h1v-4h4.5v-4h0.5v4h3.5v-4h1v4h1v-4h1v4h2v-4h0.5v4h4v-4h0.5v4h4.5v4h1.5v-4h2.5v-4h3v4h1v4h1v-4h0.5v-4h3v8h1v-4h1.5v-4h1v4h1v-4h0.5v-3h1v3h1.5v4h1.5v-4h4v4h1v-4h1.5v4h1v-4h0.5v4h0.5v-4h1.5v4h0.5v-4h2.5v4h1v-4h0.5v4h4v-4h1.5v4h1.5v-4h2v4h3.5v-4h0.5v4h1v-4h2v4h0.5v-4h2v4h1v-4h5.5v4h0.5v-4h0.5v4h1v-4h0.5v4h1.5v-7h0.5v3h5v-3h0.5v3h1.5v4h0.5v-4h0.5v-3h0.5v7h0.5v-7h0.5v3h2v-3h0.5v3h2.5v-3h0.5v3h3v-3h0.5v3h2v-3h0.5v3h1.5v-3h0.5v3h0.5v-3h3v3h2v-3h0.5v3h2v-3h1v3h7v-3h1v3h0.5v-3h0.5v3h1v4h0.5v-7h1.5v3h0.5v-3h2v3h1.5v4h2.5v-7h2.5v3h0.5v-3h6v3h0.5v-3h3v3h1v-3h6v3h0.5v-3h1.5v3h0.5v-3h2.5v3h0.5v-3h1.5v-4h0.5v4h10v3h0.5v-3h1v-4h0.5v4h3v3h0.5v-3h4.5v3h0.5v-3h2.5v3h0.5v-3h0.5v3h0.5v-3h3v3h0.5v-3h1v3h2v-3h0.5v3h0.5v-3h6.5v-4h0.5v4h4v3h1v-3h1v3h2.5v-3h3v-4h0.5v4h1v3h0.5v-3h0.5v3h2v-3h2.5v-4h0.5v4h0.5v-4h0.5v4h0.5v3h2v-3h3v3h1v-3h5.5v3h0.5v-3h2v3h0.5v-3h1v3h1v-3h0.5v3h0.5v-3h2.5v3h0.5v-3h2v3h2v-3h7.5v3h0.5v-3h1v3h0.5v-3h1.5v-4h1.5v4h7v-4h0.5v4h14v3h0.5v-3h1.5v3h0.5v-3h3.5v3h1v-3h0.5v-4h1v4h2v3h0.5v-3h1.5v3h1.5v-3h0.5v3h0.5v-7h0.5v4h1.5v-4h1.5v4h2.5v3h0.5v-3h4v-4h1.5v7h0.5v-7h0.5v4h6v3h0.5v-3h0.5v-4h0.5v4h7.5v3h0.5v-3h1.5v-4h0.5v7h1v-3h3.5v3h0.5v-3h0.5v3h0.5v-3h2v-4h0.5v4h11v3h1v-3h0.5v-4h1v4h7v-4h1v4h2.5v3h0.5v-3h2v-4h1v4h2v-4h1v4h4.5v3h1v-3h7v3h0.5v-3h2.5v-4h0.5v4h0.5v3h1v-3h5v-4h0.5v4h0.5v-4h1v4h2v-4h2v4h3v-4h0.5v4h2v-4h1v4h2.5v-4h0.5v4h0.5v-4h3v4h1.5v-4h1.5v4h3.5v-4h1.5v4h1v-4h2.5v4h1v-4h0.5v4h1.5v-4h1v4h1.5v-4h1v4h0.5v-4h0.5v4h1.5v-4h6.5v4h0.5v-4h1.5v4h0.5v-4h1v4h0.5v-4h0.5v4h0.5v-4h2v4h1v-4h1.5v4h1v-4h2v4h1.5v-4h3v4h0.5v-4h0.5v4h0.5v-4h1v4h1.5v-4h3v4h3v-4h1.5v4h0.5v-4h0.5v4h0.5v-4h3.5v4h1.5v-4h2.5v-4h0.5v8h0.5v-4h1.5v4h0.5v-4h0.5v4h1v-4h3v4h0.5v-4h5v-4h0.5v8h0.5v-4h4v4h0.5v-4h8.5v4h2.5v-4h0.5v-4h0.5v4h2v-4h0.5v4h7.5v-4h2v8h0.5v-4h1v-4h0.5v4h1.5v4h0.5v-4h1.5v-4h1.5v4h1.5v4h1v-4h0.5v-4h0.5v4h6v-4h1v4h2v4h1.5v-4h0.5v-4h1.5v4h0.5v-4h1v4h2.5v4h1v-4h2v4h1.5v-8h1v4h1.5v4h0.5v-4h1v-4h0.5v4h2v-4h0.5v4h1v4h1.5v-4h1v4h1v-4h3v4h0.5v-8h1v4h0.5v4h1.5v-4h1.5v-4h0.5v4h0.5v-4h0.5v4h1v-4h0.5v8h0.5v-4h1.5v-4h0.5v4h0.5v-4h3.5v4h3.5v-4h2v4h2v-8h0.5v8h4.5v-4h1v4h4.5v-4h1v4h1v-4h1.5v4h3.5v4h0.5v-8h0.5v4h1v-4h0.5v4h2v-4h2.5v4h3.5v-4h1v4h0.5v-4h4v8h1v-4h0.5v4h0.5v-4h2.5v-4h0.5v4h0.5v-4h0.5v8h0.5v-4h1v-4h0.5v4h3v-4h2v4h0.5v-4h2v4h0.5v-4h0.5v4h3.5v-4h1v4h3v-4h0.5v4h3v-4h0.5v4h1v-4h1v4h2v-4h1v4h0.5v-4h0.5v4h2v-4h1v4h0.5v-4h0.5v4h3.5v-4h1v4h0.5v-4h0.5v4h0.5v-4h1v4h0.5v-4h1.5v4h1.5v-4h1v4h1.5v-8h2v8h1v-4h1v4h1.5v-4h0.5v4h0.5v-4h0.5v4h0.5v-4h3v4h0.5v-4h0.5v4h1.5v-4h1v4h0.5v-4h1.5v4h1.5v-4h1.5v4h1v-4h1.5v4h1v-4h0.5v4h1v-4h3.5v4h0.5v-4h2v4h1.5v-4h0.5v4h2.5v-4h1v4h0.5v-4h1v4h0.5v-4h0.5v4h0.5v-4h1.5v4h1.5v-4h3v4h1.5v-4h10.5v4h1v-4h1.5v4h2v-4h2v4h1v-4h1.5v4h0.5v-4h15v4h1.5v-4h2.5v-4h1v8h0.5v-8h0.5v4h1v4h1v-4h2v-4h1v4h1v-4h0.5v4h1v4h0.5v-4h6.5v-4h0.5v4h2v-4h0.5v4h5.5v4h1.5v-8h0.5v4h6.5v-4h0.5v4h3v-4h2v4h0.5v-4h0.5v4h6v-4h1v4h2.5v-4h0.5v4h4.5v-4h0.5v4h1.5v4h0.5v-8h0.5v4h0.5v-4h0.5v4h9v-4h0.5v4h6.5" stroke="#0000ff"/>
<path d="M165.5,1212.5h5v-4h0.5v4h3v-4h1.5v4h1.5v-4h1v4h3v-4h2v4h2v-4h1v4h3v-4h1v4h3.5v-4h0.5v4h2v-4h1v4h0.5v-4h1v4h0.5v-4h3v4h3v-4h1.5v4h1v-4h0.5v4h2v-4h4v4h0.5v-4h0.5v4h1v-4h0.5v4h1.5v-4h1.5v4h4v-4h2v4h0.5v-4h1v4h1.5v-4h1.5v4h0.5v-4h1.5v4h2.5v-4h0.5v4h2v-4h0.5v4h2v-4h2v4h0.5v-4h1v4h0.5v-4h0.5v4h1v-4h2.5v4h1.5v-4h1v4h2v-4h3v4h1.5v-4h1.5v4h1v-4h2v4h1v-4h3v4h5.5v-4h2.5v4h0.5v-4h4v4h0.5v-4h0.5v4h4.5v-4h0.5v4h0.5v-4h1v4h1.5v-4h1v4h0.5v-4h2.5v4h0.5v-4h0.5v4h3v-4h1v4h1v-4h0.5v4h1.5v-4h0.5v4h2.5v-4h0.5v4h3.5v-4h2v4h2.5v-4h0.5v4h1.5v-4h0.5v4h1.5v-4h1.5v4h0.5v-4h1.5v4h0.5v-4h0.5v4h1.5v-4h3.5v4h1.5v-4h1v4h2.5v-4h1.5v4h1.5v-4h2v4h3v-4h3.5v4h0.5v-4h0.5v4h0.5v-4h0.5v4h0.5v-4h0.5v4h3v-4h0.5v4h5v-4h0.5v4h4v-4h0.5v4h1v-4h0.5v4h1.5v-4h1.5v4h3v-4h1.5v4h0.5v-4h1v4h8.5v-4h0.5v4h1v-4h1v4h2v-4h3v4h3.5v-4h1v4h1v-4h0.5v4h2v4h1v-8h0.5v4h5v-4h1v4h2.5v-4h2v4h1v-4h1.5v4h4v-4h0.5v4h0.5v-4h0.5v4h2.5v-4h1v4h5v-4h0.5v4h1v-4h1.5v4h1v-4h1v4h2v-4h3v4h0.5v-4h1v4h1v-4h0.5v4h0.5v-4h1.5v4h1v-4h1.5v4h2v-4h0.5v4h2.5v-4h2v4h3v-4h0.5v4h0.5v-4h2v4h0.5v-4h1.5v4h1.5v-4h1v4h1.5v-4h1v4h1v-4h2v4h0.5v-4h4v4h1v-4h0.5v4h3.5v-4h3v4h0.5v-4h4.5v4h0.5v-4h0.5v4h4.5v4h1v-4h0.5v-4h0.5v4h14v4h1.5v-4h2v4h0.5v-4h1.5v-4h1.5v4h2.5v4h0.5v-4h3v4h0.5v-4h1.5v4h1v-4h2v4h1.5v-4h4.5v4h0.5v-4h3.5v4h1.5v-4h0.5v4h1v-4h2v4h1v-4h3v4h0.5v-4h1v4h0.5v-4h5.5v4h0.5v-4h1v4h0.5v-4h0.5v4h0.5v-4h4.5v4h0.5v-4h5.5v4h2v-4h1v-4h0.5v4h7v4h1v-4h4v4h0.5v-4h2.5v4h0.5v-4h6.5v4h0.5v-4h7.5v4h0.5v-4h0.5v-4h1v4h5v-4h0.5v4h0.5v-4h1v4h3v-4h2.5v4h1v-4h0.5v4h2v-4h1.5v4h4v-4h1v4h0.5v-4h0.5v4h1v-4h1.5v4h1v-4h1.5v4h2v-4h0.5v4h2v-4h0.5v4h1v-4h0.5v4h2v-4h3v4h1v-4h0.5v4h2v-4h1v4h2v-4h1.5v4h0.5v-4h2.5v4h1.5v-4h0.5v4h4.5v-4h1v4h1.5v-4h2v4h1v-4h2v4h1.5v-4h0.5v4h1v-4h1v4h0.5v-4h1v4h2v-4h0.5v4h2v-4h1v4h0.5v-4h1v4h2v-4h0.5v4h3v-4h2v4h4.5v-4h1v4h2v-4h1v4h4v-4h1v4h0.5v-4h1v4h2v-4h1v4h1.5v-4h0.5v4h0.5v-4h1.5v4h0.5v-4h1.5v4h3v-4h1v4h2.5v-4h2.5v4h2.5v-4h3v4h0.5v-4h0.5v4h1v-4h1v4h3.5v-4h0.5v4h1.5v-4h1v4h3v-4h1v4h2v-4h1v4h1.5v-4h0.5v4h0.5v-4h3v4h0.5v-4h0.5v4h2v-4h0.5v4h4.5v-4h1v4h0.5v-4h1v4h0.5v-4h0.5v4h0.5v-4h1v4h1v-4h1v4h1v-4h0.5v4h1v-4h1v4h1v-4h3v4h2v-4h1.5v4h1.5v-4h0.5v4h0.5v-4h0.5v4h0.5v-4h8v4h1v-4h0.5v4h1.5v-4h0.5v4h2v-4h0.5v4h1.5v-4h0.5v4h2.5v-4h1v4h1v-4h1v4h2v-4h0.5v4h1v-4h0.5v4h1v-4h1v4h0.5v-4h0.5v4h4.5v-4h1v4h3.5v-4h3.5v4h0.5v-4h1.5v4h4.5v-4h0.5v4h5v-4h1.5v4h2v-4h1v4h2v-4h5.5v4h1.5v-4h4.5v4h0.5v-4h0.5v4h2v-4h1v4h3v-4h0.5v4h2v-4h2v4h1.5v-4h2v4h0.5v-4h2v4h7v-4h1v4h0.5v-4h0.5v4h0.5v-4h5v4h1v-4h0.5v4h1.5v-4h1.5v4h1v-4h0.5v4h1.5v-4h1v4h1v-4h1.5v4h1v-4h0.5v4h1.5v-4h1v4h2v-4h1v4h0.5v-4h0.5v4h1v-4h1v4h0.5v-4h2v4h0.5v-4h1.5v4h0.5v-4h1v4h1v-4h2v4h4.5v-4h3v4h2v-4h2v4h0.5v-4h0.5v4h0.5v-4h0.5v4h2v-4h0.5v4h2.5v-4h1v4h0.5v-4h1v4h0.5v-4h0.5v4h5.5v-4h0.5v4h1v-4h0.5v4h0.5v-4h1v4h2v-4h0.5v4h0.5v-4h3.5v4h3v-4h0.5v4h0.5v-4h2v4h3v-4h2v4h0.5v-4h1.5v4h1v-4h6v4h2.5v-4h1.5v4h1v-4h1v4h3v-4h1v4h1v-4h0.5v4h0.5v-4h2v4h0.5v-4h1v4h1v-4h0.5v4h2v-4h1.5v4h1v-4h3v4h1v-4h1v4h1.5v-4h2.5v4h2.5v-4h0.5v4h0.5v-4h0.5v4h0.5v-4h0.5v8h0.5v-4h0.5v-4h2v4h0.5v-4h2v4h1v-4h1v4h1v-4h1v4h1v-4h2v4h2v-4h1v4h0.5v-4h0.5v4h0.5v-4h0.5v4h1v-4h3v4h3.5v-4h9v4h2v-4h2v4h0.5v-4h0.5v4h0.5v-4h3v4h3v-4h1.5v4h0.5v-4h0.5v4h1v-4h1.5v4h0.5v-4h5v4h0.5v-4h2v4h1v-4h0.5v4h1.5v-4h2.5v4h1v-4h0.5v4h2v-4h2v4h4v-4h1v4h1v-4h2v4h1.5v-4h2v4h1v-4h3v4h1.5v-4h1.5v4h1v-4h0.5v4h0.5v-4h8v4h0.5v-4h1v4h1v-4h1v4h0.5v-4h1.5v4h2.5v-4h1v4h0.5v-4h0.5v4h1v-4h1.5v4h0.5v-4h1v4h0.5v-4h0.5v4h0.5v-4h1v4h1v-4h2.5v4h0.5v-4h0.5v4h1v-4h1v4h1.5v-4h0.5v4h1v-4h0.5v4h0.5v-4h2.5v4h1v-4h0.5v4h0.5v-4h2v4h0.5v-4h0.5v4h1v-4h0.5v4h0.5v-4h1v4h0.5v-4h1.5v4h1v-4h1v4h1v-4h1v4h1.5v-4h2.5v4h1v-4h2v4h2v-4h5v4h1v-4h0.5v4h0.5v-4h1v4h0.5v-4h1v4h1v-4" stroke="#00ffff"/>
<path d="M165.5,1106.5h1v-4h0.5v4h0.5v-4h0.5v8h0.5v-4h2.5v-4h0.5v4h0.5v-4h2.5v4h1v4h1v-4h0.5v-4h2.5v-4h2v4h6v-4h0.5v4h1v-4h1v4h1.5v-4h0.5v4h0.5v-4h0.5v4h5v-4h1v4h0.5v-4h1v4h0.5v-4h5v-4h0.5v4h0.5v-4h0.5v4h0.5v4h0.5v-4h1v-4h0.5v8h1v-8h0.5v4h0.5v-4h0.5v-4h0.5v4h3v-4h2v4h1v4h0.5v-4h2v-4h0.5v4h1v-4h0.5v4h1.5v4h2v-4h1.5v-4h0.5v8h0.5v-8h0.5v4h0.5v-4h0.5v4h3v-4h1.5v4h0.5v-4h2.5v4h1v-4h5.5v4h1.5v-4h2v4h0.5v-4h0.5v4h0.5v-4h0.5v4h1.5v-4h1.5v4h0.5v-4h4v-4h0.5v4h10.5v4h0.5v-4h4v-4h2.5v8h0.5v-4h2.5v-4h4.5v4h1.5v-4h1v4h3.5v-4h1v4h1.5v-4h1.5v4h2v-4h2.5v4h0.5v-8h0.5v8h0.5v-4h1v-4h0.5v4h1v4h0.5v-8h0.5v4h2.5v4h0.5v-4h2v4h1.5v-4h5.5v4h1v-4h1.5v-4h0.5v4h0.5v-8h0.5v8h4.5v-4h1v8h0.5v-4h3.5v-4h1.5v4h0.5v-4h1v4h3v-4h0.5v4h0.5v-4h0.5v4h1v-4h1v4h0.5v-4h0.5v4h3v-4h2v4h0.5v-4h1v4h0.5v-4h0.5v4h1v-4h1v4h0.5v-4h1.5v4h1.5v-4h0.5v4h5v-4h3.5v4h2v-4h0.5v4h0.5v-4h1.5v4h1.5v-4h1.5v4h1v-4h2v4h0.5v-4h1v4h0.5v-4h0.5v4h3v-4h0.5v4h0.5v-4h0.5v4h2.5v-4h2v4h1.5v-4h0.5v4h0.5v-4h0.5v4h0.5v-4h1v4h0.5v-4h3v4h0.5v-4h0.5v-4h1.5v4h1.5v4h1v-4h1.5v4h0.5v-8h0.5v4h1.5v4h0.5v-4h1.5v4h1.5v-4h1v-4h0.5v8h1v-4h1v4h0.5v-4h0.5v-4h0.5v4h1.5v4h1v-4h0.5v4h0.5v-8h0.5v8h0.5v-8h1v4h3v4h0.5v-4h3.5v-4h0.5v8h0.5v-4h1.5v8h1v-8h0.5v4h0.5v-4h1.5v4h0.5v-4h4.5v4h0.5v-4h1.5v-4h0.5v4h4.5v-4h0.5v4h1.5v4h0.5v-4h0.5v-4h0.5v4h4.5v-4h0.5v4h3.5v4h0.5v-4h0.5v4h1.5v-4h3v4h0.5v-4h3v4h1v-8h0.5v8h0.5v-4h1.5v-4h1v8h0.5v-4h2.5v4h1v-4h3v-4h1v4h5.5v-4h0.5v4h2.5v-4h0.5v4h1v4h0.5v-4h5v-4h0.5v8h0.5v-4h3v4h0.5v-4h1v-4h0.5v4h1v-4h0.5v4h1v4h0.5v-4h2.5v4h1v-4h1.5v-4h1v4h1.5v-4h1.5v4h5v4h1v-4h3v-4h1v4h3v-4h1v4h3v-4h0.5v4h1v-4h1v8h1v-8h1v4h2v8h2.5v-8h0.5v4h0.5v-4h6.5v4h0.5v-4h9v4h0.5v-4h2v4h0.5v-4h0.5v4h1.5v-4h1v4h2v-4h2v4h1.5v-4h6.5v4h1v-4h1.5v-4h0.5v4h1.5v4h2v-4h1v-4h0.5v4h4.5v-4h1v4h1.5v4h0.5v-8h1v4h2v-4h0.5v4h2.5v-4h0.5v4h1.5v4h1v-4h1v4h0.5v-4h0.5v-4h0.5v4h3.5v-4h0.5v4h1v-4h0.5v4h7.5v4h2v-4h4v-4h0.5v4h3.5v-4h2.5v4h0.5v4h0.5v-4h0.5v-4h0.5v4h3v-4h0.5v4h1v4h0.5v-4h5v-4h1v8h1.5v-4h2.5v-4h0.5v4h0.5v-4h0.5v4h3v-4h0.5v4h0.5v-4h1v4h3v-4h0.5v8h1v-4h4v-4h0.5v8h0.5v-4h3v-4h1v4h5v4h1.5v-4h3.5v-8h0.5v4h2v4h0.5v4h0.5v-4h1v4h0.5v-4h1v-4h0.5v4h5v4h0.5v-4h1.5v4h0.5v-4h2.5v-4h0.5v4h2.5v-4h0.5v8h0.5v-8h1v4h6v-4h0.5v4h2.5v4h0.5v-4h0.5v-4h0.5v4h6v-4h0.5v4h3v4h0.5v-4h1v-4h0.5v4h5v-4h0.5v4h2.5v4h0.5v-4h1v-4h1.5v4h0.5v-4h0.5v4h4v-4h1.5v8h0.5v-4h1v-4h0.5v4h1v-4h0.5v4h1.5v-4h0.5v4h2.5v4h0.5v-8h1v4h2v-4h2v4h2.5v-4h0.5v4h1.5v-4h1.5v4h1v-4h1v4h1v-4h0.5v4h4v-4h1.5v4h1.5v-4h0.5v4h1v-4h0.5v4h3v-4h0.5v4h1v-4h1.5v4h1v-4h1v4h2v-4h0.5v4h1.5v-4h0.5v4h0.5v-4h3v4h1v-4h1.5v4h1.5v-4h1v-4h0.5v8h3.5v-4h1.5v4h1v-4h0.5v4h4v-4h2.5v-4h0.5v8h2.5v-8h0.5v4h1.5v4h1v-4h1v4h1v-4h0.5v4h0.5v-4h1v4h1v-4h1v4h1.5v-4h0.5v4h1v-4h1.5v4h0.5v-4h1v4h2v-4h1.5v4h0.5v-4h3.5v4h1v-4h0.5v4h1.5v-4h1.5v4h0.5v-4h0.5v4h0.5v-4h2v4h0.5v-4h1v4h3v-4h1v4h0.5v-4h1.5v4h1v-4h2v4h0.5v-4h2v4h2.5v-4h1v4h0.5v-4h3v4h1v-4h0.5v4h1.5v-4h0.5v-4h1v4h1v4h0.5v-4h3.5v4h1v-4h0.5v4h0.5v-4h1.5v4h0.5v-4h0.5v-4h1.5v8h1v-4h2v4h1v-4h0.5v4h0.5v-4h2v4h1v-4h1.5v4h1v-4h2.5v4h1v-4h5v4h0.5v-8h0.5v4h0.5v4h0.5v-4h1v-4h1v8h0.5v-4h3v-4h0.5v8h1v-8h0.5v4h1v4h0.5v-4h5.5v4h0.5v-4h2.5v4h0.5v-4h0.5v4h1.5v-4h4v4h0.5v-4h2v4h0.5v-8h0.5v8h1.5v-4h2.5v4h0.5v-4h5.5v4h0.5v-4h5v-4h1v4h3v-4h0.5v8h1v-8h0.5v4h0.5v-4h0.5v4h1v4h1.5v-4h1.5v4h0.5v-4h5v-4h1v4h6.5v4h2v-4h1v-4h0.5v4h0.5v4h2v-4h0.5v4h1.5v-4h12v4h0.5v-4h1.5v4h3v-4h3.5v-4h0.5v4h0.5v4h0.5v-4h3v4h2.5v-4h0.5v-4h1v4h3.5v4h0.5v-4h1.5v-4h1v4h1v4h0.5v-4h1.5v-4h1v8h1v-4h2v-4h2.5v4h5v-4h1v4h7.5v-4h0.5v4h2.5v-4h2v4h2v-4h0.5v4h3v4h1v-4h1.5v-4h0.5v4h1v-4h1.5v4h3.5v-4h0.5v4h3v-4h1v4h1.5v-4h1v4h6v4h1v-4h3v-4h1.5v-4h0.5v8h1v-4h2.5v4h1.5v4h1v-4h6.5v-4h0.5v4h3.5v-4h0.5v8h1v-8h0.5v4h1.5v4h1.5v-4h4.5v4h1v-4h0.5v4h1v-4h1v-4h0.5v4h0.5v4h0.5v-4h2v-4h0.5v4h4v-4h1v4h1v-4h1v4h1.5v-4h0.5v4h1v-4h0.5v4h5v-4h1v4h2.5v4h0.5v-4h1.5v-4h0.5v4h1v-4h1v4h1.5v-4h0.5v4h1v-4h1v4h0.5v-4h0.5v4h0.5v4h0.5v-4h1.5v-4h1v4h2v-4h0.5v4h4v4h0.5v-4h1v4h0.5v-4h1.5v-4h1.5v4h0.5v-4h0.5v4h10.5v-4h1v4h1.5v-4h0.5v4h0.5v-4h1.5v8h1v-4h1.5v-4h0.5v4h2.0" stroke="#00ff00"/>
<path d="M165.5,1226.5h9.5v4h0.5v-4h1.5v4h0.5v-4h1.5v4h1.5v-4h5.5v4h0.5v-4h2.5v4h1v-4h6v4h0.5v-4h6.5v4h0.5v-4h5v4h0.5v-4h2.5v4h1v-4h4v4h1v-4h2.5v4h0.5v-4h3.5v4h0.5v-4h4v4h0.5v-4h0.5v4h0.5v-4h2v4h0.5v-4h4.5v4h1v-4h2.5v4h0.5v-4h3.5v-4h1.5v4h6.5v4h1v-4h3v4h1.5v-4h5v4h1.5v-4h9.5v4h0.5v-4h2v4h1.5v-8h1v8h1v-4h1.5v-4h0.5v4h0.5v4h0.5v-4h2.5v4h0.5v-4h10.5v4h0.5v-4h3v4h0.5v-4h1v4h0.5v-4h5v4h1v-4h13.5v4h0.5v-4h3v-4h0.5v4h0.5v-4h0.5v4h4v4h1.5v-4h2.5v4h1v-4h1v4h0.5v-4h1v4h1v-4h3v-4h0.5v8h0.5v-4h2v4h0.5v-4h1.5v4h1v-4h4v4h0.5v-4h5v-4h0.5v8h1v-4h7.5v4h0.5v-4h0.5v4h0.5v-4h0.5v4h1.5v-4h1.5v4h0.5v-4h3.5v-4h1v4h6v4h3v-4h1v4h0.5v-4h3v4h0.5v-4h4v-4h0.5v8h1.5v-4h1v4h0.5v-4h6.5v-4h0.5v4h1v4h0.5v-4h10.5v4h0.5v-4h1v-4h0.5v8h0.5v-4h1v-4h0.5v8h0.5v-4h5.5v4h0.5v-4h0.5v4h0.5v-4h9.5v4h1v-4h9.5v4h0.5v-4h10v4h0.5v-4h0.5v4h1v-4h5v4h0.5v-4h7.5v4h0.5v-4h1v4h1v-4h0.5v-4h0.5v4h1v4h0.5v-4h3.5v4h1v-4h3v4h0.5v-4h2v4h0.5v-4h2.5v-4h0.5v4h1v4h2v-4h4v4h0.5v-4h1.5v-4h0.5v4h1.5v-4h0.5v8h0.5v-4h1v4h0.5v-4h3.5v4h1v-4h0.5v4h2v-4h1v4h1v-4h1.5v4h0.5v-4h4v4h0.5v-4h3.5v4h1v-4h2.5v4h0.5v-4h0.5v4h1v-4h4.5v4h0.5v-4h2v4h0.5v-4h3.5v4h1v-8h1v4h1v4h1.5v-4h2v-4h1v8h0.5v-4h2v-4h0.5v4h7.5v-4h0.5v4h4v4h0.5v-4h2v4h0.5v-8h0.5v4h1v4h0.5v-4h1v4h1v-4h1v4h1v-4h1.5v4h1.5v-4h12.5v4h1v-4h8v4h0.5v-4h9.5v4h1v-4h2.5v4h0.5v-4h4v4h1v-4h2.5v-4h0.5v8h0.5v-4h0.5v-4h1v4h6.5v4h0.5v-4h0.5v4h2v-4h19v-4h1v4h0.5v4h0.5v-4h3v-4h1.5v4h2.5v-4h1v4h0.5v-4h0.5v4h10v-4h0.5v4h4.5v-4h2v4h2v-4h1.5v4h1.5v-4h0.5v4h2v-4h0.5v4h3v-4h1v4h6v-4h0.5v4h0.5v-4h0.5v4h0.5v-4h0.5v4h1.5v-4h0.5v4h1v-4h0.5v4h0.5v-4h0.5v4h0.5v-4h2v4h1.5v-4h1v4h3v-4h0.5v4h0.5v-4h0.5v4h1v-4h1.5v4h2v-4h1.5v4h3v-4h1v4h1v-4h0.5v4h2v-4h0.5v4h1.5v-4h0.5v4h0.5v-4h3v4h2.5v-8h1v4h1v4h0.5v-4h0.5v4h1.5v-4h1v4h0.5v-4h4v4h0.5v-4h2v4h1.5v-4h2v4h0.5v-4h5.5v-4h0.5v4h2v-4h0.5v4h6.5v-4h0.5v4h1v-4h1v4h5v-4h0.5v4h0.5v4h0.5v-8h0.5v4h2v-4h2v4h0.5v-4h0.5v4h2v-4h1v4h1v-4h1v4h1.5v-4h0.5v4h0.5v-4h1.5v4h1.5v-4h4v4h3.5v-4h1v4h2v-4h1.5v4h2v-4h1v4h1.5v-4h5.5v4h0.5v-4h3.5v4h1v-4h5v4h0.5v-4h2v4h0.5v-4h0.5v4h0.5v-4h7.5v4h0.5v-4h4.5v4h1v-4h16v-4h1v4h11v-4h1v4h1v4h0.5v-4h1v-4h1.5v4h5v-4h0.5v4h1v4h1v-4h6.5v-4h0.5v4h1v4h0.5v-8h1v4h0.5v-4h2v4h4v-4h1.5v4h0.5v-4h1v4h1.5v4h1v-4h3v-4h1v4h3v-4h0.5v4h1.5v4h0.5v-4h4v-4h1v4h1v-4h1v4h2v-4h1.5v4h1v-4h2v4h1v4h0.5v-4h2.5v-4h1v4h0.5v-4h4.5v4h2v-4h1v4h5v-4h5.5v4h0.5v-4h5v-4h0.5v8h0.5v-4h0.5v4h2v-4h0.5v-4h0.5v4h5.5v4h1v-4h2.5v4h1v-4h6v4h0.5v-4h0.5v4h0.5v-4h2v4h1v-4h0.5v4h1.5v-4h5.5v4h1v-4h3.5v-4h0.5v4h5.5v-4h1.5v4h0.5v-4h0.5v4h9.5v-4h0.5v4h2.5v-4h1v4h6v-4h0.5v4h1v-4h1v4h1.5v-4h3.5v4h1v-4h1v4h0.5v-4h1v4h4v-4h3v4h2.5v-4h4.5v4h3v-4h3v4h1v-4h1.5v4h0.5v-4h4v4h1v-4h5.5v4h1.5v-4h1.5v4h1.5v-4h6.5v4h0.5v-4h2.5v4h0.5v-4h1v4h0.5v-4h7.5v4h1v-4h3v4h1v-4h0.5v4h1.5v-4h1v4h1v-4h3v4h2v-4h1.5v4h2v-4h2v4h0.5v-4h2.5v4h0.5v-4h0.5v4h0.5v-4h3v4h0.5v-4h1.5v4h1v-4h0.5v4h0.5v-8h0.5v4h11.5v4h1v-4h1v-4h0.5v4h6.5v4h1.5v-8h1v4h0.5v4h1v-4h1.5v4h0.5v-4h9.0" stroke="#ffff00"/>
</g>
<rect x="165.5" y="1072.5" width="989" height="161" fill="none" stroke="#262626" stroke-width="1"/>
<line x1="479.50" y1="1072.50" x2="479.50" y2="1082.50" stroke="#262626" stroke-width="1"/>
<line x1="479.50" y1="1233.50" x2="479.50" y2="1223.50" stroke="#262626" stroke-width="1"/>
<line x1="1093.50" y1="1072.50" x2="1093.50" y2="1082.50" stroke="#262626" stroke-width="1"/>
<line x1="1093.50" y1="1233.50" x2="1093.50" y2="1223.50" stroke="#262626" stroke-width="1"/>
<line x1="165.50" y1="1086.50" x2="175.50" y2="1086.50" stroke="#262626" stroke-width="1"/>
<line x1="1154.50" y1="1086.50" x2="1144.50" y2="1086.50" stroke="#262626" stroke-width="1"/>
<line x1="165.50" y1="1154.50" x2="175.50" y2="1154.50" stroke="#262626" stroke-width="1"/>
<line x1="1154.50" y1="1154.50" x2="1144.50" y2="1154.50" stroke="#262626" stroke-width="1"/>
<line x1="165.50" y1="1222.50" x2="175.50" y2="1222.50" stroke="#262626" stroke-width="1"/>
<line x1="1154.50" y1="1222.50" x2="1144.50" y2="1222.50" stroke="#262626" stroke-width="1"/>
<text x="142.75" y="1092.80" font-family="Liberation Sans, sans-serif" font-size="22.39" fill="#262626" textLength="13.25" lengthAdjust="spacingAndGlyphs">0</text>
<text x="135.23" y="1160.90" font-family="Liberation Sans, sans-serif" font-size="22.39" fill="#262626" textLength="20.77" lengthAdjust="spacingAndGlyphs">-5</text>
<text x="121.98" y="1228.80" font-family="Liberation Sans, sans-serif" font-size="22.39" fill="#262626" textLength="34.02" lengthAdjust="spacingAndGlyphs">-10</text>
<text x="85.20" y="1220.13" font-family="Liberation Sans, sans-serif" font-size="19.59" font-weight="bold" fill="#262626" textLength="134.87" lengthAdjust="spacingAndGlyphs" transform="rotate(-90 85.20 1220.13)">Temperature</text>
<text x="111.20" y="1172.84" font-family="Liberation Sans, sans-serif" font-size="19.59" font-weight="bold" fill="#262626" textLength="40.27" lengthAdjust="spacingAndGlyphs" transform="rotate(-90 111.20 1172.84)">(°C)</text>
<text x="1170.00" y="1176.40" font-family="Liberation Sans, sans-serif" font-size="15.24" font-weight="bold" fill="#000000" textLength="63.72" lengthAdjust="spacingAndGlyphs" transform="rotate(-90 1170.00 1176.40)">Inboard</text>
<text x="1170.00" y="1107.60" font-family="Liberation Sans, sans-serif" font-size="15.24" font-weight="bold" fill="#000000" textLength="40.49" lengthAdjust="spacingAndGlyphs" transform="rotate(-90 1170.00 1107.60)">EBox</text>
<text x="1181.80" y="1192.10" font-family="Liberation Sans, sans-serif" font-size="15.24" font-weight="bold" fill="#000000" textLength="63.72" lengthAdjust="spacingAndGlyphs" transform="rotate(-90 1181.80 1192.10)">Inboard</text>
<text x="1181.80" y="1123.30" font-family="Liberation Sans, sans-serif" font-size="15.24" font-weight="bold" fill="#000000" textLength="56.66" lengthAdjust="spacingAndGlyphs" transform="rotate(-90 1181.80 1123.30)">Sensor</text>
<text x="1193.60" y="1192.80" font-family="Liberation Sans, sans-serif" font-size="15.24" font-weight="bold" fill="#000000" textLength="77.66" lengthAdjust="spacingAndGlyphs" transform="rotate(-90 1193.60 1192.80)">Outboard</text>
<text x="1193.60" y="1110.06" font-family="Liberation Sans, sans-serif" font-size="15.24" font-weight="bold" fill="#000000" textLength="40.49" lengthAdjust="spacingAndGlyphs" transform="rotate(-90 1193.60 1110.06)">EBox</text>
<text x="1205.20" y="1212.80" font-family="Liberation Sans, sans-serif" font-size="15.24" font-weight="bold" fill="#000000" textLength="77.66" lengthAdjust="spacingAndGlyphs" transform="rotate(-90 1205.20 1212.80)">Outboard</text>
<text x="1205.20" y="1130.06" font-family="Liberation Sans, sans-serif" font-size="15.24" font-weight="bold" fill="#000000" textLength="56.66" lengthAdjust="spacingAndGlyphs" transform="rotate(-90 1205.20 1130.06)">Sensor</text>
<line x1="1168" y1="1233.3" x2="1168" y2="1248.5" stroke="#0000ff" stroke-width="1.6"/>
<line x1="1180" y1="1233.3" x2="1180" y2="1248.5" stroke="#00ffff" stroke-width="1.6"/>
<line x1="1191.8" y1="1233.3" x2="1191.8" y2="1248.5" stroke="#00ff00" stroke-width="1.6"/>
<line x1="1203" y1="1233.3" x2="1203" y2="1248.5" stroke="#ffff00" stroke-width="1.6"/>
<line x1="412.50" y1="1307.00" x2="412.50" y2="1469.00" stroke="#dfdfdf" stroke-width="1"/>
<line x1="659.50" y1="1307.00" x2="659.50" y2="1469.00" stroke="#dfdfdf" stroke-width="1"/>
<line x1="907.50" y1="1307.00" x2="907.50" y2="1469.00" stroke="#dfdfdf" stroke-width="1"/>
<line x1="166.00" y1="1387.50" x2="1154.00" y2="1387.50" stroke="#dfdfdf" stroke-width="1"/>
<g clip-path="url(#c6)" fill="none" stroke-linejoin="miter" stroke-width="1.25">
<path d="M165.5,1388.5 L166.3,1418 L167.2,1424 L168,1426.5h0.5v-4h0.5v4h0.5v-4h0.5v4h2v-4h2v4h0.5v-4h1v4h1v-4h1v4h1v-4h1.5v4h1v-4h2v4h1.5v-4h3.5v4h1.5v-4h1.5v4h0.5v-4h1v4h0.5v-4h0.5v4h0.5v-4h5v4h2.5v-4h2v4h2.5v-4h1.5v4h1v-4h0.5v4h1v-4h1v4h0.5v-4h0.5v4h0.5v-4h0.5v4h5v-4h1v4h0.5v-4h1.5v4h0.5v-4h1.5v4h0.5v-4h2.5v4h1.5v-4h0.5v4h1v-4h0.5v4h1v-4h0.5v4h0.5v-4h3v4h2v-4h3.5v4h0.5v-4h3v4h1v-4h1v4h0.5v-4h1v4h0.5v-4h1v4h0.5v-4h0.5v4h1v-4h1.5v4h2.5v-4h0.5v4h1.5v-4h1v4h3.5v-4h0.5v4h3v-4h3.5v4h0.5v-4h1.5v4h0.5v-4h0.5v4h0.5v-4h2.5v4h1v-4h1.5v4h0.5v-4h0.5v4h1.5v-4h3v4h1v-4h1v4h0.5v-4h4v4h0.5v-4h1.5v4h1.5v-4h1v4h0.5v-4h3.5v4h0.5v-4h3v4h0.5v-4h0.5v4h1v-4h0.5v4h0.5v-4h1v4h1.5v-4h0.5v4h1v-4h2v4h0.5v-4h1v4h1.5v-4h0.5v4h1.5v-4h1.5v4h0.5v-4h0.5v4h0.5v-4h0.5v4h0.5v-4h1.5v4h0.5v-4h0.5v4h0.5v-4h0.5v4h0.5v-4h0.5v4h1.5v-4h1.5v4h1v-4h0.5v4h0.5v-4h1v4h2v-4h1v4h1.5v-4h1.5v4h0.5v-4h1v4h1v-4h1v4h0.5v-4h1v4h1v-4h2.5v4h2.5v-4h1.5v4h0.5v-4h1v4h0.5v-4h1v4h1v-4h0.5v4h0.5v-4h1v4h1v-4h1.5v4h1.5v-4h0.5v4h1v-4h3v4h1v-4h0.5v4h0.5v-4h2.5v4h1v-4h2v4h1v-4h2.5v4h2.5v-4h1v4h0.5v-4h1v4h0.5v-4h0.5v4h1v-4h1.5v4h0.5v-4h1v4h0.5v-4h1v4h1v-4h1v4h0.5v-4h1.5v4h2v-4h2v4h1v-4h3v4h1v-4h1.5v4h0.5v-4h3v4h0.5v-4h1v4h1v-4h1.5v4h0.5v-4h0.5v4h0.5v-4h2v4h0.5v-4h0.5v4h1v-4h3v4h1v-4h2.5v4h6v-4h1v4h2.5v-4h0.5v4h0.5v-4h0.5v4h1v-4h0.5v4h1v-4h1v4h0.5v-4h1v4h1.5v-4h1.5v4h0.5v-4h2.5v4h0.5v-4h0.5v4h0.5v-4h0.5v4h0.5v-4h3v4h1v-4h0.5v4h0.5v-4h1v4h2v-4h0.5v4h1.5v-4h1v4h1v-4h3.5v4h1v-4h0.5v4h0.5v-4h1v4h0.5v-4h2v4h1v-4h0.5v4h1.5v-4h1.5v4h0.5v-4h0.5v4h0.5v-4h2v4h0.5v-4h0.5v4h0.5v-4h2v4h0.5v-4h0.5v4h2v-4h1v4h1v-4h0.5v4h0.5v-4h0.5v4h0.5v-4h1v4h0.5v-4h0.5v4h0.5v-4h1v4h1v-4h0.5v4h2v-4h0.5v4h0.5v-4h1v4h1v-4h1v4h1.5v-4h0.5v4h1v-4h0.5v4h0.5v-4h1.5v4h2.5v-4h4.5v4h2v-4h0.5v4h1v-4h0.5v4h1v-4h0.5v4h1v-4h0.5v4h0.5v-4h2v4h1v-4h1.5v4h1v-4h1v4h0.5v-4h1v4h0.5v-4h1.5v4h1v-4h1.5v4h0.5v-4h4.5v4h0.5v-4h1v4h1v-4h2v4h0.5v-4h2.5v4h1v-4h4v4h1v-4h2v4h0.5v-4h5.5v4h1v-4h1v4h0.5v-4h1.5v4h0.5v-4h3v4h0.5v-4h1v4h0.5v-4h2v4h0.5v-4h1v4h2v-4h1.5v4h1.5v-4h0.5v4h0.5v-4h0.5v4h0.5v-4h1v4h1.5v-4h1v4h0.5v-4h2.5v4h0.5v-4h2v4h0.5v-4h0.5v4h0.5v-4h0.5v4h3v-4h0.5v4h0.5v-4h1v4h2v-4h0.5v4h0.5v-4h2.5v4h0.5v-4h1v4h0.5v-4h1v4h1v-4h0.5v4h0.5v-4h0.5v4h0.5v-4h0.5v4h0.5v-4h1.5v4h0.5v-4h1v4h0.5v-4h0.5v4h0.5v-4h2v4h1.5v-4h0.5v4h0.5v-4h2v4h0.5v-4h1v4h0.5v-4h2v4h1v-4h1v4h0.5v-4h1v4h0.5v-4h1.5v4h2v-4h0.5v4h0.5v-4h1.5v4h2.5v-4h0.5v4h0.5v-4h0.5v4h1.5v-4h2v4h0.5v-4h1.5v4h1v-4h1v4h0.5v-4h0.5v4h1v-4h1.5v4h0.5v-4h2v4h1v-4h6v4h1v-4h1v4h0.5v-4h1.5v4h0.5v-4h0.5v4h4v-4h3.5v4h2v-4h3.5v4h1v-4h1.5v4h0.5v-4h1v4h0.5v-4h0.5v4h1v-4h1v4h1v-4h0.5v4h1v-4h2.5v4h1v-4h3v4h0.5v-4h0.5v4h1v-4h1.5v4h0.5v-4h0.5v4h1v-4h1v4h0.5v-4h1v4h0.5v-4h3.5v4h0.5v-4h1v4h0.5v-4h0.5v4h2v-4h1v4h0.5v-4h1.5v4h1.5v-4h0.5v4h1v-4h1v4h2v-4h0.5v4h1v-4h1v4h1.5v-4h2v4h2v-4h2v4h2v-4h1v4h1v-4h1.5v4h1v-4h0.5v4h0.5v-4h1v4h1v-4h1v4h1v-4h1v4h0.5v-4h1.5v4h1.5v-4h1v4h0.5v-4h3.5v4h0.5v-4h0.5v4h2v-4h0.5v4h0.5v-4h0.5v4h1v-4h0.5v4h1v-4h0.5v4h1.5v-4h1v4h0.5v-4h1v4h1.5v-4h1v4h1v-4h1.5v4h3.5v-4h1v4h0.5v-4h0.5v4h2v-4h0.5v4h0.5v-4h1.5v4h1v-4h0.5v4h1.5v-4h1.5v4h1v-4h0.5v4h0.5v-4h2v4h0.5v-4h1v4h0.5v-4h1v4h1.5v-4h2.5v4h0.5v-4h2.5v4h0.5v-4h0.5v4h0.5v-4h2v4h1v-4h5v4h0.5v-4h1.5v4h0.5v-4h3.5v4h2v-4h0.5v4h0.5v-4h0.5v4h2v-4h0.5v4h1v-4h1.5v4h0.5v-4h2.5v4h0.5v-4h2.5v4h0.5v-4h3v4h0.5v-4h1.5v4h1.5v-4h0.5v4h1v-4h1.5v4h1v-4h1v4h0.5v-4h1v4h1v-4h2.5v4h0.5v-4h2v4h0.5v-4h0.5v4h0.5v-4h0.5v4h1.5v-4h1v4h0.5v-4h1.5v4h0.5v-4h0.5v4h1v-4h2v4h0.5v-4h1.5v4h0.5v-4h4v4h0.5v-4h1v4h1v-4h1.5v4h0.5v-4h1v4h1.5v-4h0.5v4h0.5v-4h0.5v4h0.5v-4h3v4h1.5v-4h0.5v4h0.5v-4h1.5v4h1.5v-4h0.5v4h1v-4h2v4h1.5v-4h1v4h0.5v-4h0.5v4h0.5v-4h1.5v4h0.5v-4h1.5v4h0.5v-4h0.5v4h0.5v-4h1v4h1.5v-4h4.5v4h4.5v-4h1.5v4h2v-4h2.5v4h0.5v-4h0.5v4h0.5v-4h0.5v4h0.5v-4h0.5v4h0.5v-4h0.5v4h0.5v-4h1v4h1.5v-4h0.5v4h0.5v-4h1v4h0.5v-4h0.5v4h1.5v-4h1v4h1v-4h0.5v4h1v-4h0.5v4h1.5v-4h1v4h0.5v-4h1v4h2v-4h1v4h0.5v-4h0.5v4h1v-4h0.5v4h0.5v-4h0.5v4h0.5v-4h3v4h0.5v-4h1.5v4h2v-4h4.5v4h0.5v-4h1.5v4h0.5v-4h3.5v4h0.5v-4h1v4h2.5v-4h1v4h0.5v-4h2v4h1v-4h1v4h0.5v-4h1v4h0.5v-4h2v4h1.5v-4h3.5v4h1v-4h0.5v4h0.5v-4h0.5v4h0.5v-4h3.5v4h1v-4h0.5v4h0.5v-4h0.5v4h1v-4h1v4h2v-4h0.5v4h0.5v-4h1v4h1.5v-4h3.5v4h0.5v-4h1v4h0.5v-4h1.5v4h1v-4h1v4h0.5v-4h0.5v4h1v-4h1v4h0.5v-4h1v4h0.5v-4h0.5v4h1v-4h0.5v4h3v-4h0.5v4h0.5v-4h0.5v4h4.5v-4h3.5v4h0.5v-4h0.5v4h0.5v-4h0.5v4h1.5v-4h0.5v4h1.5v-4h1v4h1v-4h3v4h1v-4h2v4h0.5v-4h2v4h0.5v-4h0.5v4h1v-4h0.5v4h0.5v-4h1.5v4h1v-4h0.5v4h0.5v-4h0.5v4h0.5v-4h0.5v4h0.5v-4h1v4h2v-4h0.5v4h1v-4h0.5v4h0.5v-4h1v4h0.5v-4h1v4h1.5v-4h1.5v4h1v-4h2v4h0.5v-4h1v4h1v-4h1v4h2v-4h0.5v4h1.5v-4h0.5v4h1v-4h1v4h1v-4h2v4h0.5v-4h0.5v4h0.5v-4h0.5v4h0.5v-4h1v4h0.5v-4h4v4h2v-4h0.5v4h0.5v-4h1v4h1v-4h1.5v4h0.5v-4h1v4h1.5v-4h4v4h1v-4h0.5v4h1v-4h2v4h0.5v-4h1.5v4h0.5v-4h0.5v4h0.5v-4h1.5v4h1v-4h4v4h2v-4h2v4h1v-4h4v4h0.5v-4h0.5v4h0.5v-4h0.5v4h0.5v-4h1v4h0.5v-4h1v4h2.5v-4h0.5v4h1v-4h0.5v4h0.5v-4h1v4h1v-4h0.5v4h1v-4h1.5v4h0.5v-4h1v4h1v-4h0.5v4h1v-4h1.5v4h0.5v-4h1.5v4h0.5v-4h1v4h1.5v-4h0.5v4h0.5v-4h0.5v4h2.5v-4h0.5v4h1v-4h0.5v4h1v-4h1v4h1v-4h2.5v4h0.5v-4h0.5v4h1v-4h0.5v4h0.5v-4h0.5v4h1v-4h1v4h0.5v-4h0.5v4h0.5v-4h0.5v4h0.5v-4h2.5v4h1v-4h2.0" stroke="#0000ff"/>
<path d="M165.5,1391.5 L166.0,1448 L167,1391.5 L168,1391.5h316v-8h1v8h1.5v-8h0.5v8h1.5v-8h0.5v8h1.5v-8h0.5v8h1.5v-8h14.5v8h3v-8h4.5v8h1.5v-8h28.5v8h1.5v-8h6.5v8h1.5v-8h2.5v8h1.5v-8h35.5v8h1.5v-8h22.5v8h1.5v-8h10.5v8h1.5v-8h523.5" stroke="#00ffff"/>
<path d="M165.5,1388.5 L166.3,1445 L168,1394.5h0.5v4h0.5v-4h1.5v-4h0.5v4h0.5v12h1v-12h0.5v-4h0.5v8h1.5v-4h1v4h0.5v-4h0.5v4h1v-4h3.5v4h0.5v-4h3.5v4h0.5v-4h1.5v-4h0.5v8h1.5v-4h1v-4h0.5v4h2v-4h0.5v4h0.5v4h1v-4h3v4h1.5v-4h1v4h0.5v-4h1v4h1v-4h0.5v4h0.5v-4h0.5v4h0.5v-4h0.5v4h0.5v-4h0.5v4h1.5v-4h0.5v4h1.5v-4h3.5v4h1v-4h0.5v4h1v-4h0.5v4h1v-4h0.5v4h1.5v-4h5.5v4h1.5v-4h1.5v4h0.5v-4h2.5v4h0.5v-4h2.5v-4h1v4h0.5v4h1v-4h2v4h0.5v-4h1.5v4h0.5v-4h1v4h1.5v-4h1v4h0.5v-4h1.5v4h1.5v-4h1v4h0.5v-4h0.5v4h1v8h0.5v-12h5.5v-4h0.5v4h0.5v4h2v-4h3.5v4h2v-4h0.5v4h2.5v-4h0.5v4h0.5v-4h0.5v-4h0.5v8h1.5v-4h1v4h0.5v-4h6v4h1v-8h0.5v4h0.5v4h0.5v-4h1v4h0.5v-4h6.5v4h0.5v-4h0.5v4h1v-4h3v4h0.5v-4h0.5v12h0.5v-12h0.5v4h1v-4h0.5v4h4.5v-4h1v4h2v-4h0.5v4h1v-4h3.5v4h1v-4h1v4h1v-4h0.5v4h0.5v-4h6.5v4h0.5v-4h1v4h2v-4h3v4h1v-4h0.5v4h2v-4h0.5v4h0.5v-8h0.5v4h2.5v4h0.5v-4h3v4h2.5v-4h0.5v-4h1v8h0.5v-4h1.5v4h1v-4h2.5v4h4.5v-4h0.5v4h1v-4h0.5v4h1v-4h0.5v4h1v-4h3v4h0.5v-4h1v4h1v-4h4.5v4h0.5v-4h1v4h1v-4h3.5v4h1.5v-4h0.5v4h0.5v-4h4.5v4h1.5v-4h2.5v4h0.5v-4h1v4h0.5v-8h0.5v4h2v4h1.5v-4h0.5v4h3v-4h1.5v4h1v-4h1.5v4h0.5v-4h3v4h0.5v-4h1v4h1v-4h0.5v4h0.5v-4h5.5v4h1v-4h0.5v4h1v-4h1.5v4h0.5v-4h3v4h0.5v-4h2v4h0.5v-4h7.5v4h1v-4h1.5v4h0.5v-4h0.5v12h0.5v-12h1v4h1v-4h1v4h0.5v-4h0.5v4h2v8h0.5v-12h1.5v4h0.5v-4h1.5v4h0.5v-4h0.5v4h0.5v-4h1v4h0.5v-4h2.5v4h0.5v-4h1.5v4h1v-4h1v4h1v-4h7v4h0.5v-8h1.5v4h3.5v4h1v-4h0.5v4h0.5v-4h4v4h0.5v-4h0.5v4h0.5v-4h2v4h2v-4h1v4h1v-4h1v4h1v-4h0.5v4h0.5v-4h1v4h0.5v-4h2v4h0.5v-8h0.5v8h1.5v-4h4.5v4h0.5v8h0.5v-12h1v4h1v-4h1.5v-4h0.5v4h0.5v4h1v-4h2v4h0.5v-4h4v4h1v-4h1.5v4h0.5v-4h5v4h0.5v-4h1v4h0.5v-4h1v4h0.5v-4h0.5v4h0.5v-4h0.5v4h0.5v-4h1v4h1v-4h1v4h1.5v-4h0.5v-4h0.5v4h1v4h0.5v-4h0.5v4h0.5v-8h1.5v8h1.5v-4h0.5v4h0.5v-4h3.5v4h0.5v-4h1.5v-4h0.5v4h2v-4h1.5v8h1v-4h2.5v4h0.5v-4h1.5v4h0.5v-4h1.5v4h0.5v-4h1v4h0.5v-4h1v4h1v-4h0.5v4h0.5v-4h2.5v4h0.5v-4h1v4h0.5v-4h3v4h0.5v-4h5v4h0.5v-4h2.5v4h0.5v-4h2v4h0.5v-4h2v4h0.5v-4h0.5v4h2.5v-4h2v4h1v-4h0.5v4h0.5v-4h2v4h0.5v-4h3v4h0.5v-4h2v4h0.5v-4h0.5v4h0.5v-4h0.5v4h0.5v-4h0.5v4h0.5v-4h1v4h3v-4h1.5v4h1v-4h1v12h0.5v-12h2v4h1.5v-4h5v4h1v-8h1v4h5v4h1v-4h4.5v4h0.5v-4h0.5v4h0.5v-4h5v4h1v-4h4v4h0.5v-4h3.5v4h0.5v-8h0.5v8h0.5v-4h1v4h0.5v-4h1v4h1v-4h4.5v4h0.5v-4h0.5v4h1v-4h2.5v4h0.5v-4h1.5v4h4.5v-4h1v4h1.5v-4h0.5v4h1v-4h0.5v4h0.5v-4h1v4h2.5v-4h3.5v4h2.5v-8h0.5v8h1v-4h0.5v4h1.5v-4h0.5v4h1.5v-4h1v4h1.5v-4h0.5v4h0.5v-4h0.5v12h0.5v-12h0.5v4h1v-4h0.5v4h2v-4h5v4h1v-4h3.5v4h3v-4h1.5v4h2v-4h0.5v4h0.5v-4h0.5v-4h0.5v4h3v4h2v-4h1.5v4h1v-4h2.5v4h1.5v-4h0.5v4h1.5v-4h0.5v4h2.5v-4h4.5v4h1v-4h2v4h1v-4h2v4h1v-4h1v4h0.5v-4h2.5v4h1v-4h2v4h0.5v-4h0.5v4h1v-4h3v4h0.5v-4h2v4h2.5v-4h1v4h1.5v-4h4v-4h1v8h0.5v-4h2.5v4h0.5v-4h1v4h1.5v-4h3.5v4h2v-4h0.5v4h0.5v-8h0.5v8h2v-4h1v4h0.5v-4h2v4h1.5v-4h2.5v-4h0.5v8h1v-4h0.5v4h1v-4h2v4h0.5v-4h4v4h2v-4h2.5v4h0.5v-4h0.5v-4h0.5v8h0.5v-4h1v4h1v-4h0.5v4h0.5v-4h1v4h0.5v-4h0.5v4h0.5v-4h1v4h1v-4h0.5v4h0.5v-4h0.5v4h1.5v-4h0.5v4h1v-4h1v4h0.5v-4h1v4h0.5v-4h0.5v4h4v-8h0.5v4h3v4h0.5v-4h1v4h0.5v-4h1v4h1v-4h2v4h2v-4h2.5v4h1.5v8h0.5v-12h0.5v4h1v8h0.5v-12h6v-4h1.5v4h1.5v4h0.5v-4h1.5v4h0.5v-4h0.5v12h0.5v-8h0.5v-4h2v4h1v-4h5v4h0.5v-8h0.5v8h0.5v-4h1.5v4h2v-8h1v8h1v-4h2.5v4h0.5v-4h0.5v4h0.5v-8h0.5v8h1.5v-4h1.5v4h0.5v-4h3.5v4h3v-4h5.5v4h0.5v-4h0.5v4h1v-4h1.5v4h2.5v-4h0.5v4h1.5v-4h4v4h1v-4h1.5v4h2.5v8h1.5v-12h3.5v4h1v-4h0.5v4h1.5v-4h1.5v4h0.5v-4h1v4h1v-4h1.5v4h1v-4h0.5v-4h0.5v8h0.5v-4h2.5v4h0.5v-4h2v4h0.5v-4h2.5v4h0.5v-4h0.5v4h1.5v-8h1v4h0.5v-4h0.5v4h2v4h1v-4h0.5v4h0.5v-4h5v4h1.5v-4h0.5v-4h0.5v4h4v4h0.5v-4h2v4h1.5v-4h2v4h3v-4h3.5v12h0.5v-8h0.5v-4h0.5v-4h0.5v4h1v4h1.5v-4h9.5v4h0.5v-4h2.5v4h0.5v-4h2v-4h2.5v4h0.5v4h0.5v-4h6.5v-4h0.5v8h1v-4h3v4h0.5v8h1v-12h0.5v4h2.5v-4h1v4h1v-4h1v4h0.5v-4h0.5v4h2v-4h3v4h2v-4h0.5v4h0.5v-4h0.5v-4h0.5v8h1.5v-4h2.5v4h1v-4h2.5v4h0.5v-4h1v4h0.5v8h0.5v-12h2v4h0.5v-4h1v4h4v8h1.5v-12h5v4h3.5v8h0.5v-8h0.5v8h0.5v-12h0.5v4h2.5v-4h3v4h0.5v-4h1v4h0.5v-4h1.5v-4h0.5v4h0.5v4h0.5v-4h3.5v4h0.5v-4h2.5v4h2v-4h0.5v4h1.5v-4h3.5v4h0.5v-4h1v4h0.5v-4h1v12h0.5v-8h0.5v-4h3.5v4h1.5v-4h9.5v4h5v-4h1v4h1.5v-4h1v4h1.5v-8h0.5v16h0.5v-8h2v-4h1v4h1v-4h3.5v4h0.5v-4h0.5v4h1v-4h3v4h0.5v-4h3.5v4h0.5v-4h1v4h0.5v-4h0.5v4h1.5v-4h3v4h1v-4h1v4h1v-4h2v4h0.5v-8h0.5v4h1v4h1v-4h0.5v4h2v-4h0.5v4h1v-4h1.5v4h0.5v-4h3v4h0.5v-4h1.5v4h0.5v-4h1.5v-4h0.5v4h1.5v4h0.5v-4h5.5v4h0.5v-4h3v-4h0.5v4h0.5v4h1v-4h1v4h0.5v-4h1v4h0.5v-8h0.5v4h1.5v4h0.5v-4h1v4h0.5v-4" stroke="#00ff00"/>
<path d="M165.5,1388.5 L166.2,1450 L168.5,1399.5h0.5v4h0.5v-8h0.5v8h0.5v-4h0.5v4h0.5v-8h0.5v12h0.5v-12h0.5v8h0.5v-4h1.5v4h1v-4h0.5v8h0.5v-8h0.5v-4h0.5v4h0.5v-4h0.5v12h0.5v-12h0.5v8h0.5v4h0.5v-12h0.5v12h0.5v-16h0.5v4h0.5v12h1v-4h0.5v-8h1v12h0.5v-8h1.5v8h1v-4h0.5v-8h1v4h0.5v8h0.5v-16h0.5v8h0.5v4h0.5v-8h1v8h0.5v-8h0.5v4h0.5v4h0.5v4h1v-4h0.5v-8h0.5v12h0.5v-8h0.5v-4h0.5v12h0.5v-4h1.5v-4h0.5v4h1v4h1v-4h0.5v-8h0.5v8h1.5v-4h1v-4h0.5v4h0.5v-4h0.5v12h0.5v-12h0.5v4h0.5v-4h0.5v4h2v4h0.5v-4h1v8h1v-8h0.5v4h0.5v-12h0.5v8h0.5v4h0.5v4h0.5v-8h0.5v8h1v-4h1v-8h0.5v12h0.5v-12h0.5v8h0.5v-8h0.5v4h0.5v4h0.5v4h0.5v-8h0.5v8h0.5v-12h0.5v12h0.5v9h0.5v-17h0.5v8h1v-4h0.5v4h0.5v-4h0.5v4h0.5v9h0.5v-21h1v-4h0.5v4h1.5v8h0.5v4h0.5v-8h0.5v-4h0.5v8h0.5v4h0.5v-4h0.5v-12h0.5v8h0.5v-4h0.5v-4h0.5v12h0.5v-8h0.5v4h0.5v4h0.5v4h0.5v-4h1.5v4h0.5v-16h0.5v4h0.5v8h1.5v-4h0.5v4h0.5v-4h0.5v-8h0.5v12h0.5v4h0.5v-8h0.5v4h1v4h0.5v-4h0.5v-4h1v4h1v-4h0.5v8h0.5v-12h0.5v8h1v-4h0.5v-4h2v4h1v4h0.5v-8h0.5v4h0.5v8h0.5v-12h1v4h1v-8h0.5v16h0.5v-12h0.5v4h0.5v-8h0.5v4h0.5v12h1v-8h0.5v-8h0.5v8h1v4h0.5v4h1v-12h0.5v4h0.5v-8h0.5v8h0.5v8h1v-8h1.5v4h0.5v-4h0.5v-4h0.5v12h0.5v-8h0.5v-8h0.5v16h0.5v-8h0.5v4h0.5v-4h0.5v-8h0.5v8h0.5v4h0.5v-12h1v8h0.5v4h0.5v-8h1v4h0.5v-4h0.5v4h1.5v-8h0.5v8h0.5v8h0.5v-16h0.5v4h0.5v-4h0.5v12h0.5v-8h0.5v4h0.5v-8h0.5v16h0.5v-16h0.5v12h0.5v-8h0.5v12h0.5v-8h0.5v-4h0.5v8h0.5v-4h0.5v8h0.5v-8h1.5v-8h0.5v4h0.5v4h0.5v4h0.5v-12h1.5v8h0.5v-8h0.5v8h0.5v8h0.5v-12h0.5v8h0.5v-12h0.5v4h0.5v12h0.5v-8h0.5v-8h0.5v16h1v-12h0.5v12h0.5v-16h0.5v4h1v-4h1v16h0.5v-12h0.5v4h1v-4h0.5v4h0.5v-4h0.5v12h0.5v-12h0.5v4h0.5v8h0.5v-8h0.5v-4h1v4h0.5v4h0.5v-4h0.5v8h0.5v-8h1v-8h1v8h0.5v-8h1v4h0.5v8h0.5v-4h0.5v-4h0.5v12h1v-8h0.5v8h1v-12h1v4h0.5v-4h0.5v12h1v-8h0.5v4h0.5v13h0.5v-21h2v-4h0.5v16h0.5v-12h0.5v4h0.5v-8h0.5v8h0.5v-4h0.5v12h1v-12h1.5v12h0.5v-4h0.5v-4h0.5v-4h0.5v12h0.5v-8h0.5v-4h0.5v4h0.5v8h0.5v-12h0.5v4h1v4h0.5v4h0.5v-16h0.5v12h0.5v-4h0.5v-4h1v8h0.5v4h0.5v-8h0.5v-8h1v16h0.5v-8h0.5v-4h0.5v12h0.5v-8h0.5v-4h0.5v8h0.5v-8h1.5v4h0.5v4h0.5v-4h3v-8h1v8h0.5v-8h0.5v4h0.5v8h0.5v-4h0.5v8h0.5v-4h0.5v-12h0.5v8h0.5v-4h0.5v12h1.5v-8h1v-8h0.5v16h0.5v-8h0.5v-8h0.5v8h1v-4h1v4h0.5v4h0.5v-12h0.5v8h0.5v8h0.5v-12h0.5v4h1v-4h0.5v8h0.5v-8h0.5v-4h1v12h0.5v-12h0.5v4h0.5v4h0.5v-8h0.5v8h0.5v-4h0.5v8h0.5v4h0.5v-12h0.5v-4h0.5v16h0.5v-4h0.5v-4h0.5v8h0.5v-16h0.5v8h0.5v-8h0.5v12h0.5v-8h0.5v4h0.5v8h1v-12h0.5v8h1v-4h1v8h0.5v-16h0.5v4h1v4h0.5v-4h0.5v-4h0.5v4h0.5v-4h0.5v8h0.5v8h1v-12h0.5v8h0.5v4h0.5v-12h0.5v21h0.5v-25h0.5v16h0.5v-12h0.5v4h0.5v-8h1v4h0.5v12h0.5v-16h0.5v4h0.5v4h0.5v-8h0.5v8h0.5v8h0.5v-8h0.5v8h0.5v-8h1.5v-4h0.5v12h0.5v-4h0.5v-4h1v-8h1v12h1v-12h0.5v4h0.5v8h0.5v-8h0.5v12h0.5v-8h0.5v-4h0.5v8h0.5v-4h0.5v17h0.5v-21h1v4h0.5v-4h2.5v-4h0.5v4h1.5v4h0.5v-8h1.5v16h0.5v-8h0.5v-4h0.5v4h0.5v-4h0.5v-4h0.5v4h1v4h0.5v-4h1.5v4h0.5v-8h0.5v16h0.5v-16h1v4h0.5v4h0.5v-8h1v8h0.5v-8h0.5v8h1v-8h0.5v16h0.5v-16h0.5v8h1v-8h0.5v4h0.5v4h0.5v-4h0.5v-4h0.5v12h0.5v-12h0.5v8h0.5v-4h0.5v4h0.5v-4h0.5v-4h0.5v8h0.5v-4h1v12h0.5v-8h0.5v-4h0.5v-4h3.5v4h1.5v4h0.5v-8h0.5v8h0.5v-4h0.5v-4h1v8h1v-4h0.5v-4h0.5v4h0.5v-4h0.5v4h0.5v-12h0.5v12h0.5v4h0.5v-4h1v-4h0.5v8h0.5v-8h0.5v4h0.5v4h0.5v-8h1v4h0.5v-4h0.5v4h0.5v-4h0.5v4h0.5v-4h0.5v4h1v-4h0.5v4h0.5v12h0.5v-8h0.5v8h0.5v-12h0.5v-4h0.5v4h0.5v-4h0.5v8h0.5v-4h2v4h1.5v-4h0.5v4h1v-8h0.5v4h1.5v4h1v-4h0.5v4h0.5v-8h1v4h1v4h1v-8h0.5v16h0.5v-16h1v8h0.5v-8h1v8h0.5v-4h0.5v4h0.5v-8h1v8h1v-4h0.5v-4h0.5v4h1v4h1v-16h0.5v16h0.5v8h0.5v-16h0.5v8h0.5v-8h0.5v4h0.5v-4h0.5v8h0.5v-16h0.5v16h1v-8h2v8h1v-8h0.5v8h0.5v-8h0.5v4h1.5v4h1.5v-4h0.5v-4h1v8h0.5v8h0.5v-16h0.5v4h0.5v4h0.5v-8h0.5v16h0.5v-16h1v8h0.5v-8h0.5v16h0.5v-12h0.5v4h0.5v-4h0.5v-4h0.5v4h0.5v-4h1v8h1v-4h0.5v-4h0.5v4h0.5v4h0.5v-4h1v-4h0.5v4h0.5v-4h0.5v4h1v-4h0.5v8h1v-4h1.5v12h0.5v-8h1v-8h0.5v4h0.5v-4h0.5v4h1v4h1.5v-8h0.5v4h0.5v-4h0.5v4h1.5v-4h0.5v4h0.5v-4h0.5v8h0.5v-4h0.5v-4h0.5v4h0.5v4h1v-4h1v12h0.5v-12h0.5v-4h0.5v8h0.5v8h0.5v-16h0.5v8h0.5v-4h0.5v-4h1v8h0.5v-4h0.5v-4h2v16h0.5v-12h1v12h0.5v-24h0.5v8h0.5v8h0.5v-4h0.5v-4h1v4h0.5v4h0.5v-4h0.5v4h0.5v-4h1v4h1v-8h0.5v16h0.5v-12h1v4h1.5v8h0.5v-8h0.5v8h0.5v-12h0.5v-4h1v8h0.5v-4h0.5v4h0.5v-4h0.5v4h0.5v8h0.5v-12h1v-4h0.5v8h1v-16h0.5v8h0.5v-8h0.5v16h0.5v-8h1v4h0.5v-4h1v4h0.5v-4h0.5v16h0.5v-12h0.5v-4h1v-8h0.5v8h0.5v16h1v-16h0.5v8h1v-8h0.5v4h0.5v-4h0.5v4h0.5v4h0.5v-8h0.5v8h1v-8h0.5v4h0.5v-4h0.5v4h0.5v-4h0.5v4h1v-4h0.5v4h1v12h0.5v-12h0.5v4h0.5v-8h1v8h0.5v-8h0.5v4h0.5v4h0.5v4h0.5v-4h1v-4h1.5v4h0.5v-8h0.5v8h0.5v-8h1v4h1v-4h0.5v8h1v-4h0.5v4h0.5v-8h1v8h0.5v-8h0.5v4h0.5v-4h0.5v8h0.5v-8h0.5v8h0.5v-8h0.5v8h0.5v-8h2v8h0.5v-8h1v8h0.5v-8h0.5v16h0.5v-12h0.5v8h0.5v-4h1.5v-4h2v4h0.5v-4h0.5v12h0.5v-8h1v-4h0.5v-4h0.5v8h0.5v-8h0.5v4h1v4h1.5v-8h1v4h1v4h0.5v-4h0.5v4h0.5v-8h0.5v4h0.5v-4h1.5v4h0.5v-4h0.5v4h0.5v12h0.5v-8h0.5v-4h1v-4h1.5v8h0.5v-8h0.5v4h0.5v4h0.5v-4h0.5v4h0.5v-16h0.5v12h0.5v4h0.5v-4h0.5v12h0.5v-16h0.5v4h0.5v4h2v-8h2.5v8h0.5v-4h0.5v-4h0.5v8h0.5v-4h1.5v4h0.5v-8h1v8h1v-8h0.5v8h0.5v-8h0.5v4h1v-4h0.5v8h1v-8h0.5v16h0.5v-8h1v-8h0.5v4h0.5v12h0.5v-8h0.5v-4h0.5v-4h0.5v4h0.5v-4h0.5v4h0.5v4h1.5v-4h1v4h0.5v-4h0.5v4h0.5v-8h0.5v4h1v-4h0.5v16h0.5v-16h0.5v-8h0.5v12h0.5v4h0.5v-8h0.5v8h0.5v-8h0.5v4h0.5v4h0.5v-8h0.5v4h0.5v4h1.5v-4h1v-4h0.5v4h1v4h0.5v-4h0.5v12h0.5v-8h0.5v4h0.5v-8h1v-4h1v4h1.5v4h0.5v-4h0.5v4h0.5v-4h0.5v4h1v-4h1v12h0.5v-16h0.5v4h1v4h0.5v-8h1v4h2v-4h0.5v8h0.5v-8h1v4h1v-4h1v4h0.5v-4h0.5v8h0.5v-4h1v12h0.5v-12h1.5v-4h0.5v4h0.5v12h0.5v-12h0.5v4h0.5v-8h0.5v4h0.5v8h0.5v4h0.5v-16h0.5v4h1v4h0.5v8h1v-8h0.5v-8h0.5v8h0.5v-4h0.5v8h0.5v-12h1v8h0.5v-4h2v4h0.5v-4h1v-4h1.5v4h1v-4h1v4h0.5v8h0.5v-8h0.5v-4h0.5v4h1v-4h1v16h0.5v-8h1v-8h0.5v4h0.5v-4h0.5v4h0.5v-4h0.5v4h1.5v-4h0.5v8h0.5v-8h0.5v8h1v8h0.5v-8h0.5v-4h0.5v-4h0.5v8h1v-8h0.5v16h0.5v-16h0.5v4h1v4h0.5v-8h1v4h0.5v-4h1v4h0.5v-4h0.5v8h0.5v-8h0.5v8h0.5v-4h1v4h1.5v-4h1v-4h0.5v4h0.5v-4h0.5v4h0.5v-4h1v4h0.5v-4h0.5v4h0.5v-4h0.5v8h1.5v-4h1v4h0.5v8h0.5v-12h0.5v8h0.5v-4h0.5v-4h0.5v-4h0.5v4h0.5v4h0.5v-8h0.5v8h0.5v-8h0.5v4h1v-4h1.5v8h0.5v-4h0.5v12h1v-16h1v4h1v-4h0.5v4h0.5v4h0.5v-8h0.5v4h0.5v4h1.5v-4h1v4h0.5v-4h1v-4h0.5v4h0.5v4h0.5v-4h0.5v4h0.5v8h0.5v-8h0.5v-4h0.5v12h0.5v-16h0.5v8h0.5v-8h0.5v8h0.5v-8h1v8h0.5v-4h0.5v4h0.5v-4h0.5v-4h0.5v4h1.5v-4h0.5v16h0.5v-16h1v4h0.5v4h0.5v-4h0.5v4h0.5v-4h1v-4h1v16h0.5v-16h1.5v8h1v8h0.5v-16h0.5v16h0.5v-16h2v4h0.5v4h1.5v-4h1v-4h0.5v4h1v4h0.5v-4h0.5v4h0.5v-16h0.5v16h1v-4h0.5v-4h1.5v4h0.5v12h0.5v-8h0.5v-4h1.5v-4h0.5v8h0.5v-8h0.5v8h0.5v-8h1v8h1v-4h0.5v4h1v8h0.5v-8h1v-4h1.5v-4h0.5v4h0.5v12h1v-16h0.5v8h1.5v-16h0.5v8h0.5v8h0.5v-8h1v4h0.5v4h0.5v-4h0.5v4h0.5v-8h0.5v4h0.5v-4h0.5v8h0.5v-8h0.5v4h0.5v12h0.5v-16h1v8h0.5v-4h0.5v4h0.5v4h0.5v-4h0.5v-8h0.5v4h1.5v-4h0.5v4h0.5v-4h0.5v8h1.5v-8h0.5v8h0.5v-8h1v8h0.5v-8h0.5v4h1v-4h0.5v8h0.5v-4h0.5v4h0.5v-4h2v-4h0.5v4h0.5v4h0.5v-8h1v4h0.5v4h0.5v-8h1v8h0.5v8h0.5v-8h1v-4h1v4h2v8h0.5v-12h0.5v-4h0.5v8h0.5v-4h0.5v4h0.5v-8h0.5v8h1v-4h0.5v4h0.5v-4h0.5v4h0.5v4h0.5v-12h0.5v4h0.5v4h1v-4h0.5v-4h1v4h0.5v4h0.5v-4h1v4h0.5v-4h0.5v4h1.5v-4h0.5v-4h0.5v8h0.5v8h0.5v-8h0.5v-8h0.5v8h0.5v-4h0.5v4h0.5v-8h0.5v4h0.5v4h1v-4h0.5v4h0.5v-8h0.5v4h0.5v-4h0.5v4h2v-4h0.5v4h1v4h0.5v-4h0.5v12h0.5v-16h1v4h0.5v-4h1v4h1v4h0.5v-4h0.5v-4h2v8h0.5v-4h0.5v4h1v8h0.5v-8h0.5v-8h0.5v4h1v4h0.5v-4h0.5v4h1.5v-8h1v8h0.5v-4h0.5v-4h1.5v8h0.5v-8h2v8h0.5v-4h0.5v4h0.5v-8h0.5v4h1v-4h0.5v4h0.5v4h0.5v-8h0.5v-8h0.5v16h0.5v8h0.5v-16h0.5v8h0.5v-8h0.5v4h0.5v4h0.5v-4h0.5v-4h1v8h0.5v-8h0.5v4h1.5v-4h1v4h0.5v4h1v-8h1v8h1v-4h0.5v-4h1v4h0.5v4h1.5v8h0.5v-12h0.5v4h2v-8h0.5v8h0.5v-8h0.5v8h1v-4h0.5v-4h0.5v8h1v-4h3v12h0.5v-8h1v-4h1v4h0.5v-4h0.5v4h1v-4h0.5v-12h0.5v8h0.5v4h0.5v-4h0.5v4h0.5v-4h1v8h0.5v-8h1.5v8h0.5v8h0.5v-16h0.5v8h0.5v-4h1v4h1v-8h0.5v16h0.5v-16h0.5v4h0.5v4h0.5v-8h1v8h0.5v-4h0.5v-4h1v8h1v-4h1v-4h0.5v4h0.5v-4h0.5v4h0.5v4h0.5v-4h1v12h0.5v-8h0.5v-4h0.5v-4h0.5v4h0.5v-4h1v4h1v-4h0.5v4h1v4h0.5v-4h0.5v4h1v-4h0.5v12h0.5v-12h0.5v4h0.5v-8h0.5v4h0.5v4h0.5v-8h0.5v4h1.5v-4h0.5v16h0.5v-12h0.5v-4h1v4h0.5v4h0.5v8h0.5v-8h0.5v-4h1v4h0.5v-8h0.5v4h0.5v-4h1v4h1v-4h1.5v4h0.5v-4h0.5v8h0.5v-4h1v4h0.5v-8h0.5v8h0.5v-8h0.5v4h1v-4h1v8h1v-8h0.5v-8h0.5v8h0.5v4h0.5v-4h0.5v8h1v-8h0.5v4h1v4h0.5v-8h1v8h0.5v-4h1v-4h1v16h0.5v-8h0.5v-4h0.5v-12h0.5v16h0.5v-8h0.5v4h1v12h0.5v-8h0.5v-4h1v12h0.5v-16h1.5v8h1.5v-4h1v-4h0.5v4h0.5v4h0.5v-4h1v-4h1v4h0.5v12h0.5v-12h2v4h1.5v-8h0.5v4h0.5v-4h0.5v4h0.5v4h1v-4h0.5v4h0.5v-8h0.5v8h0.5v8h0.5v-16h1v4h2v12h0.5v-8h1.5v-8h0.5v4h0.5v-4h0.5v4h0.5v4h0.5v-4h0.5v-4h0.5v8h1v-4h0.5v-4h0.5v8h0.5v-8h0.5v16h0.5v-8h0.5v-8h1.5v8h1v-8h1.5v16h0.5v-8h0.5v-8h0.5v4h1v-4h0.5v4h0.5v-4h0.5v16h0.5v-12h1v-4h1v4h1v4h0.5v8h0.5v-8h1v-4h1.5v-4h1v8h0.5v-4h0.5v4h0.5v-4h0.5v4h0.5v-8h0.5v4h0.5v4h0.5v-4h1v4h0.5v-4h0.5v-12h0.5v8h1v4h0.5v-4h1v4h0.5v4h1.5v-8h0.5v8h1v-8h1v16h0.5v-12h0.5v-4h0.5v8h0.5v-4h0.5v4h0.5v-8h0.5v4h0.5v4h0.5v-8h0.5v8h0.5v-4h0.5v-4h0.5v8h0.5v-16h0.5v12h1v-4h1v4h1.5v4h1v8h0.5v-16h0.5v4h0.5v4h0.5v-4h0.5v12h0.5v-16h0.5v4h0.5v4h0.5v-8h0.5v4h0.5v12h0.5v-8h0.5v8h0.5v-16h1v12h0.5v-4h1v-4h1v-4h1v8h0.5v-4h0.5v12h0.5v-12h0.5v4h1v8h0.5v-8h0.5v-8h0.5v8h0.5v8h0.5v-12h0.5v-4h0.5v4h1v-4h0.5v4h1v-4h2v8h0.5v-4h0.5v4h1v-8h0.5v4h1v4h0.5v-4h1.5v4h0.5v-8h0.5v8h1.5v-4h0.5v4h0.5v-4h0.5v-4h1v8h0.5v-8h0.5v8h0.5v-4h1.5v4h0.5v-4h1v-4h0.5v4h0.5v4h0.5v-4h1v-4h0.5v4h0.5v4h0.5v-4h1v-4h0.5v8h0.5v-8h0.5v4h1v4h0.5v8h0.5v-12h0.5v4h0.5v-4h0.5v4h0.5v-4h0.5v4h1.5v-8h0.5v4h1v-4h1v12h0.5v-8h0.5v-4h0.5v4h1v4h0.5v-4h0.5v4h0.5v-4h0.5v12h0.5v-12h0.5v4h0.5v-8h1v8h0.5v-8h0.5v8" stroke="#ffff00" stroke-width="1.6"/>
</g>
<rect x="165.5" y="1306.5" width="989" height="163" fill="none" stroke="#262626" stroke-width="1"/>
<line x1="412.50" y1="1306.50" x2="412.50" y2="1316.50" stroke="#262626" stroke-width="1"/>
<line x1="412.50" y1="1469.50" x2="412.50" y2="1459.50" stroke="#262626" stroke-width="1"/>
<line x1="659.50" y1="1306.50" x2="659.50" y2="1316.50" stroke="#262626" stroke-width="1"/>
<line x1="659.50" y1="1469.50" x2="659.50" y2="1459.50" stroke="#262626" stroke-width="1"/>
<line x1="907.50" y1="1306.50" x2="907.50" y2="1316.50" stroke="#262626" stroke-width="1"/>
<line x1="907.50" y1="1469.50" x2="907.50" y2="1459.50" stroke="#262626" stroke-width="1"/>
<line x1="165.50" y1="1387.50" x2="175.50" y2="1387.50" stroke="#262626" stroke-width="1"/>
<line x1="1154.50" y1="1387.50" x2="1144.50" y2="1387.50" stroke="#262626" stroke-width="1"/>
<text x="116.24" y="1312.10" font-family="Liberation Sans, sans-serif" font-size="22.39" fill="#262626" textLength="39.76" lengthAdjust="spacingAndGlyphs">100</text>
<text x="142.75" y="1393.50" font-family="Liberation Sans, sans-serif" font-size="22.39" fill="#262626" textLength="13.25" lengthAdjust="spacingAndGlyphs">0</text>
<text x="108.72" y="1475.10" font-family="Liberation Sans, sans-serif" font-size="22.39" fill="#262626" textLength="47.28" lengthAdjust="spacingAndGlyphs">-100</text>
<text x="72.40" y="1428.27" font-family="Liberation Sans, sans-serif" font-size="19.59" font-weight="bold" fill="#262626" textLength="80.55" lengthAdjust="spacingAndGlyphs" transform="rotate(-90 72.40 1428.27)">Voltage</text>
<text x="98.50" y="1413.59" font-family="Liberation Sans, sans-serif" font-size="19.59" font-weight="bold" fill="#262626" textLength="51.19" lengthAdjust="spacingAndGlyphs" transform="rotate(-90 98.50 1413.59)">(mV)</text>
<text x="1170.00" y="1438.50" font-family="Liberation Sans, sans-serif" font-size="15.24" font-weight="bold" fill="#000000" textLength="63.72" lengthAdjust="spacingAndGlyphs" transform="rotate(-90 1170.00 1438.50)">Inboard</text>
<text x="1170.00" y="1369.70" font-family="Liberation Sans, sans-serif" font-size="15.24" font-weight="bold" fill="#000000" textLength="56.33" lengthAdjust="spacingAndGlyphs" transform="rotate(-90 1170.00 1369.70)">VMon1</text>
<text x="1181.80" y="1438.50" font-family="Liberation Sans, sans-serif" font-size="15.24" font-weight="bold" fill="#000000" textLength="63.72" lengthAdjust="spacingAndGlyphs" transform="rotate(-90 1181.80 1438.50)">Inboard</text>
<text x="1181.80" y="1369.70" font-family="Liberation Sans, sans-serif" font-size="15.24" font-weight="bold" fill="#000000" textLength="56.33" lengthAdjust="spacingAndGlyphs" transform="rotate(-90 1181.80 1369.70)">VMon2</text>
<text x="1193.60" y="1447.00" font-family="Liberation Sans, sans-serif" font-size="15.24" font-weight="bold" fill="#000000" textLength="77.66" lengthAdjust="spacingAndGlyphs" transform="rotate(-90 1193.60 1447.00)">Outboard</text>
<text x="1193.60" y="1364.26" font-family="Liberation Sans, sans-serif" font-size="15.24" font-weight="bold" fill="#000000" textLength="56.33" lengthAdjust="spacingAndGlyphs" transform="rotate(-90 1193.60 1364.26)">VMon1</text>
<text x="1205.20" y="1447.00" font-family="Liberation Sans, sans-serif" font-size="15.24" font-weight="bold" fill="#000000" textLength="77.66" lengthAdjust="spacingAndGlyphs" transform="rotate(-90 1205.20 1447.00)">Outboard</text>
<text x="1205.20" y="1364.26" font-family="Liberation Sans, sans-serif" font-size="15.24" font-weight="bold" fill="#000000" textLength="56.33" lengthAdjust="spacingAndGlyphs" transform="rotate(-90 1205.20 1364.26)">VMon2</text>
<line x1="1168" y1="1462" x2="1168" y2="1477.9" stroke="#0000ff" stroke-width="1.6"/>
<line x1="1180" y1="1462" x2="1180" y2="1477.9" stroke="#00ffff" stroke-width="1.6"/>
<line x1="1191.8" y1="1462" x2="1191.8" y2="1477.9" stroke="#00ff00" stroke-width="1.6"/>
<line x1="1203" y1="1462" x2="1203" y2="1477.9" stroke="#ffff00" stroke-width="1.6"/>
<text x="41.60" y="1498.80" font-family="Liberation Sans, sans-serif" font-size="15.24" font-weight="bold" fill="#000000" textLength="45.86" lengthAdjust="spacingAndGlyphs">Time:</text>
<text x="128.93" y="1498.80" font-family="Liberation Sans, sans-serif" font-size="15.24" font-weight="bold" fill="#000000" textLength="72.53" lengthAdjust="spacingAndGlyphs">23:09:47</text>
<text x="376.13" y="1498.80" font-family="Liberation Sans, sans-serif" font-size="15.24" font-weight="bold" fill="#000000" textLength="72.53" lengthAdjust="spacingAndGlyphs">23:17:50</text>
<text x="623.43" y="1498.80" font-family="Liberation Sans, sans-serif" font-size="15.24" font-weight="bold" fill="#000000" textLength="72.53" lengthAdjust="spacingAndGlyphs">23:25:53</text>
<text x="870.63" y="1498.80" font-family="Liberation Sans, sans-serif" font-size="15.24" font-weight="bold" fill="#000000" textLength="72.53" lengthAdjust="spacingAndGlyphs">23:33:56</text>
<text x="1117.93" y="1498.80" font-family="Liberation Sans, sans-serif" font-size="15.24" font-weight="bold" fill="#000000" textLength="72.53" lengthAdjust="spacingAndGlyphs">23:41:59</text>
<text x="41.60" y="1519.73" font-family="Liberation Sans, sans-serif" font-size="15.24" font-weight="bold" fill="#000000" textLength="75.55" lengthAdjust="spacingAndGlyphs">Rad(km):</text>
<text x="137.07" y="1519.73" font-family="Liberation Sans, sans-serif" font-size="15.24" font-weight="bold" fill="#000000" textLength="56.26" lengthAdjust="spacingAndGlyphs">7625.2</text>
<text x="384.27" y="1519.73" font-family="Liberation Sans, sans-serif" font-size="15.24" font-weight="bold" fill="#000000" textLength="56.26" lengthAdjust="spacingAndGlyphs">7625.4</text>
<text x="631.57" y="1519.73" font-family="Liberation Sans, sans-serif" font-size="15.24" font-weight="bold" fill="#000000" textLength="56.26" lengthAdjust="spacingAndGlyphs">7526.8</text>
<text x="878.77" y="1519.73" font-family="Liberation Sans, sans-serif" font-size="15.24" font-weight="bold" fill="#000000" textLength="56.26" lengthAdjust="spacingAndGlyphs">7346.7</text>
<text x="1126.07" y="1519.73" font-family="Liberation Sans, sans-serif" font-size="15.24" font-weight="bold" fill="#000000" textLength="56.26" lengthAdjust="spacingAndGlyphs">7120.3</text>
<text x="41.60" y="1540.66" font-family="Liberation Sans, sans-serif" font-size="15.24" font-weight="bold" fill="#000000" textLength="31.93" lengthAdjust="spacingAndGlyphs">Lat:</text>
<text x="147.21" y="1540.66" font-family="Liberation Sans, sans-serif" font-size="15.24" font-weight="bold" fill="#000000" textLength="35.97" lengthAdjust="spacingAndGlyphs">57.3</text>
<text x="394.41" y="1540.66" font-family="Liberation Sans, sans-serif" font-size="15.24" font-weight="bold" fill="#000000" textLength="35.97" lengthAdjust="spacingAndGlyphs">79.0</text>
<text x="641.71" y="1540.66" font-family="Liberation Sans, sans-serif" font-size="15.24" font-weight="bold" fill="#000000" textLength="35.97" lengthAdjust="spacingAndGlyphs">68.6</text>
<text x="888.91" y="1540.66" font-family="Liberation Sans, sans-serif" font-size="15.24" font-weight="bold" fill="#000000" textLength="35.97" lengthAdjust="spacingAndGlyphs">43.2</text>
<text x="1136.21" y="1540.66" font-family="Liberation Sans, sans-serif" font-size="15.24" font-weight="bold" fill="#000000" textLength="35.97" lengthAdjust="spacingAndGlyphs">15.5</text>
<text x="41.60" y="1561.59" font-family="Liberation Sans, sans-serif" font-size="15.24" font-weight="bold" fill="#000000" textLength="35.52" lengthAdjust="spacingAndGlyphs">Lon:</text>
<text x="147.21" y="1561.59" font-family="Liberation Sans, sans-serif" font-size="15.24" font-weight="bold" fill="#000000" textLength="35.97" lengthAdjust="spacingAndGlyphs">39.6</text>
<text x="394.41" y="1561.59" font-family="Liberation Sans, sans-serif" font-size="15.24" font-weight="bold" fill="#000000" textLength="35.97" lengthAdjust="spacingAndGlyphs">78.5</text>
<text x="636.64" y="1561.59" font-family="Liberation Sans, sans-serif" font-size="15.24" font-weight="bold" fill="#000000" textLength="46.12" lengthAdjust="spacingAndGlyphs">177.2</text>
<text x="880.81" y="1561.59" font-family="Liberation Sans, sans-serif" font-size="15.24" font-weight="bold" fill="#000000" textLength="52.17" lengthAdjust="spacingAndGlyphs">-169.4</text>
<text x="1128.11" y="1561.59" font-family="Liberation Sans, sans-serif" font-size="15.24" font-weight="bold" fill="#000000" textLength="52.17" lengthAdjust="spacingAndGlyphs">-165.4</text>
<text x="41.60" y="1582.52" font-family="Liberation Sans, sans-serif" font-size="15.24" font-weight="bold" fill="#000000" textLength="42.15" lengthAdjust="spacingAndGlyphs">Mlat:</text>
<text x="147.21" y="1582.52" font-family="Liberation Sans, sans-serif" font-size="15.24" font-weight="bold" fill="#000000" textLength="35.97" lengthAdjust="spacingAndGlyphs">52.9</text>
<text x="394.41" y="1582.52" font-family="Liberation Sans, sans-serif" font-size="15.24" font-weight="bold" fill="#000000" textLength="35.97" lengthAdjust="spacingAndGlyphs">70.3</text>
<text x="641.71" y="1582.52" font-family="Liberation Sans, sans-serif" font-size="15.24" font-weight="bold" fill="#000000" textLength="35.97" lengthAdjust="spacingAndGlyphs">64.0</text>
<text x="888.91" y="1582.52" font-family="Liberation Sans, sans-serif" font-size="15.24" font-weight="bold" fill="#000000" textLength="35.97" lengthAdjust="spacingAndGlyphs">41.4</text>
<text x="1136.21" y="1582.52" font-family="Liberation Sans, sans-serif" font-size="15.24" font-weight="bold" fill="#000000" textLength="35.97" lengthAdjust="spacingAndGlyphs">14.9</text>
<text x="41.60" y="1603.45" font-family="Liberation Sans, sans-serif" font-size="15.24" font-weight="bold" fill="#000000" textLength="32.31" lengthAdjust="spacingAndGlyphs">Mlt:</text>
<text x="142.14" y="1603.45" font-family="Liberation Sans, sans-serif" font-size="15.24" font-weight="bold" fill="#000000" textLength="46.12" lengthAdjust="spacingAndGlyphs">2.775</text>
<text x="389.34" y="1603.45" font-family="Liberation Sans, sans-serif" font-size="15.24" font-weight="bold" fill="#000000" textLength="46.12" lengthAdjust="spacingAndGlyphs">5.576</text>
<text x="631.57" y="1603.45" font-family="Liberation Sans, sans-serif" font-size="15.24" font-weight="bold" fill="#000000" textLength="56.26" lengthAdjust="spacingAndGlyphs">10.168</text>
<text x="878.77" y="1603.45" font-family="Liberation Sans, sans-serif" font-size="15.24" font-weight="bold" fill="#000000" textLength="56.26" lengthAdjust="spacingAndGlyphs">11.878</text>
<text x="1126.07" y="1603.45" font-family="Liberation Sans, sans-serif" font-size="15.24" font-weight="bold" fill="#000000" textLength="56.26" lengthAdjust="spacingAndGlyphs">12.670</text>
<text x="19.20" y="1643.00" font-family="Liberation Sans, sans-serif" font-size="15.24" font-weight="bold" fill="#000000" textLength="36.44" lengthAdjust="spacingAndGlyphs">MGF</text>
<text x="60.71" y="1643.00" font-family="Liberation Sans, sans-serif" font-size="15.24" font-weight="bold" fill="#000000" textLength="80.84" lengthAdjust="spacingAndGlyphs">Quicklook</text>
<text x="146.63" y="1643.00" font-family="Liberation Sans, sans-serif" font-size="15.24" font-weight="bold" fill="#000000" textLength="44.87" lengthAdjust="spacingAndGlyphs">using</text>
<text x="196.58" y="1643.00" font-family="Liberation Sans, sans-serif" font-size="15.24" font-weight="bold" fill="#000000" textLength="349.70" lengthAdjust="spacingAndGlyphs">MGF_20200704_230947_234158_v2.1.0.lv2</text>
<text x="551.35" y="1643.00" font-family="Liberation Sans, sans-serif" font-size="15.24" font-weight="bold" fill="#000000" textLength="20.40" lengthAdjust="spacingAndGlyphs">on</text>
<text x="576.83" y="1643.00" font-family="Liberation Sans, sans-serif" font-size="15.24" font-weight="bold" fill="#000000" textLength="99.16" lengthAdjust="spacingAndGlyphs">18-Jun-2024</text>
<text x="681.06" y="1643.00" font-family="Liberation Sans, sans-serif" font-size="15.24" font-weight="bold" fill="#000000" textLength="72.53" lengthAdjust="spacingAndGlyphs">22:17:33</text>
<text x="758.67" y="1643.00" font-family="Liberation Sans, sans-serif" font-size="15.24" font-weight="bold" fill="#000000" textLength="94.97" lengthAdjust="spacingAndGlyphs">(calibration</text>
<text x="858.71" y="1643.00" font-family="Liberation Sans, sans-serif" font-size="15.24" font-weight="bold" fill="#000000" textLength="38.74" lengthAdjust="spacingAndGlyphs">from</text>
<text x="902.53" y="1643.00" font-family="Liberation Sans, sans-serif" font-size="15.24" font-weight="bold" fill="#000000" textLength="327.15" lengthAdjust="spacingAndGlyphs">cas_mgf_7day_cal_2020_07_03_v2.1.mat</text>
<text x="1234.76" y="1643.00" font-family="Liberation Sans, sans-serif" font-size="15.24" font-weight="bold" fill="#000000" textLength="6.66" lengthAdjust="spacingAndGlyphs">)</text>
</svg>
</body></html>
